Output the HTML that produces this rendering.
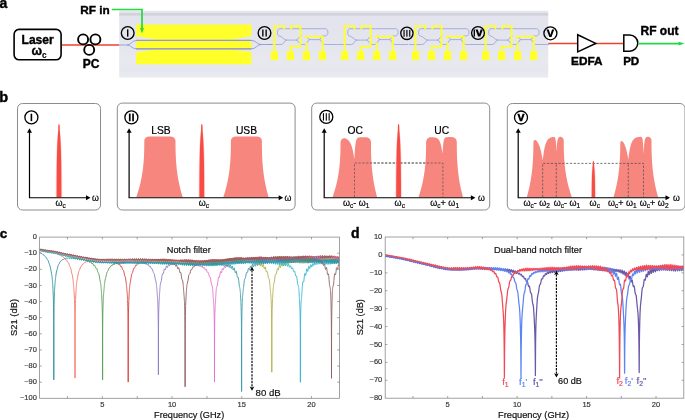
<!DOCTYPE html>
<html><head><meta charset="utf-8"><title>Figure</title><style>
html,body{margin:0;padding:0;background:#fff;overflow:hidden;}
svg{display:block;}
text{font-family:"Liberation Sans",sans-serif;}
.b{font-weight:bold;}
</style></head><body>
<svg width="685" height="420" viewBox="0 0 685 420" style="will-change:transform">
<defs>
<linearGradient id="chipg" x1="0" y1="0" x2="0" y2="1">
<stop offset="0" stop-color="#e8e8ef"/>
<stop offset="0.028" stop-color="#e4e4ec"/>
<stop offset="0.045" stop-color="#cfcfd8"/>
<stop offset="0.062" stop-color="#d2d2da"/>
<stop offset="0.085" stop-color="#e2e3ec"/>
<stop offset="0.45" stop-color="#e4e5ed"/>
<stop offset="0.75" stop-color="#e8e9ef"/>
<stop offset="0.9" stop-color="#e6e7ee"/>
<stop offset="1" stop-color="#ebecf1"/>
</linearGradient>
</defs>
<rect width="685" height="420" fill="#fff"/>

<text x="-0.6" y="7.9" class="b" font-size="14" stroke="#000" stroke-width="0.4">a</text>
<rect x="14.1" y="29.4" width="47" height="30.4" rx="5" fill="#fff" stroke="#000" stroke-width="1.6"/>
<text x="37.6" y="43.9" class="b" font-size="12" text-anchor="middle" stroke="#000" stroke-width="0.4">Laser</text>
<text x="31.5" y="54.8" class="b" font-size="12.5" stroke="#000" stroke-width="0.4">ω</text>
<text x="41.9" y="57.6" class="b" font-size="8.4" stroke="#000" stroke-width="0.12">c</text>
<line x1="62" y1="45" x2="120" y2="45" stroke="#f0402e" stroke-width="1.5"/>
<circle cx="83.1" cy="39.4" r="5.0" fill="none" stroke="#000" stroke-width="1.9"/>
<circle cx="95.4" cy="39.4" r="5.0" fill="none" stroke="#000" stroke-width="1.9"/>
<circle cx="89.2" cy="49.9" r="5.0" fill="none" stroke="#000" stroke-width="1.9"/>
<text x="91" y="68.3" class="b" font-size="12" text-anchor="middle" stroke="#000" stroke-width="0.4">PC</text>
<text x="80.3" y="13.5" class="b" font-size="11.8" stroke="#000" stroke-width="0.4">RF in</text>
<rect x="119.2" y="10.7" width="429" height="66.9" fill="url(#chipg)"/>
<path d="M119.2,45 H127 C131,45 132,40.5 136,40.5 H252 C256,40.5 257,44.5 261,44.5 H272" fill="none" stroke="#8592d8" stroke-width="0.8"/>
<path d="M127,45 C131,45 132,48.8 136,48.8 H252 C256,48.8 257,44.5 261,44.5" fill="none" stroke="#8592d8" stroke-width="0.8"/>
<path d="M136.2,24.4 H251.4 V36.1 L233,39.4 H155 L136.2,36.1 Z" fill="#ffff2a"/>
<rect x="136.2" y="41.3" width="115.2" height="6.7" fill="#ffff2a"/>
<path d="M136.2,52.1 L155,49.8 H233 L251.4,52.1 V64.3 H136.2 Z" fill="#ffff2a"/>
<path d="M136.2,40.4 H251.4 M136.2,48.9 H251.4" stroke="#9c9ca4" stroke-width="1.1" fill="none"/>
<path d="M111.8,9.5 H142 V29" fill="none" stroke="#22d944" stroke-width="1.7"/>
<path d="M140.1,28.0 L143.9,28.0 L142,33.5 Z" fill="#22d944"/>
<path d="M267.8,44.5 H281.3 C283.8,44.5 284.3,40.1 286.8,40.1 H296.1 C298.6,40.1 299.1,44.5 301.6,44.5 H304.8 C307.3,44.5 307.3,39.6 309.8,39.6 H319.3 C321.8,39.6 321.8,44.5 324.3,44.5 H337.8" fill="none" stroke="#8592d8" stroke-width="0.65"/><path d="M286.8,40.1 C283.8,40.1 281.8,36 279.3,36 C276.8,36 276.8,28.7 279.8,28.7 H325.3 C328.8,28.7 328.8,35.9 325.3,35.9 H322.8 C321.3,35.9 320.8,39.6 319.3,39.6" fill="none" stroke="#8592d8" stroke-width="0.65"/><path d="M296.1,40.1 C298.3,40.1 298.8,36 301.3,36" fill="none" stroke="#8592d8" stroke-width="0.65"/><path d="M309.8,39.6 C308.3,39.6 307.8,37 306.8,36.6" fill="none" stroke="#8592d8" stroke-width="0.65"/><path d="M274.40000000000003,52 V26.1 H284.2 V29.5 M290.6,52 V46.6 H300.40000000000003 V26.1 H291.2 V29.5 M306.40000000000003,52 V42.6 M306.1,38.6 V36.6 H322.6 V52" fill="none" stroke="#ffff2a" stroke-width="1.9"/><rect x="270.80" y="51.2" width="7.2" height="9" fill="#ffff2a"/><rect x="286.80" y="51.2" width="7.2" height="9" fill="#ffff2a"/><rect x="302.80" y="51.2" width="7.2" height="9" fill="#ffff2a"/><rect x="318.80" y="51.2" width="7.2" height="9" fill="#ffff2a"/>
<path d="M338.0,44.5 H351.5 C354.0,44.5 354.5,40.1 357.0,40.1 H366.3 C368.8,40.1 369.3,44.5 371.8,44.5 H375.0 C377.5,44.5 377.5,39.6 380.0,39.6 H389.5 C392.0,39.6 392.0,44.5 394.5,44.5 H408.0" fill="none" stroke="#8592d8" stroke-width="0.65"/><path d="M357.0,40.1 C354.0,40.1 352.0,36 349.5,36 C347.0,36 347.0,28.7 350.0,28.7 H395.5 C399.0,28.7 399.0,35.9 395.5,35.9 H393.0 C391.5,35.9 391.0,39.6 389.5,39.6" fill="none" stroke="#8592d8" stroke-width="0.65"/><path d="M366.3,40.1 C368.5,40.1 369.0,36 371.5,36" fill="none" stroke="#8592d8" stroke-width="0.65"/><path d="M380.0,39.6 C378.5,39.6 378.0,37 377.0,36.6" fill="none" stroke="#8592d8" stroke-width="0.65"/><path d="M344.6,52 V26.1 H354.4 V29.5 M360.8,52 V46.6 H370.6 V26.1 H361.4 V29.5 M376.6,52 V42.6 M376.3,38.6 V36.6 H392.8 V52" fill="none" stroke="#ffff2a" stroke-width="1.9"/><rect x="341.00" y="51.2" width="7.2" height="9" fill="#ffff2a"/><rect x="357.00" y="51.2" width="7.2" height="9" fill="#ffff2a"/><rect x="373.00" y="51.2" width="7.2" height="9" fill="#ffff2a"/><rect x="389.00" y="51.2" width="7.2" height="9" fill="#ffff2a"/>
<path d="M408.9,44.5 H422.4 C424.9,44.5 425.4,40.1 427.9,40.1 H437.2 C439.7,40.1 440.2,44.5 442.7,44.5 H445.9 C448.4,44.5 448.4,39.6 450.9,39.6 H460.4 C462.9,39.6 462.9,44.5 465.4,44.5 H478.9" fill="none" stroke="#8592d8" stroke-width="0.65"/><path d="M427.9,40.1 C424.9,40.1 422.9,36 420.4,36 C417.9,36 417.9,28.7 420.9,28.7 H466.4 C469.9,28.7 469.9,35.9 466.4,35.9 H463.9 C462.4,35.9 461.9,39.6 460.4,39.6" fill="none" stroke="#8592d8" stroke-width="0.65"/><path d="M437.2,40.1 C439.4,40.1 439.9,36 442.4,36" fill="none" stroke="#8592d8" stroke-width="0.65"/><path d="M450.9,39.6 C449.4,39.6 448.9,37 447.9,36.6" fill="none" stroke="#8592d8" stroke-width="0.65"/><path d="M415.5,52 V26.1 H425.29999999999995 V29.5 M431.7,52 V46.6 H441.5 V26.1 H432.29999999999995 V29.5 M447.5,52 V42.6 M447.2,38.6 V36.6 H463.7 V52" fill="none" stroke="#ffff2a" stroke-width="1.9"/><rect x="411.90" y="51.2" width="7.2" height="9" fill="#ffff2a"/><rect x="427.90" y="51.2" width="7.2" height="9" fill="#ffff2a"/><rect x="443.90" y="51.2" width="7.2" height="9" fill="#ffff2a"/><rect x="459.90" y="51.2" width="7.2" height="9" fill="#ffff2a"/>
<path d="M479.0,44.5 H492.5 C495.0,44.5 495.5,40.1 498.0,40.1 H507.3 C509.8,40.1 510.3,44.5 512.8,44.5 H516.0 C518.5,44.5 518.5,39.6 521.0,39.6 H530.5 C533.0,39.6 533.0,44.5 535.5,44.5 H549.0" fill="none" stroke="#8592d8" stroke-width="0.65"/><path d="M498.0,40.1 C495.0,40.1 493.0,36 490.5,36 C488.0,36 488.0,28.7 491.0,28.7 H536.5 C540.0,28.7 540.0,35.9 536.5,35.9 H534.0 C532.5,35.9 532.0,39.6 530.5,39.6" fill="none" stroke="#8592d8" stroke-width="0.65"/><path d="M507.3,40.1 C509.5,40.1 510.0,36 512.5,36" fill="none" stroke="#8592d8" stroke-width="0.65"/><path d="M521.0,39.6 C519.5,39.6 519.0,37 518.0,36.6" fill="none" stroke="#8592d8" stroke-width="0.65"/><path d="M485.6,52 V26.1 H495.4 V29.5 M501.8,52 V46.6 H511.6 V26.1 H502.4 V29.5 M517.6,52 V42.6 M517.3,38.6 V36.6 H533.8 V52" fill="none" stroke="#ffff2a" stroke-width="1.9"/><rect x="482.00" y="51.2" width="7.2" height="9" fill="#ffff2a"/><rect x="498.00" y="51.2" width="7.2" height="9" fill="#ffff2a"/><rect x="514.00" y="51.2" width="7.2" height="9" fill="#ffff2a"/><rect x="530.00" y="51.2" width="7.2" height="9" fill="#ffff2a"/>
<path d="M549,43.7 H548" stroke="#8592d8" stroke-width="0.65"/>
<circle cx="127.7" cy="33.0" r="6.35" fill="none" stroke="#000" stroke-width="1.35"/><rect x="127.00" y="29.35" width="1.4" height="7.3" fill="#000"/>
<circle cx="264.5" cy="33.0" r="6.35" fill="none" stroke="#000" stroke-width="1.35"/><rect x="262.18" y="29.50" width="1.35" height="7.0" fill="#000"/><rect x="265.47" y="29.50" width="1.35" height="7.0" fill="#000"/>
<circle cx="406.9" cy="33.3" r="6.15" fill="none" stroke="#000" stroke-width="1.35"/><rect x="403.48" y="29.90" width="1.15" height="6.8" fill="#000"/><rect x="406.33" y="29.90" width="1.15" height="6.8" fill="#000"/><rect x="409.18" y="29.90" width="1.15" height="6.8" fill="#000"/>
<circle cx="478.0" cy="33.0" r="6.4" fill="none" stroke="#000" stroke-width="1.35"/><rect x="473.62" y="29.50" width="1.35" height="7.0" fill="#000"/><path d="M475.50,29.50 L477.80,29.50 L479.20,33.90 L480.60,29.50 L482.90,29.50 L480.30,36.50 L478.10,36.50 Z" fill="#000"/>
<circle cx="550.4" cy="33.3" r="6.5" fill="none" stroke="#000" stroke-width="1.35"/><path d="M546.60,29.50 L548.80,29.50 L550.40,34.70 L552.00,29.50 L554.20,29.50 L551.50,37.10 L549.30,37.10 Z" fill="#000"/>
<line x1="548.5" y1="43.6" x2="624" y2="43.6" stroke="#f0402e" stroke-width="1.5"/>
<path d="M577.7,34.8 L595.7,43.4 L577.7,51.9 Z" fill="#fff" stroke="#000" stroke-width="1.5" stroke-linejoin="miter"/>
<path d="M623.8,35 H629.7 A8.1,8.1 0 0 1 629.7,51.2 H623.8 Z" fill="#fff" stroke="#000" stroke-width="1.5"/>
<line x1="637.9" y1="43.6" x2="680" y2="43.6" stroke="#22d944" stroke-width="1.6"/>
<path d="M678.5,41.8 L684.5,43.6 L678.5,45.4 Z" fill="#22d944"/>
<text x="586.8" y="65.1" class="b" font-size="11.8" text-anchor="middle" stroke="#000" stroke-width="0.4">EDFA</text>
<text x="631.2" y="65.1" class="b" font-size="11.6" text-anchor="middle" stroke="#000" stroke-width="0.4">PD</text>
<text x="659.5" y="35.1" class="b" font-size="12" text-anchor="middle" stroke="#000" stroke-width="0.4">RF out</text>
<text x="-0.8" y="101.8" class="b" font-size="14.5" stroke="#000" stroke-width="0.4">b</text>
<rect x="17.5" y="103.5" width="83" height="106.5" rx="5" fill="#fff" stroke="#8c8c8c" stroke-width="1"/>
<circle cx="31.4" cy="117.4" r="6.5" fill="#fff" stroke="#000" stroke-width="1.3"/><rect x="30.60" y="113.70" width="1.6" height="7.4" fill="#000"/>
<path d="M55.71,197.20 55.72,193.61 55.74,190.10 55.75,186.69 55.77,183.37 55.80,180.14 55.83,177.00 55.86,173.95 55.90,170.99 55.94,168.13 55.99,165.35 56.04,162.67 56.11,160.07 56.17,157.57 56.25,155.16 56.33,152.84 56.42,150.61 56.52,148.47 56.62,146.42 56.74,144.47 56.86,142.60 56.98,140.83 57.11,139.14 57.25,137.55 57.39,136.05 57.53,134.64 57.67,133.32 57.81,132.09 57.96,130.95 58.09,129.91 58.23,128.95 58.28,128.09 58.28,127.31 58.28,126.63 58.38,126.04 58.48,125.54 58.59,125.13 58.69,124.81 58.79,124.58 58.90,124.45 59.00,124.40 59.00,124.40 59.10,124.45 59.21,124.58 59.31,124.81 59.41,125.13 59.52,125.54 59.62,126.04 59.72,126.63 59.72,127.31 59.72,128.09 59.77,128.95 59.91,129.91 60.04,130.95 60.19,132.09 60.33,133.32 60.47,134.64 60.61,136.05 60.75,137.55 60.89,139.14 61.02,140.83 61.14,142.60 61.26,144.47 61.38,146.42 61.48,148.47 61.58,150.61 61.67,152.84 61.75,155.16 61.83,157.57 61.89,160.07 61.96,162.67 62.01,165.35 62.06,168.13 62.10,170.99 62.14,173.95 62.17,177.00 62.20,180.14 62.23,183.37 62.25,186.69 62.26,190.10 62.28,193.61 62.29,197.20Z" fill-opacity="0.22" fill="#f64c43"/><path d="M56.59,197.20 56.60,193.58 56.61,190.05 56.62,186.62 56.64,183.27 56.66,180.02 56.68,176.86 56.70,173.79 56.73,170.81 56.76,167.93 56.80,165.13 56.84,162.43 56.88,159.82 56.93,157.30 56.98,154.87 57.05,152.53 57.11,150.29 57.18,148.13 57.26,146.07 57.34,144.10 57.43,142.22 57.52,140.44 57.62,138.74 57.71,137.14 57.82,135.63 57.92,134.21 58.03,132.88 58.13,131.64 58.23,130.50 58.28,129.44 58.28,128.48 58.28,127.61 58.28,126.83 58.28,126.14 58.38,125.55 58.48,125.05 58.58,124.63 58.69,124.31 58.79,124.08 58.90,123.95 59.00,123.90 59.00,123.90 59.10,123.95 59.21,124.08 59.31,124.31 59.42,124.63 59.52,125.05 59.62,125.55 59.72,126.14 59.72,126.83 59.72,127.61 59.72,128.48 59.72,129.44 59.77,130.50 59.87,131.64 59.97,132.88 60.08,134.21 60.18,135.63 60.29,137.14 60.38,138.74 60.48,140.44 60.57,142.22 60.66,144.10 60.74,146.07 60.82,148.13 60.89,150.29 60.95,152.53 61.02,154.87 61.07,157.30 61.12,159.82 61.16,162.43 61.20,165.13 61.24,167.93 61.27,170.81 61.30,173.79 61.32,176.86 61.34,180.02 61.36,183.27 61.38,186.62 61.39,190.05 61.40,193.58 61.41,197.20Z" fill="#f64c43"/>
<path d="M29.5,131.2 V197.75 H87.5" fill="none" stroke="#000" stroke-width="1.2"/><path d="M27.0,132.7 L29.5,128.2 L32.0,132.7 Z" fill="#000"/><path d="M86.0,195.25 L90.5,197.75 L86.0,200.25 Z" fill="#000"/>
<text x="92.0" y="200.9" font-size="8.8" stroke="#000" stroke-width="0.2">ω</text>
<text x="55.4" y="206.0" font-size="9" stroke="#000" stroke-width="0.2">ω<tspan font-size="6.5" dy="2.4">c</tspan></text>
<rect x="117.3" y="103.1" width="177.8" height="106.9" rx="5" fill="#fff" stroke="#8c8c8c" stroke-width="1"/>
<circle cx="131.4" cy="117.4" r="6.5" fill="#fff" stroke="#000" stroke-width="1.3"/><rect x="128.90" y="113.55" width="1.7" height="7.7" fill="#000"/><rect x="132.20" y="113.55" width="1.7" height="7.7" fill="#000"/>
<path d="M136.25,197.20 137.06,194.86 137.82,192.52 138.53,190.19 139.20,187.85 139.81,185.51 140.38,183.17 140.90,180.84 141.38,178.50 141.81,176.16 142.21,173.82 142.56,171.49 142.88,169.15 143.16,166.81 143.40,164.47 143.61,162.14 143.78,159.80 143.93,157.46 144.05,155.12 144.14,152.79 144.21,150.45 144.26,148.11 144.28,145.78 144.30,143.44 144.30,141.10 144.30,141.10 144.55,139.62 144.80,139.04 145.05,138.61 145.30,138.27 145.55,137.99 145.80,137.75 146.05,137.54 146.30,137.36 146.55,137.20 146.80,137.07 147.05,136.95 147.30,136.86 147.55,136.78 147.80,136.71 148.05,136.66 148.30,136.63 148.55,136.61 148.80,136.60 149.05,136.60 149.30,136.60 149.55,136.60 149.80,136.60 150.05,136.60 150.30,136.60 150.55,136.60 150.80,136.60 151.05,136.60 151.30,136.60 151.55,136.60 151.80,136.60 152.05,136.60 152.30,136.60 152.55,136.60 152.80,136.60 153.05,136.60 153.30,136.60 153.55,136.60 153.80,136.60 154.05,136.60 154.30,136.60 154.55,136.60 154.80,136.60 155.05,136.60 155.30,136.60 155.55,136.60 155.80,136.60 156.05,136.60 156.30,136.60 156.55,136.60 156.80,136.60 157.05,136.60 157.30,136.60 157.55,136.60 157.80,136.60 158.05,136.60 158.30,136.60 158.55,136.60 158.80,136.60 159.05,136.60 159.30,136.60 159.55,136.60 159.80,136.60 160.05,136.60 160.30,136.60 160.55,136.60 160.80,136.60 161.05,136.60 161.30,136.60 161.55,136.60 161.80,136.60 162.05,136.60 162.30,136.60 162.55,136.60 162.80,136.60 163.05,136.60 163.30,136.60 163.55,136.60 163.80,136.60 164.05,136.60 164.30,136.60 164.55,136.60 164.80,136.60 165.05,136.60 165.30,136.60 165.55,136.60 165.80,136.60 166.05,136.60 166.30,136.60 166.55,136.60 166.80,136.60 167.05,136.60 167.30,136.60 167.55,136.60 167.80,136.60 168.05,136.60 168.30,136.60 168.55,136.60 168.80,136.60 169.05,136.60 169.30,136.60 169.55,136.60 169.80,136.60 170.05,136.60 170.30,136.60 170.55,136.60 170.80,136.60 171.05,136.60 171.30,136.61 171.55,136.63 171.80,136.67 172.05,136.72 172.30,136.79 172.55,136.88 172.80,136.98 173.05,137.09 173.30,137.23 173.55,137.39 173.80,137.58 174.05,137.79 174.30,138.04 174.55,138.33 174.80,138.69 175.05,139.14 175.30,139.77 175.50,141.10 175.50,143.44 175.51,145.78 175.54,148.11 175.58,150.45 175.64,152.79 175.72,155.12 175.83,157.46 175.96,159.80 176.12,162.14 176.31,164.47 176.52,166.81 176.77,169.15 177.05,171.49 177.37,173.82 177.72,176.16 178.11,178.50 178.54,180.84 179.01,183.17 179.52,185.51 180.06,187.85 180.66,190.19 181.29,192.52 181.97,194.86 182.70,197.20Z" fill="#f6867e"/>
<path d="M223.30,197.20 224.07,194.86 224.79,192.52 225.46,190.19 226.08,187.85 226.66,185.51 227.20,183.17 227.69,180.84 228.14,178.50 228.55,176.16 228.92,173.82 229.26,171.49 229.56,169.15 229.82,166.81 230.05,164.47 230.25,162.14 230.41,159.80 230.55,157.46 230.66,155.12 230.75,152.79 230.81,150.45 230.86,148.11 230.88,145.78 230.90,143.44 230.90,141.10 230.90,141.10 231.15,139.62 231.40,139.04 231.65,138.61 231.90,138.27 232.15,137.99 232.40,137.75 232.65,137.54 232.90,137.36 233.15,137.20 233.40,137.07 233.65,136.95 233.90,136.86 234.15,136.78 234.40,136.71 234.65,136.66 234.90,136.63 235.15,136.61 235.40,136.60 235.65,136.60 235.90,136.60 236.15,136.60 236.40,136.60 236.65,136.60 236.90,136.60 237.15,136.60 237.40,136.60 237.65,136.60 237.90,136.60 238.15,136.60 238.40,136.60 238.65,136.60 238.90,136.60 239.15,136.60 239.40,136.60 239.65,136.60 239.90,136.60 240.15,136.60 240.40,136.60 240.65,136.60 240.90,136.60 241.15,136.60 241.40,136.60 241.65,136.60 241.90,136.60 242.15,136.60 242.40,136.60 242.65,136.60 242.90,136.60 243.15,136.60 243.40,136.60 243.65,136.60 243.90,136.60 244.15,136.60 244.40,136.60 244.65,136.60 244.90,136.60 245.15,136.60 245.40,136.60 245.65,136.60 245.90,136.60 246.15,136.60 246.40,136.60 246.65,136.60 246.90,136.60 247.15,136.60 247.40,136.60 247.65,136.60 247.90,136.60 248.15,136.60 248.40,136.60 248.65,136.60 248.90,136.60 249.15,136.60 249.40,136.60 249.65,136.60 249.90,136.60 250.15,136.60 250.40,136.60 250.65,136.60 250.90,136.60 251.15,136.60 251.40,136.60 251.65,136.60 251.90,136.60 252.15,136.60 252.40,136.60 252.65,136.60 252.90,136.60 253.15,136.60 253.40,136.60 253.65,136.60 253.90,136.60 254.15,136.60 254.40,136.60 254.65,136.60 254.90,136.60 255.15,136.60 255.40,136.60 255.65,136.60 255.90,136.60 256.15,136.60 256.40,136.60 256.65,136.60 256.90,136.60 257.15,136.60 257.40,136.60 257.65,136.61 257.90,136.63 258.15,136.66 258.40,136.71 258.65,136.78 258.90,136.86 259.15,136.95 259.40,137.07 259.65,137.20 259.90,137.36 260.15,137.54 260.40,137.75 260.65,137.99 260.90,138.27 261.15,138.61 261.40,139.04 261.65,139.62 261.90,141.10 261.90,141.10 261.90,143.44 261.91,145.78 261.94,148.11 261.98,150.45 262.03,152.79 262.11,155.12 262.21,157.46 262.33,159.80 262.48,162.14 262.65,164.47 262.85,166.81 263.08,169.15 263.35,171.49 263.64,173.82 263.97,176.16 264.33,178.50 264.73,180.84 265.16,183.17 265.64,185.51 266.15,187.85 266.70,190.19 267.29,192.52 267.92,194.86 268.60,197.20Z" fill="#f6867e"/>
<path d="M198.51,197.20 198.52,193.61 198.54,190.10 198.55,186.69 198.57,183.37 198.60,180.14 198.63,177.00 198.66,173.95 198.70,170.99 198.74,168.13 198.79,165.35 198.84,162.67 198.91,160.07 198.97,157.57 199.05,155.16 199.13,152.84 199.22,150.61 199.32,148.47 199.42,146.42 199.54,144.47 199.66,142.60 199.78,140.83 199.91,139.14 200.05,137.55 200.19,136.05 200.33,134.64 200.47,133.32 200.61,132.09 200.76,130.95 200.89,129.91 201.03,128.95 201.08,128.09 201.08,127.31 201.08,126.63 201.18,126.04 201.28,125.54 201.39,125.13 201.49,124.81 201.59,124.58 201.70,124.45 201.80,124.40 201.80,124.40 201.90,124.45 202.01,124.58 202.11,124.81 202.21,125.13 202.32,125.54 202.42,126.04 202.52,126.63 202.52,127.31 202.52,128.09 202.57,128.95 202.71,129.91 202.84,130.95 202.99,132.09 203.13,133.32 203.27,134.64 203.41,136.05 203.55,137.55 203.69,139.14 203.82,140.83 203.94,142.60 204.06,144.47 204.18,146.42 204.28,148.47 204.38,150.61 204.47,152.84 204.55,155.16 204.63,157.57 204.69,160.07 204.76,162.67 204.81,165.35 204.86,168.13 204.90,170.99 204.94,173.95 204.97,177.00 205.00,180.14 205.03,183.37 205.05,186.69 205.06,190.10 205.08,193.61 205.09,197.20Z" fill-opacity="0.22" fill="#f64c43"/><path d="M199.39,197.20 199.40,193.58 199.41,190.05 199.42,186.62 199.44,183.27 199.46,180.02 199.48,176.86 199.50,173.79 199.53,170.81 199.56,167.93 199.60,165.13 199.64,162.43 199.68,159.82 199.73,157.30 199.78,154.87 199.85,152.53 199.91,150.29 199.98,148.13 200.06,146.07 200.14,144.10 200.23,142.22 200.32,140.44 200.42,138.74 200.51,137.14 200.62,135.63 200.72,134.21 200.83,132.88 200.93,131.64 201.03,130.50 201.08,129.44 201.08,128.48 201.08,127.61 201.08,126.83 201.08,126.14 201.18,125.55 201.28,125.05 201.38,124.63 201.49,124.31 201.59,124.08 201.70,123.95 201.80,123.90 201.80,123.90 201.90,123.95 202.01,124.08 202.11,124.31 202.22,124.63 202.32,125.05 202.42,125.55 202.52,126.14 202.52,126.83 202.52,127.61 202.52,128.48 202.52,129.44 202.57,130.50 202.67,131.64 202.77,132.88 202.88,134.21 202.98,135.63 203.09,137.14 203.18,138.74 203.28,140.44 203.37,142.22 203.46,144.10 203.54,146.07 203.62,148.13 203.69,150.29 203.75,152.53 203.82,154.87 203.87,157.30 203.92,159.82 203.96,162.43 204.00,165.13 204.04,167.93 204.07,170.81 204.10,173.79 204.12,176.86 204.14,180.02 204.16,183.27 204.18,186.62 204.19,190.05 204.20,193.58 204.21,197.20Z" fill="#f64c43"/>
<path d="M129.1,131.2 V197.75 H280.2" fill="none" stroke="#000" stroke-width="1.2"/><path d="M126.6,132.7 L129.1,128.2 L131.6,132.7 Z" fill="#000"/><path d="M278.7,195.25 L283.2,197.75 L278.7,200.25 Z" fill="#000"/>
<text x="284.6" y="200.9" font-size="8.8" stroke="#000" stroke-width="0.2">ω</text>
<text x="198.8" y="206.0" font-size="9" stroke="#000" stroke-width="0.2">ω<tspan font-size="6.5" dy="2.4">c</tspan></text>
<text x="160.9" y="133.9" font-size="10.3" text-anchor="middle" stroke="#000" stroke-width="0.2">LSB</text>
<text x="246.5" y="133.9" font-size="10.3" text-anchor="middle" stroke="#000" stroke-width="0.2">USB</text>
<rect x="311.7" y="103.1" width="178.0" height="106.9" rx="5" fill="#fff" stroke="#8c8c8c" stroke-width="1"/>
<circle cx="326.3" cy="116.9" r="6.5" fill="#fff" stroke="#000" stroke-width="1.3"/><rect x="322.90" y="113.20" width="1.10" height="7.4" fill="#000"/><rect x="325.75" y="113.20" width="1.10" height="7.4" fill="#000"/><rect x="328.60" y="113.20" width="1.10" height="7.4" fill="#000"/>
<path d="M354.5,197 V163 H442.9 V197" fill="none" stroke="#555" stroke-width="0.8" stroke-dasharray="2.2,1.6"/>
<path d="M332.50,197.20 333.31,194.91 334.06,192.62 334.77,190.34 335.43,188.05 336.04,185.76 336.60,183.47 337.12,181.19 337.60,178.90 338.03,176.61 338.42,174.32 338.77,172.04 339.09,169.75 339.36,167.46 339.60,165.18 339.81,162.89 339.99,160.60 340.13,158.31 340.25,156.03 340.34,153.74 340.41,151.45 340.46,149.16 340.48,146.88 340.50,144.59 340.50,142.30 340.50,142.52 340.75,140.98 341.00,140.38 341.25,139.95 341.50,139.61 341.75,139.32 342.00,139.09 342.25,138.89 342.50,138.73 342.75,138.59 343.00,138.47 343.25,138.38 343.50,138.31 343.75,138.26 344.00,138.23 344.25,138.22 344.50,138.23 344.75,138.26 345.00,138.31 345.25,138.37 345.50,138.46 345.75,138.56 346.00,138.67 346.25,138.79 346.50,138.92 346.75,139.06 347.00,139.21 347.25,139.38 347.50,139.56 347.75,139.75 348.00,139.96 348.25,140.20 348.50,140.45 348.75,140.72 349.00,141.02 349.25,141.34 349.50,141.69 349.75,142.08 350.00,142.49 350.25,142.94 350.50,143.43 350.75,143.96 351.00,144.54 351.25,145.17 351.50,145.86 351.75,146.60 352.00,147.41 352.25,148.29 352.50,149.24 352.75,150.28 353.00,151.41 353.25,152.64 353.50,153.97 353.75,155.42 354.00,156.99 354.25,158.70 354.50,157.43 354.75,152.55 355.00,148.85 355.25,146.05 355.50,143.93 355.75,142.32 356.00,141.10 356.25,140.18 356.50,139.48 356.75,138.95 357.00,138.55 357.25,138.25 357.50,138.02 357.75,137.84 358.00,137.71 358.25,137.61 358.50,137.54 358.75,137.48 359.00,137.44 359.25,137.40 359.50,137.38 359.75,137.36 360.00,137.34 360.25,137.33 360.50,137.33 360.75,137.32 361.00,137.31 361.25,137.31 361.50,137.31 361.75,137.31 362.00,137.30 362.25,137.30 362.50,137.30 362.75,137.30 363.00,137.30 363.25,137.30 363.50,137.30 363.75,137.30 364.00,137.30 364.25,137.30 364.50,137.30 364.75,137.30 365.00,137.30 365.25,137.30 365.50,137.30 365.75,137.30 366.00,137.30 366.25,137.31 366.50,137.33 366.75,137.36 367.00,137.40 367.25,137.46 367.50,137.53 367.75,137.62 368.00,137.72 368.25,137.83 368.50,137.97 368.75,138.12 369.00,138.30 369.25,138.50 369.50,138.73 369.75,138.99 370.00,139.30 370.25,139.67 370.50,140.12 370.75,140.74 371.00,142.30 371.00,142.30 371.00,144.59 371.01,146.88 371.03,149.16 371.07,151.45 371.12,153.74 371.19,156.03 371.28,158.31 371.39,160.60 371.53,162.89 371.68,165.18 371.87,167.46 372.08,169.75 372.32,172.04 372.59,174.32 372.88,176.61 373.21,178.90 373.58,181.19 373.97,183.47 374.40,185.76 374.87,188.05 375.37,190.34 375.91,192.62 376.48,194.91 377.10,197.20Z" fill="#f6867e"/>
<path d="M418.50,197.20 419.27,194.90 419.99,192.61 420.66,190.31 421.28,188.02 421.86,185.72 422.40,183.42 422.89,181.13 423.34,178.83 423.75,176.54 424.12,174.24 424.46,171.95 424.76,169.65 425.02,167.35 425.25,165.06 425.45,162.76 425.61,160.47 425.75,158.17 425.86,155.88 425.95,153.58 426.01,151.28 426.06,148.99 426.08,146.69 426.10,144.40 426.10,142.10 426.10,142.10 426.35,140.54 426.60,139.93 426.85,139.47 427.10,139.11 427.35,138.80 427.60,138.54 427.85,138.31 428.10,138.11 428.35,137.94 428.60,137.79 428.85,137.65 429.10,137.54 429.35,137.44 429.60,137.36 429.85,137.29 430.10,137.24 430.35,137.20 430.60,137.17 430.85,137.16 431.10,137.16 431.35,137.17 431.60,137.17 431.85,137.18 432.10,137.20 432.35,137.21 432.60,137.22 432.85,137.24 433.10,137.26 433.35,137.28 433.60,137.30 433.85,137.33 434.10,137.36 434.35,137.39 434.60,137.43 434.85,137.48 435.10,137.53 435.35,137.58 435.60,137.65 435.85,137.72 436.10,137.81 436.35,137.90 436.60,138.01 436.85,138.13 437.10,138.26 437.35,138.42 437.60,138.59 437.85,138.79 438.10,139.02 438.35,139.27 438.60,139.56 438.85,139.89 439.10,140.26 439.35,140.68 439.60,141.16 439.85,141.70 440.10,142.31 440.35,143.00 440.60,143.79 440.85,144.68 441.10,145.69 441.35,146.83 441.60,148.13 441.85,149.60 442.10,151.26 442.35,153.15 442.60,152.37 442.85,148.27 443.10,145.27 443.35,143.08 443.60,141.47 443.85,140.30 444.10,139.44 444.35,138.81 444.60,138.35 444.85,138.02 445.10,137.77 445.35,137.59 445.60,137.46 445.85,137.36 446.10,137.29 446.35,137.24 446.60,137.20 446.85,137.18 447.10,137.16 447.35,137.14 447.60,137.13 447.85,137.12 448.10,137.12 448.35,137.11 448.60,137.11 448.85,137.11 449.10,137.10 449.35,137.10 449.60,137.10 449.85,137.10 450.10,137.10 450.35,137.10 450.60,137.10 450.85,137.10 451.10,137.10 451.35,137.10 451.60,137.10 451.85,137.10 452.10,137.11 452.35,137.13 452.60,137.16 452.85,137.21 453.10,137.27 453.35,137.35 453.60,137.44 453.85,137.54 454.10,137.66 454.35,137.80 454.60,137.96 454.85,138.14 455.10,138.34 455.35,138.58 455.60,138.85 455.85,139.17 456.10,139.55 456.35,140.03 456.60,140.70 456.80,142.10 456.80,144.40 456.81,146.69 456.83,148.99 456.87,151.28 456.92,153.58 456.99,155.88 457.08,158.17 457.20,160.47 457.33,162.76 457.49,165.06 457.68,167.35 457.90,169.65 458.14,171.95 458.41,174.24 458.71,176.54 459.05,178.83 459.42,181.13 459.82,183.42 460.26,185.72 460.73,188.02 461.24,190.31 461.79,192.61 462.37,194.90 463.00,197.20Z" fill="#f6867e"/>
<path d="M354.5,197 V163 H442.9 V197" fill="none" stroke="#555" stroke-width="0.8" stroke-dasharray="2.2,1.6" opacity="0.9"/>
<path d="M395.31,197.20 395.32,193.61 395.34,190.10 395.35,186.69 395.37,183.37 395.40,180.14 395.43,177.00 395.46,173.95 395.50,170.99 395.54,168.13 395.59,165.35 395.64,162.67 395.71,160.07 395.77,157.57 395.85,155.16 395.93,152.84 396.02,150.61 396.12,148.47 396.22,146.42 396.34,144.47 396.46,142.60 396.58,140.83 396.71,139.14 396.85,137.55 396.99,136.05 397.13,134.64 397.27,133.32 397.41,132.09 397.56,130.95 397.69,129.91 397.83,128.95 397.88,128.09 397.88,127.31 397.88,126.63 397.98,126.04 398.08,125.54 398.19,125.13 398.29,124.81 398.39,124.58 398.50,124.45 398.60,124.40 398.60,124.40 398.70,124.45 398.81,124.58 398.91,124.81 399.01,125.13 399.12,125.54 399.22,126.04 399.32,126.63 399.32,127.31 399.32,128.09 399.37,128.95 399.51,129.91 399.64,130.95 399.79,132.09 399.93,133.32 400.07,134.64 400.21,136.05 400.35,137.55 400.49,139.14 400.62,140.83 400.74,142.60 400.86,144.47 400.98,146.42 401.08,148.47 401.18,150.61 401.27,152.84 401.35,155.16 401.43,157.57 401.49,160.07 401.56,162.67 401.61,165.35 401.66,168.13 401.70,170.99 401.74,173.95 401.77,177.00 401.80,180.14 401.83,183.37 401.85,186.69 401.86,190.10 401.88,193.61 401.89,197.20Z" fill-opacity="0.22" fill="#f64c43"/><path d="M396.19,197.20 396.20,193.58 396.21,190.05 396.22,186.62 396.24,183.27 396.26,180.02 396.28,176.86 396.30,173.79 396.33,170.81 396.36,167.93 396.40,165.13 396.44,162.43 396.48,159.82 396.53,157.30 396.58,154.87 396.65,152.53 396.71,150.29 396.78,148.13 396.86,146.07 396.94,144.10 397.03,142.22 397.12,140.44 397.22,138.74 397.31,137.14 397.42,135.63 397.52,134.21 397.63,132.88 397.73,131.64 397.83,130.50 397.88,129.44 397.88,128.48 397.88,127.61 397.88,126.83 397.88,126.14 397.98,125.55 398.08,125.05 398.18,124.63 398.29,124.31 398.39,124.08 398.50,123.95 398.60,123.90 398.60,123.90 398.70,123.95 398.81,124.08 398.91,124.31 399.02,124.63 399.12,125.05 399.22,125.55 399.32,126.14 399.32,126.83 399.32,127.61 399.32,128.48 399.32,129.44 399.37,130.50 399.47,131.64 399.57,132.88 399.68,134.21 399.78,135.63 399.89,137.14 399.98,138.74 400.08,140.44 400.17,142.22 400.26,144.10 400.34,146.07 400.42,148.13 400.49,150.29 400.55,152.53 400.62,154.87 400.67,157.30 400.72,159.82 400.76,162.43 400.80,165.13 400.84,167.93 400.87,170.81 400.90,173.79 400.92,176.86 400.94,180.02 400.96,183.27 400.98,186.62 400.99,190.05 401.00,193.58 401.01,197.20Z" fill="#f64c43"/>
<path d="M324.2,131.2 V197.75 H472.4" fill="none" stroke="#000" stroke-width="1.2"/><path d="M321.7,132.7 L324.2,128.2 L326.7,132.7 Z" fill="#000"/><path d="M470.9,195.25 L475.4,197.75 L470.9,200.25 Z" fill="#000"/>
<text x="478.0" y="200.9" font-size="8.8" stroke="#000" stroke-width="0.2">ω</text>
<text x="394.6" y="206.0" font-size="9" stroke="#000" stroke-width="0.2">ω<tspan font-size="6.5" dy="2.4">c</tspan></text>
<text x="355.3" y="133.6" font-size="10.3" text-anchor="middle" stroke="#000" stroke-width="0.2">OC</text>
<text x="441.8" y="133.6" font-size="10.3" text-anchor="middle" stroke="#000" stroke-width="0.2">UC</text>
<text x="342.9" y="206.0" font-size="9" stroke="#000" stroke-width="0.2">ω<tspan font-size="6.5" dy="2.4">c</tspan><tspan dy="-2.4">-</tspan> ω<tspan font-size="6.5" dy="2.4">1</tspan></text>
<text x="430.3" y="206.0" font-size="9" stroke="#000" stroke-width="0.2">ω<tspan font-size="6.5" dy="2.4">c</tspan><tspan dy="-2.4">+</tspan> ω<tspan font-size="6.5" dy="2.4">1</tspan></text>
<rect x="507.3" y="103.5" width="177.7" height="106.5" rx="5" fill="#fff" stroke="#8c8c8c" stroke-width="1"/>
<circle cx="521.0" cy="117.5" r="6.5" fill="#fff" stroke="#000" stroke-width="1.3"/><path d="M517.20,113.80 L519.40,113.80 L521.00,118.80 L522.60,113.80 L524.80,113.80 L522.10,121.20 L519.90,121.20 Z" fill="#000"/>
<path d="M526.80,197.20 527.47,194.84 528.09,192.48 528.67,190.12 529.22,187.77 529.72,185.41 530.18,183.05 530.61,180.69 531.00,178.33 531.36,175.97 531.68,173.62 531.97,171.26 532.23,168.90 532.46,166.54 532.66,164.18 532.83,161.82 532.98,159.47 533.10,157.11 533.19,154.75 533.27,152.39 533.33,150.03 533.36,147.67 533.39,145.32 533.40,142.96 533.40,140.60 533.40,142.28 533.65,141.02 533.90,140.61 534.15,140.35 534.40,140.19 534.65,140.10 534.90,140.06 535.15,140.07 535.40,140.12 535.65,140.21 535.90,140.33 536.15,140.49 536.40,140.69 536.65,140.93 536.90,141.21 537.15,141.52 537.40,141.88 537.65,142.27 537.90,142.69 538.15,143.14 538.40,143.63 538.65,144.15 538.90,144.70 539.15,145.30 539.40,145.95 539.65,146.64 539.90,147.38 540.15,148.18 540.40,149.04 540.65,149.96 540.90,150.95 541.15,152.01 541.40,153.15 541.65,154.38 541.90,155.70 542.15,157.11 542.40,158.63 542.65,160.26 542.90,158.75 543.15,156.65 543.40,154.74 543.65,153.01 543.90,151.45 544.15,150.04 544.40,148.76 544.65,147.60 544.90,146.55 545.15,145.61 545.40,144.75 545.65,143.97 545.90,143.27 546.15,142.64 546.40,142.06 546.65,141.54 546.90,141.07 547.15,140.65 547.40,140.26 547.65,139.91 547.90,139.60 548.15,139.31 548.40,139.05 548.65,138.82 548.90,138.61 549.15,138.42 549.40,138.25 549.65,138.09 549.90,137.95 550.15,137.82 550.40,137.70 550.65,137.60 550.90,137.50 551.15,137.42 551.40,137.34 551.65,137.27 551.90,137.21 552.15,137.15 552.40,137.10 552.65,137.06 552.90,137.02 553.15,136.99 553.40,136.97 553.65,136.96 553.90,136.98 554.15,137.02 554.40,137.10 554.65,137.27 554.90,137.55 555.15,138.03 555.40,138.83 555.65,140.17 555.90,142.39 556.15,146.05 556.40,152.10 556.65,147.96 556.90,144.92 557.15,142.70 557.40,141.08 557.65,139.89 557.90,139.02 558.15,138.38 558.40,137.91 558.65,137.57 558.90,137.31 559.15,137.13 559.40,136.99 559.65,136.89 559.90,136.82 560.15,136.78 560.40,136.78 560.65,136.80 560.90,136.84 561.15,136.91 561.40,137.00 561.65,137.11 561.90,137.25 562.15,137.42 562.40,137.62 562.65,137.86 562.90,138.15 563.15,138.50 563.40,138.97 563.65,139.72 563.75,140.60 563.75,142.96 563.77,145.32 563.79,147.67 563.84,150.03 563.91,152.39 564.00,154.75 564.12,157.11 564.27,159.47 564.44,161.82 564.65,164.18 564.89,166.54 565.17,168.90 565.49,171.26 565.84,173.62 566.24,175.97 566.67,178.33 567.15,180.69 567.67,183.05 568.24,185.41 568.85,187.77 569.52,190.12 570.23,192.48 570.99,194.84 571.80,197.20Z" fill="#f6867e"/>
<path d="M613.50,197.20 614.19,194.84 614.83,192.48 615.43,190.12 615.99,187.77 616.51,185.41 616.99,183.05 617.43,180.69 617.83,178.33 618.20,175.97 618.53,173.62 618.83,171.26 619.10,168.90 619.33,166.54 619.54,164.18 619.71,161.82 619.86,159.47 619.99,157.11 620.09,154.75 620.17,152.39 620.22,150.03 620.26,147.67 620.29,145.32 620.30,142.96 620.30,140.60 620.30,142.96 620.55,141.74 620.80,141.39 621.05,141.19 621.30,141.09 621.55,141.07 621.80,141.10 622.05,141.18 622.30,141.31 622.55,141.49 622.80,141.71 623.05,141.98 623.30,142.29 623.55,142.64 623.80,143.05 624.05,143.50 624.30,144.00 624.55,144.55 624.80,145.13 625.05,145.77 625.30,146.45 625.55,147.17 625.80,147.96 626.05,148.80 626.30,149.70 626.55,150.67 626.80,151.71 627.05,152.83 627.30,154.03 627.55,155.33 627.80,156.71 628.05,158.20 628.30,159.80 628.55,157.59 628.80,155.59 629.05,153.79 629.30,152.15 629.55,150.67 629.80,149.33 630.05,148.12 630.30,147.02 630.55,146.03 630.80,145.13 631.05,144.32 631.30,143.59 631.55,142.92 631.80,142.32 632.05,141.78 632.30,141.28 632.55,140.84 632.80,140.43 633.05,140.07 633.30,139.74 633.55,139.44 633.80,139.17 634.05,138.93 634.30,138.70 634.55,138.50 634.80,138.32 635.05,138.16 635.30,138.01 635.55,137.88 635.80,137.76 636.05,137.65 636.30,137.55 636.55,137.46 636.80,137.37 637.05,137.30 637.30,137.23 637.55,137.17 637.80,137.12 638.05,137.07 638.30,137.03 638.55,136.99 638.80,136.95 639.05,136.92 639.30,136.89 639.55,136.86 639.80,136.84 640.05,136.83 640.30,136.82 640.55,136.82 640.80,136.84 641.05,136.88 641.30,136.95 641.55,137.09 641.80,137.32 642.05,137.71 642.30,138.36 642.55,139.43 642.80,141.21 643.05,144.14 643.30,148.99 643.55,153.94 643.80,149.29 644.05,145.89 644.30,143.41 644.55,141.59 644.80,140.25 645.05,139.28 645.30,138.57 645.55,138.04 645.80,137.66 646.05,137.38 646.30,137.17 646.55,137.02 646.80,136.91 647.05,136.83 647.30,136.77 647.55,136.73 647.80,136.71 648.05,136.71 648.30,136.73 648.55,136.78 648.80,136.85 649.05,136.94 649.30,137.05 649.55,137.18 649.80,137.34 650.05,137.53 650.30,137.75 650.55,138.02 650.80,138.34 651.05,138.76 651.30,139.35 651.50,140.60 651.50,142.96 651.51,145.32 651.54,147.67 651.57,150.03 651.63,152.39 651.71,154.75 651.80,157.11 651.92,159.47 652.07,161.82 652.24,164.18 652.44,166.54 652.67,168.90 652.93,171.26 653.22,173.62 653.54,175.97 653.90,178.33 654.29,180.69 654.72,183.05 655.18,185.41 655.68,187.77 656.23,190.12 656.81,192.48 657.43,194.84 658.10,197.20Z" fill="#f6867e"/>
<path d="M542.7,197 V163.4 H643.5 V197 M556.3,197 V163.4 M628.3,197 V163.4" fill="none" stroke="#555" stroke-width="0.8" stroke-dasharray="2.2,1.6"/>
<path d="M590.84,197.20 590.85,195.43 590.87,193.70 590.88,192.02 590.90,190.38 590.91,188.79 590.94,187.24 590.96,185.73 590.99,184.28 591.02,182.86 591.06,181.49 591.10,180.17 591.15,178.89 591.20,177.66 591.26,176.47 591.32,175.32 591.39,174.22 591.47,173.17 591.55,172.16 591.64,171.19 591.73,170.28 591.82,169.40 591.92,168.57 592.03,167.78 592.14,167.04 592.25,166.35 592.36,165.70 592.47,165.09 592.57,164.53 592.68,164.01 592.68,163.54 592.75,163.12 592.82,162.74 592.89,162.40 592.96,162.11 593.04,161.86 593.11,161.66 593.18,161.50 593.25,161.39 593.33,161.32 593.40,161.30 593.40,161.30 593.47,161.32 593.55,161.39 593.62,161.50 593.69,161.66 593.76,161.86 593.84,162.11 593.91,162.40 593.98,162.74 594.05,163.12 594.12,163.54 594.12,164.01 594.23,164.53 594.33,165.09 594.44,165.70 594.55,166.35 594.66,167.04 594.77,167.78 594.88,168.57 594.98,169.40 595.07,170.28 595.16,171.19 595.25,172.16 595.33,173.17 595.41,174.22 595.48,175.32 595.54,176.47 595.60,177.66 595.65,178.89 595.70,180.17 595.74,181.49 595.78,182.86 595.81,184.28 595.84,185.73 595.86,187.24 595.89,188.79 595.90,190.38 595.92,192.02 595.93,193.70 595.95,195.43 595.96,197.20Z" fill-opacity="0.22" fill="#f64c43"/><path d="M591.73,197.20 591.74,195.40 591.74,193.65 591.75,191.94 591.76,190.28 591.77,188.67 591.79,187.10 591.81,185.57 591.82,184.10 591.85,182.66 591.87,181.28 591.90,179.93 591.93,178.64 591.96,177.38 592.00,176.18 592.04,175.02 592.09,173.90 592.14,172.83 592.19,171.81 592.25,170.83 592.31,169.90 592.37,169.01 592.44,168.17 592.50,167.37 592.57,166.62 592.65,165.92 592.68,165.26 592.68,164.64 592.68,164.08 592.68,163.55 592.68,163.08 592.74,162.64 592.81,162.26 592.89,161.91 592.96,161.62 593.03,161.37 593.11,161.16 593.18,161.00 593.25,160.89 593.33,160.82 593.40,160.80 593.40,160.80 593.47,160.82 593.55,160.89 593.62,161.00 593.69,161.16 593.77,161.37 593.84,161.62 593.91,161.91 593.99,162.26 594.06,162.64 594.12,163.08 594.12,163.55 594.12,164.08 594.12,164.64 594.12,165.26 594.15,165.92 594.23,166.62 594.30,167.37 594.36,168.17 594.43,169.01 594.49,169.90 594.55,170.83 594.61,171.81 594.66,172.83 594.71,173.90 594.76,175.02 594.80,176.18 594.84,177.38 594.87,178.64 594.90,179.93 594.93,181.28 594.95,182.66 594.98,184.10 594.99,185.57 595.01,187.10 595.03,188.67 595.04,190.28 595.05,191.94 595.06,193.65 595.06,195.40 595.07,197.20Z" fill="#f64c43"/>
<path d="M518.2,131.2 V197.75 H667" fill="none" stroke="#000" stroke-width="1.2"/><path d="M515.7,132.7 L518.2,128.2 L520.7,132.7 Z" fill="#000"/><path d="M665.5,195.25 L670,197.75 L665.5,200.25 Z" fill="#000"/>
<text x="673.1" y="200.9" font-size="8.8" stroke="#000" stroke-width="0.2">ω</text>
<text x="589.6" y="206.0" font-size="9" stroke="#000" stroke-width="0.2">ω<tspan font-size="6.5" dy="2.4">c</tspan></text>
<text x="523.5" y="206.0" font-size="9" stroke="#000" stroke-width="0.2">ω<tspan font-size="6.5" dy="2.4">c</tspan><tspan dy="-2.4">-</tspan> ω<tspan font-size="6.5" dy="2.4">2</tspan></text>
<text x="553.8" y="206.0" font-size="9" stroke="#000" stroke-width="0.2">ω<tspan font-size="6.5" dy="2.4">c</tspan><tspan dy="-2.4">-</tspan> ω<tspan font-size="6.5" dy="2.4">1</tspan></text>
<text x="608" y="206.0" font-size="9" stroke="#000" stroke-width="0.2">ω<tspan font-size="6.5" dy="2.4">c</tspan><tspan dy="-2.4">+</tspan> ω<tspan font-size="6.5" dy="2.4">1</tspan></text>
<text x="639.8" y="206.0" font-size="9" stroke="#000" stroke-width="0.2">ω<tspan font-size="6.5" dy="2.4">c</tspan><tspan dy="-2.4">+</tspan> ω<tspan font-size="6.5" dy="2.4">2</tspan></text>
<rect x="39.6" y="237.1" width="299.79999999999995" height="161.20000000000002" fill="#fff"/>
<clipPath id="cc"><rect x="39.6" y="235.1" width="299.79999999999995" height="163.20000000000002"/></clipPath>
<g clip-path="url(#cc)" fill="none" stroke-width="0.9" stroke-linejoin="round">
<path d="M39.60,249.84 39.95,249.77 40.30,249.75 40.65,249.92 41.00,250.21 41.35,250.37 41.70,250.32 42.05,250.18 42.40,250.22 42.75,250.44 43.10,250.77 43.45,250.87 43.80,250.75 44.15,250.60 44.50,250.60 44.85,250.92 45.20,251.27 45.55,251.34 45.90,251.15 46.25,250.95 46.60,251.04 46.95,251.46 47.30,251.77 47.65,251.74 48.00,251.46 48.35,251.27 48.70,251.48 49.05,251.89 49.40,252.18 49.75,252.05 50.10,251.74 50.45,251.64 50.80,251.95 51.15,252.41 51.50,252.55 51.85,252.37 52.20,252.10 52.55,252.12 52.90,252.51 53.25,252.92 53.60,253.03 53.95,252.84 54.30,252.60 54.65,252.75 55.00,253.11 55.35,253.50 55.70,253.51 56.05,253.36 56.40,253.33 56.75,253.53 57.10,253.89 57.45,254.22 57.80,254.22 58.15,254.16 58.50,254.21 58.85,254.45 59.20,254.85 59.55,255.16 59.90,255.20 60.25,255.14 60.60,255.21 60.95,255.58 61.30,256.06 61.65,256.31 62.00,256.35 62.35,256.36 62.70,256.51 63.05,257.03 63.40,257.49 63.75,257.76 64.10,257.80 64.45,257.82 64.80,258.22 65.15,258.80 65.50,259.44 65.85,259.69 66.20,259.75 66.55,259.92 66.90,260.46 67.25,261.35 67.60,262.13 67.95,262.42 68.30,262.63 68.65,263.06 69.00,264.00 69.35,265.25 69.70,266.29 70.05,266.77 70.40,267.33 70.75,268.32 71.10,269.90 71.45,271.79 71.80,273.35 72.15,274.62 72.50,276.11 72.85,278.38 73.00,279.70 73.05,280.14 73.10,280.64 73.15,281.12 73.20,281.58 73.25,282.14 73.30,282.66 73.35,283.17 73.40,283.77 73.45,284.32 73.50,284.81 73.55,285.37 73.60,285.99 73.65,286.57 73.70,287.10 73.75,287.67 73.80,288.34 73.85,288.90 73.90,289.54 73.95,290.22 74.00,290.93 74.05,291.67 74.10,292.44 74.15,293.16 74.20,294.07 74.25,294.95 74.30,295.98 74.35,297.00 74.40,298.19 74.45,299.51 74.50,300.94 74.55,302.49 74.60,304.34 74.65,306.38 74.70,308.73 74.75,311.53 74.80,315.02 74.85,319.53 74.90,325.77 74.95,336.56 75.00,378.06 75.05,336.72 75.10,326.13 75.15,320.01 75.20,315.67 75.25,312.30 75.30,309.57 75.35,307.32 75.40,305.32 75.45,303.53 75.50,301.96 75.55,300.57 75.60,299.27 75.65,298.08 75.70,296.99 75.75,295.94 75.80,294.94 75.85,293.91 75.90,293.02 75.95,292.12 76.00,291.37 76.05,290.51 76.10,289.74 76.15,288.98 76.20,288.29 76.25,287.54 76.30,286.96 76.35,286.28 76.40,285.66 76.45,285.06 76.50,284.52 76.55,284.00 76.60,283.49 76.65,283.01 76.70,282.62 76.75,282.17 76.80,281.75 76.85,281.38 76.90,281.08 76.95,280.71 77.00,280.40 77.05,280.13 77.40,278.37 77.75,276.67 78.10,274.70 78.45,272.80 78.80,271.47 79.15,270.62 79.50,270.00 79.85,269.19 80.20,268.09 80.55,267.05 80.90,266.36 81.25,266.12 81.60,265.92 81.95,265.37 82.30,264.69 82.65,263.97 83.00,263.75 83.35,263.69 83.70,263.64 84.05,263.30 84.40,262.69 84.75,262.28 85.10,262.20 85.45,262.31 85.80,262.39 86.15,262.09 86.50,261.57 86.85,261.25 87.20,261.41 87.55,261.69 87.90,261.65 88.25,261.32 88.60,260.86 88.95,260.66 89.30,261.01 89.65,261.37 90.00,261.42 90.35,260.93 90.70,260.40 91.05,260.38 91.40,260.87 91.75,261.37 92.10,261.23 92.45,260.66 92.80,260.22 93.15,260.35 93.50,260.96 93.85,261.38 94.20,261.11 94.55,260.38 94.90,260.08 95.25,260.46 95.60,261.15 95.95,261.47 96.30,261.02 96.65,260.26 97.00,260.01 97.35,260.55 97.70,261.28 98.05,261.33 98.40,260.72 98.75,260.11 99.10,260.11 99.45,260.72 99.80,261.19 100.15,261.22 100.50,260.50 100.85,259.98 101.20,260.14 101.55,260.68 101.90,261.19 102.25,260.96 102.60,260.33 102.95,260.03 103.30,260.17 103.65,260.77 104.00,261.03 104.35,260.75 104.70,260.18 105.05,260.01 105.40,260.28 105.75,260.71 106.10,260.81 106.45,260.46 106.80,260.08 107.15,260.07 107.50,260.36 107.85,260.77 108.20,260.81 108.55,260.38 108.90,259.98 109.25,260.07 109.60,260.45 109.95,260.78 110.30,260.65 110.65,260.23 111.00,259.87 111.35,259.98 111.70,260.53 112.05,260.80 112.40,260.56 112.75,260.10 113.10,259.67 113.45,260.00 113.80,260.70 114.15,260.93 114.50,260.49 114.85,259.76 115.20,259.61 115.55,260.09 115.90,260.77 116.25,260.92 116.60,260.27 116.95,259.59 117.30,259.50 117.65,260.30 118.00,260.97 118.35,260.89 118.70,260.09 119.05,259.37 119.40,259.61 119.75,260.39 120.10,261.03 120.45,260.73 120.80,259.87 121.15,259.27 121.50,259.73 121.85,260.57 122.20,261.02 122.55,260.60 122.90,259.74 123.25,259.35 123.60,259.89 123.95,260.68 124.30,260.94 124.65,260.40 125.00,259.52 125.35,259.52 125.70,260.02 126.05,260.77 126.40,260.75 126.75,260.06 127.10,259.59 127.45,259.65 127.80,260.19 128.15,260.62 128.50,260.46 128.85,259.91 129.20,259.47 129.55,259.73 129.90,260.19 130.25,260.63 130.60,260.37 130.95,259.80 131.30,259.58 131.65,259.78 132.00,260.29 132.35,260.51 132.70,260.13 133.05,259.65 133.40,259.53 133.75,259.90 134.10,260.35 134.45,260.44 134.80,260.08 135.15,259.43 135.50,259.36 135.85,259.98 136.20,260.54 136.55,260.56 136.90,259.85 137.25,259.26 137.60,259.38 137.95,260.23 138.30,260.65 138.65,260.47 139.00,259.63 139.35,259.01 139.70,259.43 140.05,260.39 140.40,260.85 140.75,260.43 141.10,259.34 141.45,258.95 141.80,259.52 142.15,260.57 142.50,260.99 142.85,260.16 143.20,259.18 143.55,258.96 143.90,259.79 144.25,260.78 144.60,260.89 144.95,259.95 145.30,259.04 145.65,259.08 146.00,260.04 146.35,261.01 146.70,260.66 147.05,259.78 147.40,259.06 147.75,259.41 148.10,260.32 148.45,260.95 148.80,260.51 149.15,259.54 149.50,259.22 149.85,259.61 150.20,260.57 150.55,260.80 150.90,260.32 151.25,259.58 151.60,259.35 151.95,259.92 152.30,260.60 152.65,260.69 153.00,260.12 153.35,259.61 153.70,259.61 154.05,260.09 154.40,260.61 154.75,260.57 155.10,259.96 155.45,259.55 155.80,259.64 156.15,260.35 156.50,260.68 156.85,260.48 157.20,259.85 157.55,259.58 157.90,259.86 158.25,260.43 158.60,260.92 158.95,260.41 159.30,259.70 159.65,259.54 160.00,260.02 160.35,260.74 160.70,261.08 161.05,260.50 161.40,259.50 161.75,259.43 162.10,260.14 162.45,261.19 162.80,261.19 163.15,260.23 163.50,259.45 163.85,259.51 164.20,260.48 164.55,261.36 164.90,261.11 165.25,260.13 165.60,259.21 165.95,259.58 166.30,260.90 166.65,261.63 167.00,261.18 167.35,259.92 167.70,259.30 168.05,260.04 168.40,261.24 168.75,261.74 169.10,260.91 169.45,259.76 169.80,259.46 170.15,260.40 170.50,261.44 170.85,261.57 171.20,260.62 171.55,259.77 171.90,259.79 172.25,260.62 172.60,261.63 172.95,261.45 173.30,260.58 173.65,259.82 174.00,260.07 174.35,261.02 174.70,261.61 175.05,261.42 175.40,260.43 175.75,259.94 176.10,260.48 176.45,261.23 176.80,261.54 177.15,261.20 177.50,260.52 177.85,260.29 178.20,260.70 178.55,261.50 178.90,261.50 179.25,261.02 179.60,260.40 179.95,260.28 180.30,260.91 180.65,261.61 181.00,261.60 181.35,260.99 181.70,260.26 182.05,260.38 182.40,261.25 182.75,261.76 183.10,261.64 183.45,260.80 183.80,260.17 184.15,260.58 184.50,261.45 184.85,262.08 185.20,261.68 185.55,260.60 185.90,260.06 186.25,260.77 186.60,261.90 186.95,262.54 187.30,261.69 187.65,260.41 188.00,260.18 188.35,261.10 188.70,262.35 189.05,262.57 189.40,261.52 189.75,260.09 190.10,260.14 190.45,261.52 190.80,262.68 191.15,262.55 191.50,261.19 191.85,260.12 192.20,260.34 192.55,261.86 192.90,262.84 193.25,262.32 193.60,260.85 193.95,260.28 194.30,260.81 194.65,262.17 195.00,262.91 195.35,262.12 195.70,260.92 196.05,260.47 196.40,261.26 196.75,262.50 197.10,262.73 197.45,261.71 197.80,260.78 198.15,260.69 198.50,261.45 198.85,262.42 199.20,262.30 199.55,261.54 199.90,260.76 200.25,261.06 200.60,261.75 200.95,262.34 201.30,262.30 201.65,261.28 202.00,260.94 202.35,261.14 202.70,262.00 203.05,262.36 203.40,261.97 203.75,261.30 204.10,260.70 204.45,261.27 204.80,262.06 205.15,262.35 205.50,261.84 205.85,260.98 206.20,260.64 206.55,261.34 206.90,262.32 207.25,262.35 207.60,261.60 207.95,260.69 208.30,260.59 208.65,261.64 209.00,262.60 209.35,262.32 209.70,261.22 210.05,260.07 210.40,260.39 210.75,261.89 211.10,262.61 211.45,262.11 211.80,260.84 212.15,259.73 212.50,260.54 212.85,262.09 213.20,262.70 213.55,261.96 213.90,260.25 214.25,259.53 214.60,260.67 214.95,262.34 215.30,262.59 215.65,261.36 216.00,259.85 216.35,259.77 216.70,260.98 217.05,262.44 217.40,262.47 217.75,261.07 218.10,259.66 218.45,259.97 218.80,261.29 219.15,262.30 219.50,261.96 219.85,260.61 220.20,259.63 220.55,260.16 220.90,261.34 221.25,262.07 221.60,261.32 221.95,260.12 222.30,259.65 222.65,260.42 223.00,261.50 223.35,261.60 223.70,260.90 224.05,259.96 224.40,259.80 224.75,260.52 225.10,261.23 225.45,261.32 225.80,260.54 226.15,259.71 226.50,259.66 226.85,260.56 227.20,261.23 227.55,260.89 227.90,260.04 228.25,259.33 228.60,259.74 228.95,260.62 229.30,261.18 229.65,260.76 230.00,259.65 230.35,259.15 230.70,259.48 231.05,260.72 231.40,261.24 231.75,260.37 232.10,259.12 232.45,258.59 232.80,259.50 233.15,260.80 233.50,261.20 233.85,260.04 234.20,258.47 234.55,258.22 234.90,259.71 235.25,261.13 235.60,260.91 235.95,259.43 236.30,257.94 236.65,258.29 237.00,259.87 237.35,261.25 237.70,260.62 238.05,258.94 238.40,257.63 238.75,258.20 239.10,260.21 239.45,261.16 239.80,260.20 240.15,258.31 240.50,257.63 240.85,258.70 241.20,260.53 241.55,260.87 241.90,259.91 242.25,258.27 242.60,257.77 242.95,259.05 243.30,260.45 243.65,260.68 244.00,259.26 244.35,258.18 244.70,258.19 245.05,259.31 245.40,260.55 245.75,260.26 246.10,258.93 246.45,258.05 246.80,258.50 247.15,259.67 247.50,260.30 247.85,259.76 248.20,258.81 248.55,258.32 248.90,258.64 249.25,259.68 249.60,260.00 249.95,259.41 250.30,258.45 250.65,258.26 251.00,258.80 251.35,259.90 251.70,260.12 252.05,259.33 252.40,258.20 252.75,258.09 253.10,259.17 253.45,260.11 253.80,260.11 254.15,259.06 254.50,258.04 254.85,258.18 255.20,259.46 255.55,260.36 255.90,259.95 256.25,258.62 256.60,257.53 256.95,258.15 257.30,259.85 257.65,260.59 258.00,259.76 258.35,258.22 258.70,257.48 259.05,258.36 259.40,260.18 259.75,260.81 260.10,259.40 260.45,257.61 260.80,257.11 261.15,258.85 261.50,260.56 261.85,260.68 262.20,259.19 262.55,257.41 262.90,257.25 263.25,259.02 263.60,260.90 263.95,260.41 264.30,258.68 264.65,257.05 265.00,257.62 265.35,259.62 265.70,260.81 266.05,259.90 266.40,258.16 266.75,257.14 267.10,258.13 267.45,259.83 267.80,260.31 268.15,259.43 268.50,257.95 268.85,257.47 269.20,258.43 269.55,259.79 269.90,259.97 270.25,259.08 270.60,257.76 270.95,257.72 271.30,258.69 271.65,259.72 272.00,259.65 272.35,258.60 272.70,257.69 273.05,257.96 273.40,259.02 273.75,259.73 274.10,259.40 274.45,258.48 274.80,257.79 275.15,258.28 275.50,259.16 275.85,259.69 276.20,259.34 276.55,258.25 276.90,257.69 277.25,258.31 277.60,259.60 277.95,259.83 278.30,259.23 278.65,257.79 279.00,257.51 279.35,258.45 279.70,259.84 280.05,260.21 280.40,258.88 280.75,257.25 281.10,257.22 281.45,258.71 281.80,260.51 282.15,260.22 282.50,258.36 282.85,256.87 283.20,257.39 283.55,259.24 283.90,260.63 284.25,259.94 284.60,257.80 284.95,256.58 285.30,257.69 285.65,259.69 286.00,260.80 286.35,259.38 286.70,257.09 287.05,256.50 287.40,258.10 287.75,259.98 288.10,260.38 288.45,258.90 288.80,256.89 289.15,256.60 289.50,258.50 289.85,260.31 290.20,260.25 290.55,258.18 290.90,256.75 291.25,257.22 291.60,258.87 291.95,260.08 292.30,259.66 292.65,257.80 293.00,256.94 293.35,257.72 293.70,259.28 294.05,259.84 294.40,259.15 294.75,257.64 295.10,257.13 295.45,257.96 295.80,259.34 296.15,259.70 296.50,258.79 296.85,257.68 297.20,257.23 297.55,258.26 297.90,259.27 298.25,259.23 298.60,258.51 298.95,257.39 299.30,257.56 299.65,258.42 300.00,259.69 300.35,259.21 300.70,257.97 301.05,256.99 301.40,257.61 301.75,258.93 302.10,259.72 302.45,259.38 302.80,257.66 303.15,256.76 303.50,257.39 303.85,259.27 304.20,259.97 304.55,259.08 304.90,257.00 305.25,256.48 305.60,257.67 305.95,259.97 306.30,260.15 306.65,258.70 307.00,256.54 307.35,256.34 307.70,258.40 308.05,260.16 308.40,260.25 308.75,258.11 309.10,256.29 309.45,256.60 309.80,258.82 310.15,260.45 310.50,259.88 310.85,257.41 311.20,256.14 311.55,256.99 311.90,259.30 312.25,260.30 312.60,259.17 312.95,256.99 313.30,256.34 313.65,257.54 314.00,259.49 314.35,260.26 314.70,258.69 315.05,256.86 315.40,256.72 315.75,257.82 316.10,259.52 316.45,259.82 316.80,258.20 317.15,256.93 317.50,257.02 317.85,258.38 318.20,259.63 318.55,259.33 318.90,257.95 319.25,256.89 319.60,257.46 319.95,258.78 320.30,259.36 320.65,258.99 321.00,257.50 321.35,257.00 321.70,257.58 322.05,258.98 322.40,259.33 322.75,258.84 323.10,257.55 323.45,257.16 323.80,257.87 324.15,259.19 324.50,259.69 324.85,258.49 325.20,256.94 325.55,256.90 325.90,258.45 326.25,259.86 326.60,259.84 326.95,258.27 327.30,256.69 327.65,257.12 328.00,258.65 328.35,260.32 328.70,259.73 329.05,257.60 329.40,256.17 329.75,257.04 330.10,259.52 330.45,260.80 330.80,259.58 331.15,257.32 331.50,256.14 331.85,257.56 332.20,259.95 332.55,260.82 332.90,259.08 333.25,256.65 333.60,256.43 333.95,258.36 334.30,260.72 334.65,260.76 335.00,258.80 335.35,256.55 335.70,256.69 336.05,258.87 336.40,260.77 336.75,260.40 337.10,258.34 337.45,256.51 337.80,257.19 338.15,259.53 338.50,260.92 338.85,259.97 339.20,258.10" stroke="#f3766a"/>
<path d="M39.60,250.01 39.95,249.90 40.30,249.89 40.65,250.08 41.00,250.40 41.35,250.53 41.70,250.43 42.05,250.26 42.40,250.28 42.75,250.56 43.10,250.93 43.45,251.01 43.80,250.83 44.15,250.58 44.50,250.71 44.85,251.03 45.20,251.41 45.55,251.38 45.90,251.12 46.25,250.92 46.60,251.06 46.95,251.51 47.30,251.79 47.65,251.64 48.00,251.35 48.35,251.24 48.70,251.43 49.05,251.84 49.40,252.08 49.75,251.89 50.10,251.61 50.45,251.55 50.80,251.83 51.15,252.22 51.50,252.30 51.85,252.13 52.20,251.89 52.55,251.89 52.90,252.23 53.25,252.53 53.60,252.56 53.95,252.36 54.30,252.22 54.65,252.36 55.00,252.63 55.35,252.86 55.70,252.85 56.05,252.70 56.40,252.66 56.75,252.83 57.10,253.12 57.45,253.32 57.80,253.32 58.15,253.18 58.50,253.16 58.85,253.38 59.20,253.67 59.55,253.85 59.90,253.81 60.25,253.62 60.60,253.69 60.95,253.97 61.30,254.32 61.65,254.42 62.00,254.28 62.35,254.09 62.70,254.24 63.05,254.57 63.40,254.95 63.75,254.94 64.10,254.74 64.45,254.54 64.80,254.72 65.15,255.17 65.50,255.55 65.85,255.43 66.20,255.09 66.55,254.93 66.90,255.22 67.25,255.73 67.60,256.05 67.95,255.78 68.30,255.43 68.65,255.29 69.00,255.78 69.35,256.37 69.70,256.50 70.05,256.13 70.40,255.79 70.75,255.82 71.10,256.32 71.45,256.90 71.80,256.95 72.15,256.54 72.50,256.20 72.85,256.34 73.20,256.90 73.55,257.34 73.90,257.29 74.25,256.92 74.60,256.68 74.95,256.93 75.30,257.50 75.65,257.83 76.00,257.70 76.35,257.32 76.70,257.25 77.05,257.60 77.40,258.13 77.75,258.27 78.10,258.08 78.45,257.89 78.80,257.92 79.15,258.25 79.50,258.72 79.85,258.77 80.20,258.61 80.55,258.42 80.90,258.55 81.25,258.99 81.60,259.34 81.95,259.38 82.30,259.14 82.65,259.02 83.00,259.28 83.35,259.63 83.70,259.99 84.05,259.98 84.40,259.72 84.75,259.59 85.10,259.94 85.45,260.43 85.80,260.68 86.15,260.55 86.50,260.27 86.85,260.30 87.20,260.74 87.55,261.30 87.90,261.55 88.25,261.33 88.60,261.03 88.95,261.15 89.30,261.76 89.65,262.46 90.00,262.67 90.35,262.23 90.70,261.92 91.05,262.26 91.40,263.11 91.75,263.81 92.10,263.90 92.45,263.45 92.80,263.35 93.15,263.98 93.50,264.99 93.85,265.70 94.20,265.61 94.55,265.30 94.90,265.46 95.25,266.37 95.60,267.63 95.95,268.31 96.30,268.35 96.65,268.34 97.00,268.95 97.35,270.25 97.70,271.71 98.05,272.61 98.40,273.12 98.75,273.74 99.10,275.07 99.45,277.05 99.80,279.16 100.15,280.97 100.50,282.65 100.60,283.29 100.65,283.64 100.70,283.92 100.75,284.28 100.80,284.69 100.85,285.03 100.90,285.50 100.95,285.96 101.00,286.43 101.05,286.86 101.10,287.51 101.15,288.03 101.20,288.63 101.25,289.26 101.30,289.87 101.35,290.57 101.40,291.18 101.45,291.96 101.50,292.69 101.55,293.54 101.60,294.32 101.65,295.14 101.70,296.00 101.75,296.99 101.80,297.92 101.85,298.89 101.90,299.96 101.95,301.17 102.00,302.35 102.05,303.64 102.10,305.12 102.15,306.66 102.20,308.42 102.25,310.38 102.30,312.74 102.35,315.47 102.40,318.87 102.45,323.19 102.50,329.41 102.55,339.98 102.60,379.88 102.65,339.88 102.70,329.20 102.75,322.90 102.80,318.40 102.85,314.98 102.90,312.19 102.95,309.72 103.00,307.74 103.05,305.87 103.10,304.32 103.15,302.93 103.20,301.58 103.25,300.40 103.30,299.39 103.35,298.42 103.40,297.44 103.45,296.55 103.50,295.77 103.55,294.99 103.60,294.31 103.65,293.60 103.70,292.98 103.75,292.33 103.80,291.72 103.85,291.13 103.90,290.54 103.95,289.93 104.00,289.45 104.05,288.90 104.10,288.36 104.15,287.75 104.20,287.28 104.25,286.83 104.30,286.24 104.35,285.74 104.40,285.27 104.45,284.85 104.50,284.35 104.55,283.95 104.60,283.54 104.70,282.63 105.05,280.28 105.40,278.75 105.75,277.41 106.10,276.14 106.45,274.51 106.80,273.05 107.15,272.01 107.50,271.49 107.85,270.99 108.20,270.29 108.55,269.23 108.90,268.27 109.25,267.80 109.60,267.73 109.95,267.69 110.30,267.19 110.65,266.19 111.00,265.51 111.35,265.46 111.70,265.79 112.05,265.85 112.40,265.23 112.75,264.36 113.10,263.85 113.45,264.14 113.80,264.69 114.15,264.78 114.50,264.05 114.85,263.12 115.20,262.83 115.55,263.45 115.90,264.02 116.25,264.01 116.60,263.09 116.95,262.26 117.30,262.22 117.65,263.02 118.00,263.68 118.35,263.41 118.70,262.43 119.05,261.73 119.40,261.96 119.75,262.89 120.10,263.37 120.45,262.91 120.80,261.99 121.15,261.54 121.50,261.98 121.85,262.73 122.20,263.00 122.55,262.35 122.90,261.57 123.25,261.30 123.60,261.82 123.95,262.48 124.30,262.50 124.65,262.05 125.00,261.41 125.35,261.28 125.70,261.87 126.05,262.38 126.40,262.20 126.75,261.69 127.10,261.24 127.45,261.37 127.80,261.88 128.15,262.23 128.50,261.95 128.85,261.37 129.20,261.05 129.55,261.29 129.90,261.75 130.25,262.07 130.60,261.78 130.95,261.15 131.30,260.98 131.65,261.29 132.00,261.92 132.35,262.03 132.70,261.56 133.05,260.93 133.40,260.80 133.75,261.31 134.10,261.97 134.45,261.98 134.80,261.27 135.15,260.61 135.50,260.74 135.85,261.50 136.20,262.06 136.55,261.90 136.90,261.08 137.25,260.47 137.60,260.73 137.95,261.62 138.30,262.27 138.65,261.76 139.00,260.67 139.35,260.20 139.70,260.84 140.05,261.86 140.40,262.32 140.75,261.50 141.10,260.46 141.45,260.25 141.80,260.99 142.15,262.01 142.50,262.16 142.85,261.30 143.20,260.34 143.55,260.33 143.90,261.16 144.25,262.14 144.60,261.99 144.95,261.04 145.30,260.34 145.65,260.54 146.00,261.51 146.35,262.11 146.70,261.77 147.05,260.89 147.40,260.30 147.75,260.82 148.10,261.64 148.45,261.94 148.80,261.54 149.15,260.78 149.50,260.51 149.85,261.10 150.20,261.66 150.55,261.92 150.90,261.40 151.25,260.71 151.60,260.61 151.95,261.18 152.30,261.82 152.65,261.77 153.00,261.28 153.35,260.69 153.70,260.87 154.05,261.44 154.40,261.83 154.75,261.70 155.10,261.11 155.45,260.70 155.80,260.83 156.15,261.60 156.50,261.93 156.85,261.73 157.20,260.98 157.55,260.62 157.90,260.99 158.25,261.81 158.60,262.25 158.95,261.64 159.30,260.71 159.65,260.50 160.00,261.19 160.35,262.16 160.70,262.30 161.05,261.52 161.40,260.56 161.75,260.59 162.10,261.44 162.45,262.44 162.80,262.40 163.15,261.18 163.50,260.27 163.85,260.71 164.20,261.80 164.55,262.75 164.90,262.33 165.25,261.09 165.60,260.34 165.95,261.02 166.30,262.31 166.65,262.90 167.00,262.15 167.35,260.95 167.70,260.54 168.05,261.23 168.40,262.50 168.75,262.76 169.10,261.87 169.45,260.76 169.80,260.82 170.15,261.73 170.50,262.54 170.85,262.52 171.20,261.63 171.55,260.94 171.90,261.12 172.25,262.04 172.60,262.56 172.95,262.37 173.30,261.61 173.65,261.05 174.00,261.48 174.35,262.20 174.70,262.55 175.05,262.38 175.40,261.57 175.75,261.35 176.10,261.63 176.45,262.33 176.80,262.63 177.15,262.23 177.50,261.66 177.85,261.41 178.20,261.97 178.55,262.64 178.90,262.82 179.25,262.05 179.60,261.47 179.95,261.45 180.30,262.11 180.65,262.81 181.00,262.81 181.35,262.00 181.70,261.24 182.05,261.57 182.40,262.42 182.75,263.32 183.10,262.81 183.45,261.80 183.80,261.14 184.15,261.59 184.50,262.97 184.85,263.53 185.20,262.76 185.55,261.50 185.90,261.09 186.25,261.93 186.60,263.30 186.95,263.61 187.30,262.62 187.65,261.36 188.00,261.22 188.35,262.48 188.70,263.78 189.05,263.80 189.40,262.30 189.75,261.31 190.10,261.41 190.45,262.90 190.80,263.78 191.15,263.53 191.50,262.25 191.85,261.21 192.20,261.73 192.55,263.06 192.90,263.96 193.25,263.30 193.60,261.99 193.95,261.55 194.30,262.21 194.65,263.34 195.00,263.70 195.35,262.93 195.70,261.93 196.05,261.84 196.40,262.51 196.75,263.49 197.10,263.64 197.45,262.90 197.80,261.99 198.15,262.09 198.50,262.92 198.85,263.49 199.20,263.39 199.55,262.66 199.90,262.02 200.25,262.23 200.60,262.99 200.95,263.39 201.30,263.12 201.65,262.48 202.00,261.89 202.35,262.39 202.70,263.07 203.05,263.67 203.40,263.11 203.75,262.07 204.10,261.79 204.45,262.40 204.80,263.47 205.15,263.74 205.50,262.74 205.85,261.93 206.20,261.74 206.55,262.62 206.90,263.59 207.25,263.63 207.60,262.40 207.95,261.35 208.30,261.58 208.65,262.76 209.00,263.97 209.35,263.67 209.70,261.97 210.05,260.97 210.40,261.57 210.75,263.17 211.10,264.12 211.45,263.33 211.80,261.73 212.15,260.97 212.50,261.81 212.85,263.33 213.20,263.85 213.55,262.82 213.90,261.18 214.25,260.87 214.60,262.02 214.95,263.50 215.30,263.55 215.65,262.26 216.00,260.95 216.35,261.02 216.70,262.44 217.05,263.50 217.40,263.26 217.75,262.01 218.10,261.03 218.45,261.32 218.80,262.61 219.15,263.24 219.50,262.83 219.85,261.49 220.20,260.96 220.55,261.54 220.90,262.59 221.25,263.01 221.60,262.43 221.95,261.25 222.30,260.95 222.65,261.63 223.00,262.48 223.35,262.76 223.70,261.95 224.05,261.21 224.40,261.06 224.75,261.69 225.10,262.54 225.45,262.48 225.80,261.51 226.15,260.80 226.50,260.78 226.85,261.84 227.20,262.55 227.55,262.04 227.90,261.09 228.25,260.32 228.60,260.72 228.95,261.93 229.30,262.35 229.65,261.87 230.00,260.45 230.35,260.02 230.70,260.73 231.05,262.01 231.40,262.56 231.75,261.37 232.10,260.02 232.45,259.68 232.80,260.84 233.15,262.30 233.50,262.26 233.85,260.83 234.20,259.34 234.55,259.41 234.90,261.09 235.25,262.29 235.60,262.20 235.95,260.43 236.30,259.00 236.65,259.35 237.00,261.32 237.35,262.49 237.70,261.52 238.05,259.96 238.40,258.78 238.75,259.82 239.10,261.51 239.45,262.25 239.80,261.14 240.15,259.35 240.50,258.87 240.85,260.07 241.20,261.67 241.55,261.91 241.90,260.72 242.25,259.26 242.60,259.13 242.95,260.53 243.30,261.55 243.65,261.29 244.00,260.39 244.35,259.47 244.70,259.62 245.05,260.50 245.40,261.45 245.75,261.00 246.10,260.15 246.45,259.35 246.80,259.89 247.15,260.74 247.50,261.20 247.85,260.67 248.20,259.84 248.55,259.25 248.90,259.99 249.25,260.80 249.60,261.13 249.95,260.41 250.30,259.67 250.65,259.38 251.00,260.08 251.35,261.06 251.70,261.37 252.05,260.22 252.40,259.21 252.75,259.37 253.10,260.52 253.45,261.65 253.80,261.39 254.15,259.80 254.50,258.76 254.85,259.09 255.20,260.63 255.55,261.86 255.90,261.13 256.25,259.41 256.60,258.42 256.95,259.48 257.30,261.08 257.65,262.13 258.00,260.90 258.35,258.90 258.70,258.24 259.05,259.58 259.40,261.66 259.75,262.06 260.10,260.36 260.45,258.71 260.80,258.29 261.15,260.17 261.50,261.86 261.85,261.78 262.20,259.86 262.55,258.49 262.90,258.84 263.25,260.65 263.60,261.93 263.95,261.23 264.30,259.36 264.65,258.60 265.00,259.15 265.35,260.83 265.70,261.66 266.05,260.82 266.40,259.38 266.75,258.68 267.10,259.62 267.45,261.03 267.80,261.39 268.15,260.20 268.50,259.06 268.85,258.77 269.20,259.76 269.55,260.83 269.90,261.05 270.25,260.13 270.60,258.91 270.95,259.06 271.30,260.01 271.65,261.03 272.00,260.64 272.35,259.71 272.70,259.08 273.05,259.33 273.40,260.15 273.75,260.97 274.10,260.70 274.45,259.54 274.80,258.65 275.15,259.38 275.50,260.61 275.85,261.30 276.20,260.48 276.55,258.98 276.90,258.51 277.25,259.61 277.60,261.12 277.95,261.37 278.30,260.20 278.65,258.62 279.00,258.31 279.35,259.98 279.70,261.37 280.05,261.29 280.40,259.54 280.75,257.85 281.10,258.43 281.45,260.30 281.80,261.81 282.15,261.32 282.50,258.94 282.85,257.85 283.20,258.40 283.55,260.69 283.90,261.73 284.25,260.91 284.60,258.42 284.95,257.49 285.30,258.89 285.65,261.08 286.00,261.67 286.35,260.22 286.70,258.11 287.05,257.85 287.40,259.45 287.75,261.28 288.10,261.28 288.45,259.66 288.80,257.98 289.15,258.18 289.50,259.92 289.85,261.08 290.20,260.92 290.55,259.30 290.90,258.22 291.25,258.62 291.60,260.27 291.95,261.07 292.30,260.47 292.65,258.99 293.00,258.51 293.35,259.03 293.70,260.13 294.05,260.76 294.40,260.09 294.75,258.81 295.10,258.53 295.45,259.33 295.80,260.52 296.15,260.55 296.50,259.75 296.85,258.44 297.20,258.52 297.55,259.48 297.90,260.47 298.25,260.40 298.60,259.55 298.95,258.13 299.30,258.64 299.65,259.70 300.00,260.84 300.35,260.61 300.70,258.87 301.05,257.87 301.40,258.57 301.75,260.26 302.10,261.30 302.45,260.28 302.80,258.33 303.15,257.73 303.50,258.73 303.85,260.76 304.20,261.36 304.55,259.95 304.90,257.82 305.25,257.54 305.60,259.31 305.95,261.17 306.30,261.61 306.65,259.28 307.00,257.54 307.35,257.59 307.70,259.68 308.05,261.76 308.40,261.15 308.75,258.75 309.10,257.26 309.45,258.06 309.80,260.37 310.15,261.41 310.50,260.76 310.85,258.34 311.20,257.28 311.55,258.55 311.90,260.50 312.25,261.23 312.60,260.14 312.95,258.25 313.30,257.50 313.65,259.09 314.00,260.64 314.35,260.89 314.70,259.44 315.05,257.97 315.40,257.97 315.75,259.33 316.10,260.58 316.45,260.62 316.80,259.16 317.15,258.18 317.50,258.33 317.85,259.71 318.20,260.68 318.55,260.19 318.90,258.79 319.25,258.16 319.60,258.62 319.95,260.10 320.30,260.68 320.65,260.01 321.00,258.63 321.35,258.22 321.70,258.73 322.05,260.34 322.40,260.92 322.75,259.80 323.10,258.24 323.45,257.90 323.80,259.09 324.15,260.93 324.50,260.72 324.85,259.24 325.20,257.78 325.55,257.83 325.90,259.77 326.25,261.46 326.60,261.16 326.95,258.74 327.30,257.20 327.65,258.06 328.00,260.28 328.35,261.80 328.70,260.73 329.05,258.54 329.40,257.03 329.75,258.58 330.10,260.95 330.45,261.97 330.80,260.29 331.15,257.87 331.50,257.34 331.85,258.95 332.20,261.57 332.55,261.91 332.90,259.80 333.25,257.49 333.60,257.78 333.95,259.78 334.30,261.87 334.65,261.45 335.00,259.50 335.35,257.58 335.70,258.13 336.05,260.39 336.40,261.69 336.75,261.05 337.10,259.32 337.45,258.15 337.80,259.08 338.15,260.63 338.50,261.66 338.85,260.77 339.20,258.98" stroke="#5a9e55"/>
<path d="M39.60,249.42 39.95,249.44 40.30,249.31 40.65,249.23 41.00,249.39 41.35,249.72 41.70,249.91 42.05,249.88 42.40,249.64 42.75,249.59 43.10,249.83 43.45,250.19 43.80,250.35 44.15,250.20 44.50,249.97 44.85,249.94 45.20,250.27 45.55,250.61 45.90,250.70 46.25,250.45 46.60,250.19 46.95,250.26 47.30,250.62 47.65,250.96 48.00,250.98 48.35,250.65 48.70,250.46 49.05,250.59 49.40,250.98 49.75,251.25 50.10,251.16 50.45,250.87 50.80,250.75 51.15,250.97 51.50,251.28 51.85,251.46 52.20,251.31 52.55,251.08 52.90,251.06 53.25,251.29 53.60,251.64 53.95,251.70 54.30,251.57 54.65,251.42 55.00,251.46 55.35,251.71 55.70,251.99 56.05,252.03 56.40,251.88 56.75,251.79 57.10,251.92 57.45,252.18 57.80,252.44 58.15,252.45 58.50,252.32 58.85,252.24 59.20,252.43 59.55,252.71 59.90,252.90 60.25,252.91 60.60,252.71 60.95,252.66 61.30,252.97 61.65,253.33 62.00,253.46 62.35,253.33 62.70,253.12 63.05,253.16 63.40,253.48 63.75,253.86 64.10,253.97 64.45,253.73 64.80,253.50 65.15,253.52 65.50,254.02 65.85,254.41 66.20,254.46 66.55,254.03 66.90,253.78 67.25,253.96 67.60,254.56 67.95,254.91 68.30,254.78 68.65,254.33 69.00,254.13 69.35,254.43 69.70,255.07 70.05,255.36 70.40,255.11 70.75,254.60 71.10,254.55 71.45,254.98 71.80,255.57 72.15,255.68 72.50,255.34 72.85,254.93 73.20,255.01 73.55,255.48 73.90,255.98 74.25,256.04 74.60,255.67 74.95,255.29 75.30,255.52 75.65,256.00 76.00,256.38 76.35,256.29 76.70,256.01 77.05,255.80 77.40,256.05 77.75,256.45 78.10,256.79 78.45,256.64 78.80,256.35 79.15,256.24 79.50,256.57 79.85,256.97 80.20,257.11 80.55,257.00 80.90,256.79 81.25,256.76 81.60,257.04 81.95,257.41 82.30,257.55 82.65,257.31 83.00,257.07 83.35,257.21 83.70,257.55 84.05,257.93 84.40,257.95 84.75,257.65 85.10,257.43 85.45,257.58 85.80,258.08 86.15,258.38 86.50,258.30 86.85,257.83 87.20,257.64 87.55,258.01 87.90,258.51 88.25,258.87 88.60,258.58 88.95,258.07 89.30,257.96 89.65,258.45 90.00,259.09 90.35,259.32 90.70,258.80 91.05,258.33 91.40,258.26 91.75,258.97 92.10,259.62 92.45,259.64 92.80,259.09 93.15,258.57 93.50,258.72 93.85,259.46 94.20,259.98 94.55,259.80 94.90,259.25 95.25,258.80 95.60,259.19 95.95,259.86 96.30,260.32 96.65,259.93 97.00,259.33 97.35,259.15 97.70,259.62 98.05,260.25 98.40,260.38 98.75,260.05 99.10,259.47 99.45,259.41 99.80,259.89 100.15,260.35 100.50,260.46 100.85,259.97 101.20,259.57 101.55,259.60 101.90,260.12 102.25,260.45 102.60,260.44 102.95,260.02 103.30,259.74 103.65,259.87 104.00,260.30 104.35,260.68 104.70,260.53 105.05,260.10 105.40,259.89 105.75,260.17 106.10,260.64 106.45,260.76 106.80,260.63 107.15,260.26 107.50,260.16 107.85,260.52 108.20,260.93 108.55,261.15 108.90,260.72 109.25,260.27 109.60,260.26 109.95,260.80 110.30,261.41 110.65,261.42 111.00,260.89 111.35,260.45 111.70,260.68 112.05,261.34 112.40,262.02 112.75,261.86 113.10,261.12 113.45,260.79 113.80,261.23 114.15,262.07 114.50,262.65 114.85,262.40 115.20,261.66 115.55,261.40 115.90,262.07 116.25,263.02 116.60,263.54 116.95,262.99 117.30,262.32 117.65,262.43 118.00,263.29 118.35,264.38 118.70,264.72 119.05,264.26 119.40,263.78 119.75,264.11 120.10,265.32 120.45,266.42 120.80,266.64 121.15,266.29 121.50,266.28 121.85,267.04 122.20,268.49 122.55,269.49 122.90,269.99 123.25,270.10 123.60,270.60 123.95,272.02 124.30,273.71 124.65,275.27 125.00,276.29 125.35,277.29 125.70,279.12 126.05,281.66 126.20,282.99 126.25,283.48 126.30,283.86 126.35,284.47 126.40,284.80 126.45,285.38 126.50,285.75 126.55,286.32 126.60,286.81 126.65,287.22 126.70,287.64 126.75,288.23 126.80,288.69 126.85,289.17 126.90,289.74 126.95,290.23 127.00,290.86 127.05,291.37 127.10,291.92 127.15,292.61 127.20,293.30 127.25,294.03 127.30,294.69 127.35,295.54 127.40,296.34 127.45,297.31 127.50,298.43 127.55,299.42 127.60,300.63 127.65,301.98 127.70,303.45 127.75,305.12 127.80,306.95 127.85,309.06 127.90,311.49 127.95,314.41 128.00,317.93 128.05,322.34 128.10,328.67 128.15,339.49 128.20,382.08 128.25,339.55 128.30,328.97 128.35,322.75 128.40,318.37 128.45,315.05 128.50,312.22 128.55,309.92 128.60,307.87 128.65,306.09 128.70,304.38 128.75,302.98 128.80,301.53 128.85,300.36 128.90,299.12 128.95,297.97 129.00,296.95 129.05,296.00 129.10,295.10 129.15,294.13 129.20,293.28 129.25,292.40 129.30,291.63 129.35,290.85 129.40,290.23 129.45,289.56 129.50,288.90 129.55,288.26 129.60,287.79 129.65,287.23 129.70,286.73 129.75,286.22 129.80,285.77 129.85,285.24 129.90,284.96 129.95,284.46 130.00,284.20 130.05,283.88 130.10,283.43 130.15,283.26 130.20,282.96 130.25,282.66 130.60,280.72 130.95,278.53 131.30,276.32 131.65,274.48 132.00,273.42 132.35,272.75 132.70,272.13 133.05,270.84 133.40,269.28 133.75,268.18 134.10,267.95 134.45,268.04 134.80,267.71 135.15,266.62 135.50,265.35 135.85,264.87 136.20,265.17 136.55,265.52 136.90,265.26 137.25,264.14 137.60,262.99 137.95,262.89 138.30,263.47 138.65,264.09 139.00,263.69 139.35,262.52 139.70,261.59 140.05,261.71 140.40,262.62 140.75,263.08 141.10,262.58 141.45,261.29 141.80,260.74 142.15,261.12 142.50,262.18 142.85,262.38 143.20,261.59 143.55,260.60 143.90,260.16 144.25,260.93 144.60,261.80 144.95,261.91 145.30,261.01 145.65,260.17 146.00,260.00 146.35,260.76 146.70,261.46 147.05,261.28 147.40,260.55 147.75,259.90 148.10,260.03 148.45,260.79 148.80,261.09 149.15,260.96 149.50,260.25 149.85,259.71 150.20,259.98 150.55,260.66 150.90,260.94 151.25,260.64 151.60,260.04 151.95,259.71 152.30,260.12 152.65,260.70 153.00,260.71 153.35,260.43 153.70,259.78 154.05,259.60 154.40,260.08 154.75,260.77 155.10,260.68 155.45,260.13 155.80,259.52 156.15,259.50 156.50,260.19 156.85,260.82 157.20,260.64 157.55,259.91 157.90,259.30 158.25,259.50 158.60,260.43 158.95,261.05 159.30,260.71 159.65,259.57 160.00,259.13 160.35,259.66 160.70,260.77 161.05,261.16 161.40,260.48 161.75,259.26 162.10,258.98 162.45,259.85 162.80,260.97 163.15,261.24 163.50,260.22 163.85,259.05 164.20,259.02 164.55,260.13 164.90,261.18 165.25,261.13 165.60,259.96 165.95,259.07 166.30,259.34 166.65,260.52 167.00,261.35 167.35,260.86 167.70,259.85 168.05,259.12 168.40,259.58 168.75,260.78 169.10,261.24 169.45,260.78 169.80,259.61 170.15,259.32 170.50,259.97 170.85,261.03 171.20,261.20 171.55,260.44 171.90,259.63 172.25,259.58 172.60,260.31 172.95,261.12 173.30,260.99 173.65,260.38 174.00,259.71 174.35,259.83 174.70,260.56 175.05,261.01 175.40,261.02 175.75,260.19 176.10,259.92 176.45,259.97 176.80,260.74 177.15,261.19 177.50,260.80 177.85,260.19 178.20,259.84 178.55,260.34 178.90,260.95 179.25,261.31 179.60,260.90 179.95,260.12 180.30,259.82 180.65,260.36 181.00,261.25 181.35,261.51 181.70,260.84 182.05,259.75 182.40,259.85 182.75,260.69 183.10,261.70 183.45,261.52 183.80,260.62 184.15,259.55 184.50,259.83 184.85,261.23 185.20,262.03 185.55,261.67 185.90,260.25 186.25,259.38 186.60,260.08 186.95,261.55 187.30,262.24 187.65,261.54 188.00,260.05 188.35,259.61 188.70,260.43 189.05,262.02 189.40,262.29 189.75,261.31 190.10,259.89 190.45,259.84 190.80,261.01 191.15,262.12 191.50,262.11 191.85,260.89 192.20,259.87 192.55,259.97 192.90,261.36 193.25,262.17 193.60,261.88 193.95,260.86 194.30,260.14 194.65,260.53 195.00,261.53 195.35,262.06 195.70,261.60 196.05,260.67 196.40,260.36 196.75,260.75 197.10,261.69 197.45,262.07 197.80,261.40 198.15,260.69 198.50,260.49 198.85,261.06 199.20,261.72 199.55,261.97 199.90,261.26 200.25,260.62 200.60,260.50 200.95,261.15 201.30,261.94 201.65,261.75 202.00,261.05 202.35,260.46 202.70,260.62 203.05,261.40 203.40,261.96 203.75,261.70 204.10,260.88 204.45,260.07 204.80,260.57 205.15,261.68 205.50,262.27 205.85,261.59 206.20,260.32 206.55,259.94 206.90,260.77 207.25,261.86 207.60,262.32 207.95,261.39 208.30,259.83 208.65,259.80 209.00,260.93 209.35,262.21 209.70,262.21 210.05,260.77 210.40,259.61 210.75,259.67 211.10,261.09 211.45,262.41 211.80,261.95 212.15,260.40 212.50,259.23 212.85,259.73 213.20,261.50 213.55,262.30 213.90,261.63 214.25,259.88 214.60,259.17 214.95,260.02 215.30,261.52 215.65,262.09 216.00,260.99 216.35,259.78 216.70,259.35 217.05,260.50 217.40,261.60 217.75,261.68 218.10,260.71 218.45,259.49 218.80,259.60 219.15,260.68 219.50,261.57 219.85,261.29 220.20,260.33 220.55,259.65 220.90,259.82 221.25,260.57 221.60,261.29 221.95,260.87 222.30,260.01 222.65,259.58 223.00,259.83 223.35,260.78 223.70,261.18 224.05,260.52 224.40,259.61 224.75,259.44 225.10,259.74 225.45,260.84 225.80,261.01 226.15,260.23 226.50,259.15 226.85,258.99 227.20,259.80 227.55,260.80 227.90,260.66 228.25,259.85 228.60,258.60 228.95,258.93 229.30,260.04 229.65,260.84 230.00,260.50 230.35,259.15 230.70,258.26 231.05,258.55 231.40,260.12 231.75,261.08 232.10,260.36 232.45,258.44 232.80,257.88 233.15,258.76 233.50,260.40 233.85,260.85 234.20,259.67 234.55,257.89 234.90,257.49 235.25,259.00 235.60,260.48 235.95,260.81 236.30,259.06 236.65,257.42 237.00,257.68 237.35,259.08 237.70,260.65 238.05,260.43 238.40,258.54 238.75,257.39 239.10,257.86 239.45,259.39 239.80,260.56 240.15,259.84 240.50,258.22 240.85,257.33 241.20,258.26 241.55,259.46 241.90,260.28 242.25,259.44 242.60,258.10 242.95,257.74 243.30,258.60 243.65,259.57 244.00,259.88 244.35,259.07 244.70,257.96 245.05,257.97 245.40,258.67 245.75,259.47 246.10,259.58 246.45,258.71 246.80,257.92 247.15,258.06 247.50,258.94 247.85,259.72 248.20,259.44 248.55,258.37 248.90,257.77 249.25,258.24 249.60,259.24 249.95,259.63 250.30,259.28 250.65,258.01 251.00,257.53 251.35,258.18 251.70,259.48 252.05,259.87 252.40,259.06 252.75,257.70 253.10,257.21 253.45,258.54 253.80,259.91 254.15,259.89 254.50,258.58 254.85,257.15 255.20,257.12 255.55,258.88 255.90,260.14 256.25,260.10 256.60,258.15 256.95,256.88 257.30,257.31 257.65,259.18 258.00,260.56 258.35,259.72 258.70,257.64 259.05,256.65 259.40,257.61 259.75,259.64 260.10,260.59 260.45,259.38 260.80,257.22 261.15,256.52 261.50,258.05 261.85,259.94 262.20,260.31 262.55,258.69 262.90,257.17 263.25,257.03 263.60,258.49 263.95,260.06 264.30,259.96 264.65,258.44 265.00,257.02 265.35,257.18 265.70,258.83 266.05,259.86 266.40,259.36 266.75,258.18 267.10,257.31 267.45,257.67 267.80,258.95 268.15,259.63 268.50,259.00 268.85,257.97 269.20,257.40 269.55,258.09 269.90,259.14 270.25,259.53 270.60,258.56 270.95,257.79 271.30,257.43 271.65,258.31 272.00,259.28 272.35,259.20 272.70,258.23 273.05,257.24 273.40,257.45 273.75,258.41 274.10,259.42 274.45,259.38 274.80,258.08 275.15,257.03 275.50,257.41 275.85,258.64 276.20,259.71 276.55,259.22 276.90,257.48 277.25,256.67 277.60,257.54 277.95,259.03 278.30,259.97 278.65,258.89 279.00,257.09 279.35,256.29 279.70,257.64 280.05,259.65 280.40,260.13 280.75,258.42 281.10,256.45 281.45,256.31 281.80,258.00 282.15,260.01 282.50,259.98 282.85,258.05 283.20,256.28 283.55,256.65 283.90,258.46 284.25,260.16 284.60,259.72 284.95,257.56 285.30,256.13 285.65,256.82 286.00,258.87 286.35,259.98 286.70,259.12 287.05,257.10 287.40,256.11 287.75,257.45 288.10,259.16 288.45,259.90 288.80,258.52 289.15,256.89 289.50,256.45 289.85,257.67 290.20,259.14 290.55,259.37 290.90,257.94 291.25,256.72 291.60,257.09 291.95,258.17 292.30,259.13 292.65,258.99 293.00,257.84 293.35,256.79 293.70,257.33 294.05,258.34 294.40,259.25 294.75,258.64 295.10,257.32 295.45,257.03 295.80,257.56 296.15,258.44 296.50,258.96 296.85,258.39 297.20,257.23 297.55,256.79 297.90,257.52 298.25,258.87 298.60,259.23 298.95,258.05 299.30,256.88 299.65,256.60 300.00,257.74 300.35,259.17 300.70,259.30 301.05,257.63 301.40,256.11 301.75,256.49 302.10,258.43 302.45,259.89 302.80,259.16 303.15,257.25 303.50,255.81 303.85,256.80 304.20,258.66 304.55,260.13 304.90,258.87 305.25,256.57 305.60,255.65 305.95,257.10 306.30,259.30 306.65,260.14 307.00,258.58 307.35,256.25 307.70,255.84 308.05,257.36 308.40,259.76 308.75,259.66 309.10,257.80 309.45,255.72 309.80,256.02 310.15,258.11 310.50,259.87 310.85,259.28 311.20,257.27 311.55,255.85 311.90,256.36 312.25,258.55 312.60,259.48 312.95,258.70 313.30,256.85 313.65,256.24 314.00,256.85 314.35,258.79 314.70,259.19 315.05,258.35 315.40,256.84 315.75,256.56 316.10,257.46 316.45,258.76 316.80,258.94 317.15,257.95 317.50,256.86 317.85,256.80 318.20,257.74 318.55,258.61 318.90,258.60 319.25,257.75 319.60,256.56 319.95,256.94 320.30,258.10 320.65,258.80 321.00,258.69 321.35,257.43 321.70,256.34 322.05,256.89 322.40,258.43 322.75,259.12 323.10,258.51 323.45,256.90 323.80,256.20 324.15,257.11 324.50,258.88 324.85,259.62 325.20,258.33 325.55,256.43 325.90,255.76 326.25,257.36 326.60,259.56 326.95,259.72 327.30,257.95 327.65,255.98 328.00,256.12 328.35,258.11 328.70,259.97 329.05,259.66 329.40,257.29 329.75,255.41 330.10,256.33 330.45,258.85 330.80,260.53 331.15,259.28 331.50,256.80 331.85,255.56 332.20,256.78 332.55,259.24 332.90,260.60 333.25,259.03 333.60,256.59 333.95,255.83 334.30,257.69 334.65,259.78 335.00,260.08 335.35,258.52 335.70,256.48 336.05,256.66 336.40,258.26 336.75,259.81 337.10,259.59 337.45,258.08 337.80,256.67 338.15,257.04 338.50,258.65 338.85,259.85 339.20,259.43" stroke="#d9403a"/>
<path d="M39.60,249.73 39.95,249.95 40.30,249.97 40.65,249.79 41.00,249.70 41.35,249.91 41.70,250.28 42.05,250.46 42.40,250.37 42.75,250.12 43.10,250.12 43.45,250.40 43.80,250.74 44.15,250.91 44.50,250.71 44.85,250.43 45.20,250.47 45.55,250.85 45.90,251.19 46.25,251.23 46.60,250.99 46.95,250.73 47.30,250.87 47.65,251.24 48.00,251.56 48.35,251.50 48.70,251.16 49.05,251.02 49.40,251.17 49.75,251.59 50.10,251.79 50.45,251.65 50.80,251.40 51.15,251.35 51.50,251.56 51.85,251.89 52.20,252.05 52.55,251.91 52.90,251.65 53.25,251.68 53.60,251.96 53.95,252.23 54.30,252.32 54.65,252.13 55.00,252.01 55.35,252.12 55.70,252.34 56.05,252.64 56.40,252.66 56.75,252.54 57.10,252.41 57.45,252.59 57.80,252.86 58.15,253.12 58.50,253.08 58.85,252.92 59.20,252.89 59.55,253.10 59.90,253.43 60.25,253.63 60.60,253.55 60.95,253.40 61.30,253.36 61.65,253.67 62.00,254.01 62.35,254.16 62.70,254.05 63.05,253.80 63.40,253.81 63.75,254.21 64.10,254.67 64.45,254.68 64.80,254.37 65.15,254.14 65.50,254.28 65.85,254.76 66.20,255.14 66.55,255.13 66.90,254.73 67.25,254.49 67.60,254.72 67.95,255.32 68.30,255.68 68.65,255.47 69.00,255.03 69.35,254.85 69.70,255.19 70.05,255.82 70.40,256.08 70.75,255.71 71.10,255.31 71.45,255.30 71.80,255.80 72.15,256.33 72.50,256.42 72.85,256.05 73.20,255.63 73.55,255.79 73.90,256.30 74.25,256.71 74.60,256.66 74.95,256.35 75.30,256.07 75.65,256.32 76.00,256.78 76.35,257.10 76.70,256.97 77.05,256.67 77.40,256.59 77.75,256.82 78.10,257.30 78.45,257.50 78.80,257.31 79.15,257.10 79.50,257.06 79.85,257.41 80.20,257.72 80.55,257.88 80.90,257.74 81.25,257.46 81.60,257.56 81.95,257.91 82.30,258.27 82.65,258.34 83.00,258.09 83.35,257.83 83.70,258.01 84.05,258.41 84.40,258.73 84.75,258.67 85.10,258.36 85.45,258.11 85.80,258.39 86.15,258.88 86.50,259.19 86.85,259.04 87.20,258.59 87.55,258.43 87.90,258.76 88.25,259.43 88.60,259.61 88.95,259.31 89.30,258.75 89.65,258.69 90.00,259.28 90.35,259.87 90.70,260.01 91.05,259.50 91.40,259.03 91.75,259.09 92.10,259.81 92.45,260.40 92.80,260.27 93.15,259.64 93.50,259.28 93.85,259.48 94.20,260.22 94.55,260.74 94.90,260.54 95.25,259.79 95.60,259.53 95.95,259.88 96.30,260.61 96.65,260.91 97.00,260.51 97.35,260.01 97.70,259.78 98.05,260.31 98.40,260.93 98.75,261.01 99.10,260.53 99.45,260.11 99.80,260.06 100.15,260.49 100.50,260.97 100.85,260.92 101.20,260.51 101.55,260.08 101.90,260.28 102.25,260.66 102.60,260.98 102.95,260.93 103.30,260.40 103.65,260.25 104.00,260.35 104.35,260.77 104.70,260.99 105.05,260.79 105.40,260.44 105.75,260.28 106.10,260.56 106.45,260.91 106.80,261.17 107.15,260.85 107.50,260.31 107.85,260.25 108.20,260.65 108.55,261.09 108.90,261.19 109.25,260.70 109.60,260.27 109.95,260.25 110.30,260.91 110.65,261.36 111.00,261.24 111.35,260.59 111.70,260.15 112.05,260.33 112.40,261.02 112.75,261.56 113.10,261.28 113.45,260.52 113.80,260.00 114.15,260.49 114.50,261.35 114.85,261.68 115.20,261.20 115.55,260.33 115.90,260.08 116.25,260.72 116.60,261.50 116.95,261.74 117.30,261.05 117.65,260.13 118.00,260.14 118.35,261.01 118.70,261.67 119.05,261.60 119.40,260.80 119.75,260.13 120.10,260.37 120.45,261.21 120.80,261.70 121.15,261.45 121.50,260.67 121.85,260.30 122.20,260.62 122.55,261.31 122.90,261.70 123.25,261.29 123.60,260.65 123.95,260.37 124.30,260.85 124.65,261.43 125.00,261.54 125.35,261.19 125.70,260.69 126.05,260.56 126.40,261.07 126.75,261.44 127.10,261.55 127.45,261.02 127.80,260.66 128.15,260.77 128.50,261.18 128.85,261.55 129.20,261.49 129.55,260.99 129.90,260.69 130.25,260.77 130.60,261.43 130.95,261.68 131.30,261.58 131.65,260.94 132.00,260.72 132.35,261.04 132.70,261.63 133.05,261.87 133.40,261.56 133.75,260.86 134.10,260.65 134.45,261.19 134.80,262.01 135.15,262.18 135.50,261.46 135.85,260.74 136.20,260.76 136.55,261.50 136.90,262.31 137.25,262.36 137.60,261.56 137.95,260.77 138.30,260.92 138.65,262.08 139.00,262.85 139.35,262.46 139.70,261.56 140.05,260.85 140.40,261.49 140.75,262.61 141.10,263.17 141.45,262.73 141.80,261.61 142.15,261.34 142.50,262.06 142.85,263.18 143.20,263.66 143.55,262.86 143.90,262.02 144.25,262.10 144.60,262.96 144.95,264.00 145.30,264.08 145.65,263.39 146.00,262.87 146.35,263.11 146.70,264.15 147.05,264.82 147.40,264.88 147.75,264.31 148.10,264.19 148.45,264.58 148.80,265.67 149.15,266.27 149.50,266.34 149.85,265.91 150.20,266.13 150.55,266.82 150.90,267.86 151.25,268.58 151.60,268.77 151.95,268.65 152.30,269.06 152.65,270.28 153.00,271.50 153.35,272.51 153.70,272.94 154.05,273.35 154.40,274.35 154.75,276.20 155.10,278.20 155.45,279.86 155.80,280.96 156.15,282.59 156.40,284.36 156.45,284.74 156.50,285.22 156.55,285.73 156.60,286.16 156.65,286.64 156.70,287.17 156.75,287.74 156.80,288.42 156.85,289.06 156.90,289.53 156.95,290.25 157.00,290.90 157.05,291.45 157.10,292.14 157.15,292.72 157.20,293.43 157.25,294.06 157.30,294.89 157.35,295.43 157.40,296.21 157.45,296.91 157.50,297.74 157.55,298.54 157.60,299.35 157.65,300.25 157.70,301.04 157.75,302.21 157.80,303.28 157.85,304.42 157.90,305.84 157.95,307.34 158.00,309.03 158.05,310.99 158.10,313.32 158.15,315.93 158.20,319.33 158.25,323.80 158.30,329.92 158.35,340.64 158.40,374.79 158.45,340.66 158.50,330.25 158.55,324.00 158.60,319.68 158.65,316.53 158.70,313.70 158.75,311.55 158.80,309.63 158.85,307.88 158.90,306.49 158.95,305.20 159.00,304.03 159.05,302.75 159.10,301.79 159.15,300.76 159.20,299.84 159.25,298.88 159.30,298.02 159.35,297.18 159.40,296.44 159.45,295.56 159.50,294.88 159.55,294.14 159.60,293.28 159.65,292.64 159.70,291.72 159.75,291.11 159.80,290.39 159.85,289.72 159.90,289.05 159.95,288.37 160.00,287.70 160.05,287.26 160.10,286.65 160.15,286.14 160.20,285.52 160.25,285.17 160.30,284.76 160.35,284.28 160.40,284.05 160.70,282.65 161.05,281.70 161.40,280.27 161.75,277.77 162.10,275.35 162.45,273.91 162.80,273.82 163.15,273.93 163.50,273.09 163.85,271.24 164.20,269.37 164.55,268.85 164.90,269.44 165.25,269.91 165.60,269.18 165.95,267.53 166.30,266.18 166.65,266.31 167.00,267.12 167.35,267.55 167.70,266.71 168.05,265.36 168.40,264.44 168.75,264.93 169.10,265.75 169.45,265.87 169.80,264.98 170.15,263.83 170.50,263.51 170.85,264.16 171.20,264.73 171.55,264.89 171.90,263.99 172.25,263.04 172.60,262.97 172.95,263.63 173.30,264.11 173.65,264.08 174.00,263.35 174.35,262.69 174.70,262.66 175.05,263.46 175.40,263.81 175.75,263.48 176.10,262.82 176.45,262.23 176.80,262.66 177.15,263.32 177.50,263.44 177.85,263.22 178.20,262.41 178.55,262.04 178.90,262.41 179.25,263.29 179.60,263.44 179.95,262.75 180.30,261.92 180.65,261.71 181.00,262.63 181.35,263.39 181.70,263.53 182.05,262.42 182.40,261.67 182.75,261.74 183.10,262.72 183.45,263.59 183.80,263.46 184.15,262.10 184.50,261.34 184.85,261.72 185.20,263.11 185.55,263.75 185.90,263.10 186.25,261.71 186.60,261.13 186.95,261.95 187.30,263.22 187.65,263.78 188.00,262.79 188.35,261.50 188.70,261.04 189.05,262.18 189.40,263.50 189.75,263.74 190.10,262.51 190.45,261.34 190.80,261.41 191.15,262.57 191.50,263.77 191.85,263.45 192.20,262.33 192.55,261.44 192.90,261.62 193.25,262.84 193.60,263.65 193.95,263.09 194.30,262.00 194.65,261.54 195.00,262.01 195.35,263.14 195.70,263.48 196.05,262.79 196.40,262.00 196.75,261.59 197.10,262.40 197.45,263.22 197.80,263.39 198.15,262.77 198.50,261.87 198.85,261.72 199.20,262.42 199.55,263.14 199.90,263.19 200.25,262.49 200.60,261.90 200.95,261.91 201.30,262.73 201.65,263.18 202.00,263.05 202.35,262.24 202.70,261.51 203.05,261.95 203.40,262.74 203.75,263.34 204.10,262.90 204.45,261.85 204.80,261.30 205.15,261.84 205.50,262.96 205.85,263.51 206.20,262.60 206.55,261.51 206.90,260.99 207.25,261.98 207.60,263.34 207.95,263.65 208.30,262.25 208.65,261.04 209.00,261.02 209.35,262.21 209.70,263.71 210.05,263.37 210.40,261.95 210.75,260.56 211.10,261.10 211.45,262.71 211.80,263.67 212.15,263.07 212.50,261.35 212.85,260.54 213.20,261.29 213.55,262.88 213.90,263.52 214.25,262.69 214.60,261.03 214.95,260.43 215.30,261.47 215.65,262.98 216.00,263.21 216.35,262.21 216.70,260.84 217.05,260.62 217.40,261.89 217.75,262.80 218.10,262.66 218.45,261.75 218.80,260.80 219.15,260.86 219.50,262.00 219.85,262.71 220.20,262.32 220.55,261.36 220.90,260.82 221.25,261.15 221.60,261.96 221.95,262.33 222.30,262.05 222.65,261.02 223.00,260.64 223.35,261.18 223.70,261.98 224.05,262.14 224.40,261.72 224.75,260.70 225.10,260.47 225.45,261.22 225.80,262.00 226.15,262.16 226.50,261.24 226.85,260.39 227.20,260.19 227.55,261.07 227.90,261.96 228.25,261.78 228.60,260.80 228.95,259.65 229.30,260.04 229.65,261.21 230.00,262.18 230.35,261.57 230.70,260.16 231.05,259.10 231.40,259.92 231.75,261.40 232.10,262.30 232.45,261.16 232.80,259.59 233.15,258.90 233.50,260.04 233.85,261.65 234.20,262.06 234.55,260.75 234.90,258.84 235.25,258.87 235.60,260.24 235.95,261.92 236.30,261.86 236.65,260.18 237.00,258.50 237.35,259.00 237.70,260.44 238.05,261.73 238.40,261.17 238.75,259.50 239.10,258.65 239.45,259.03 239.80,260.82 240.15,261.64 240.50,260.84 240.85,259.24 241.20,258.66 241.55,259.45 241.90,260.90 242.25,261.22 242.60,260.38 242.95,259.01 243.30,258.89 243.65,259.74 244.00,260.83 244.35,261.00 244.70,260.10 245.05,259.17 245.40,259.05 245.75,260.09 246.10,260.79 246.45,260.68 246.80,259.83 247.15,259.05 247.50,259.25 247.85,260.06 248.20,260.74 248.55,260.47 248.90,259.51 249.25,258.94 249.60,259.39 249.95,260.42 250.30,260.80 250.65,260.41 251.00,259.19 251.35,258.68 251.70,259.47 252.05,260.89 252.40,261.23 252.75,260.01 253.10,258.80 253.45,258.37 253.80,259.70 254.15,261.17 254.50,260.99 254.85,259.64 255.20,258.08 255.55,258.53 255.90,260.27 256.25,261.53 256.60,261.01 256.95,259.10 257.30,258.00 257.65,258.55 258.00,260.64 258.35,261.52 258.70,260.59 259.05,258.58 259.40,257.92 259.75,259.10 260.10,261.08 260.45,261.59 260.80,260.35 261.15,258.43 261.50,258.06 261.85,259.24 262.20,261.12 262.55,261.32 262.90,259.82 263.25,258.25 263.60,258.38 263.95,259.69 264.30,260.94 264.65,260.69 265.00,259.44 265.35,258.20 265.70,258.54 266.05,260.08 266.40,260.79 266.75,260.49 267.10,259.04 267.45,258.31 267.80,259.03 268.15,260.31 268.50,260.50 268.85,259.86 269.20,258.94 269.55,258.45 269.90,259.37 270.25,260.23 270.60,260.41 270.95,259.63 271.30,258.70 271.65,258.47 272.00,259.50 272.35,260.56 272.70,260.51 273.05,259.49 273.40,258.32 273.75,258.71 274.10,259.57 274.45,260.64 274.80,260.47 275.15,258.85 275.50,257.91 275.85,258.68 276.20,260.06 276.55,261.04 276.90,260.30 277.25,258.65 277.60,257.60 277.95,258.84 278.30,260.64 278.65,261.27 279.00,259.94 279.35,257.82 279.70,257.63 280.05,259.19 280.40,261.14 280.75,261.11 281.10,259.52 281.45,257.40 281.80,257.43 282.15,259.61 282.50,261.30 282.85,260.83 283.20,258.84 283.55,257.32 283.90,257.73 284.25,259.82 284.60,261.42 284.95,260.35 285.30,258.53 285.65,257.17 286.00,258.38 286.35,260.14 286.70,261.27 287.05,260.02 287.40,258.11 287.75,257.53 288.10,258.70 288.45,260.56 288.80,260.86 289.15,259.51 289.50,258.12 289.85,257.74 290.20,259.16 290.55,260.48 290.90,260.34 291.25,259.12 291.60,258.02 291.95,258.30 292.30,259.38 292.65,260.37 293.00,259.85 293.35,258.61 293.70,257.94 294.05,258.63 294.40,259.63 294.75,260.11 295.10,259.79 295.45,258.32 295.80,258.10 296.15,258.81 296.50,260.04 296.85,260.14 297.20,259.56 297.55,258.13 297.90,257.79 298.25,258.89 298.60,260.04 298.95,260.33 299.30,259.25 299.65,257.71 300.00,257.82 300.35,259.08 300.70,260.75 301.05,260.32 301.40,258.63 301.75,257.22 302.10,257.71 302.45,259.79 302.80,260.98 303.15,260.17 303.50,257.92 303.85,256.73 304.20,258.11 304.55,260.12 304.90,261.29 305.25,259.63 305.60,257.46 305.95,256.86 306.30,258.40 306.65,260.66 307.00,261.11 307.35,259.30 307.70,257.07 308.05,256.93 308.40,258.82 308.75,260.95 309.10,260.76 309.45,258.88 309.80,256.88 310.15,257.55 310.50,259.26 310.85,260.83 311.20,260.18 311.55,258.31 311.90,257.09 312.25,258.05 312.60,259.83 312.95,260.55 313.30,259.73 313.65,258.02 314.00,257.40 314.35,258.19 314.70,259.77 315.05,260.41 315.40,259.15 315.75,257.98 316.10,257.81 316.45,258.78 316.80,259.74 317.15,259.85 317.50,258.90 317.85,257.68 318.20,257.89 318.55,259.15 318.90,259.92 319.25,259.65 319.60,258.51 319.95,257.73 320.30,258.03 320.65,259.49 321.00,260.33 321.35,259.85 321.70,258.03 322.05,257.31 322.40,258.18 322.75,259.73 323.10,260.46 323.45,259.52 323.80,257.83 324.15,257.15 324.50,258.46 324.85,260.43 325.20,260.91 325.55,259.16 325.90,257.16 326.25,257.16 326.60,259.12 326.95,260.88 327.30,260.69 327.65,258.62 328.00,256.67 328.35,257.14 328.70,259.66 329.05,261.39 329.40,260.70 329.75,258.00 330.10,256.78 330.45,257.50 330.80,260.41 331.15,261.66 331.50,260.24 331.85,257.59 332.20,256.64 332.55,258.25 332.90,260.69 333.25,261.33 333.60,259.83 333.95,257.77 334.30,257.21 334.65,259.15 335.00,261.00 335.35,260.96 335.70,259.12 336.05,257.82 336.40,257.69 336.75,259.71 337.10,261.00 337.45,260.53 337.80,258.96 338.15,257.98 338.50,258.31 338.85,260.15 339.20,260.80" stroke="#8f7ac4"/>
<path d="M39.60,249.04 39.95,249.44 40.30,249.61 40.65,249.56 41.00,249.30 41.35,249.27 41.70,249.53 42.05,249.87 42.40,250.04 42.75,249.89 43.10,249.68 43.45,249.74 43.80,250.02 44.15,250.31 44.50,250.34 44.85,250.17 45.20,250.04 45.55,250.16 45.90,250.39 46.25,250.63 46.60,250.64 46.95,250.47 47.30,250.38 47.65,250.52 48.00,250.74 48.35,250.90 48.70,250.84 49.05,250.67 49.40,250.64 49.75,250.81 50.10,251.02 50.45,251.12 50.80,251.07 51.15,250.89 51.50,250.94 51.85,251.13 52.20,251.37 52.55,251.40 52.90,251.28 53.25,251.12 53.60,251.19 53.95,251.45 54.30,251.70 54.65,251.78 55.00,251.58 55.35,251.42 55.70,251.52 56.05,251.87 56.40,252.18 56.75,252.15 57.10,251.86 57.45,251.74 57.80,251.94 58.15,252.45 58.50,252.73 58.85,252.57 59.20,252.20 59.55,252.16 59.90,252.49 60.25,253.05 60.60,253.23 60.95,253.00 61.30,252.58 61.65,252.62 62.00,253.12 62.35,253.65 62.70,253.70 63.05,253.36 63.40,253.00 63.75,253.14 64.10,253.68 64.45,254.13 64.80,254.10 65.15,253.65 65.50,253.42 65.85,253.72 66.20,254.20 66.55,254.51 66.90,254.33 67.25,254.05 67.60,253.94 67.95,254.18 68.30,254.65 68.65,254.84 69.00,254.63 69.35,254.36 69.70,254.35 70.05,254.71 70.40,255.09 70.75,255.19 71.10,254.96 71.45,254.73 71.80,254.82 72.15,255.16 72.50,255.43 72.85,255.45 73.20,255.25 73.55,255.13 73.90,255.22 74.25,255.57 74.60,255.82 74.95,255.78 75.30,255.63 75.65,255.46 76.00,255.71 76.35,256.09 76.70,256.31 77.05,256.22 77.40,255.93 77.75,255.80 78.10,256.18 78.45,256.58 78.80,256.78 79.15,256.57 79.50,256.22 79.85,256.20 80.20,256.65 80.55,257.19 80.90,257.29 81.25,256.89 81.60,256.45 81.95,256.59 82.30,257.25 82.65,257.68 83.00,257.63 83.35,257.12 83.70,256.72 84.05,257.09 84.40,257.78 84.75,258.18 85.10,257.89 85.45,257.30 85.80,257.06 86.15,257.46 86.50,258.23 86.85,258.47 87.20,258.16 87.55,257.50 87.90,257.48 88.25,257.98 88.60,258.61 88.95,258.75 89.30,258.29 89.65,257.82 90.00,257.88 90.35,258.51 90.70,259.04 91.05,258.97 91.40,258.51 91.75,258.22 92.10,258.38 92.45,258.94 92.80,259.33 93.15,259.13 93.50,258.71 93.85,258.57 94.20,258.77 94.55,259.23 94.90,259.49 95.25,259.31 95.60,258.97 95.95,258.90 96.30,259.18 96.65,259.50 97.00,259.72 97.35,259.35 97.70,259.05 98.05,259.03 98.40,259.44 98.75,259.74 99.10,259.80 99.45,259.39 99.80,259.04 100.15,259.11 100.50,259.55 100.85,259.85 101.20,259.83 101.55,259.37 101.90,258.96 102.25,259.24 102.60,259.74 102.95,260.07 103.30,259.74 103.65,259.21 104.00,258.90 104.35,259.28 104.70,259.95 105.05,260.19 105.40,259.73 105.75,259.01 106.10,258.87 106.45,259.45 106.80,260.10 107.15,260.18 107.50,259.61 107.85,258.81 108.20,258.95 108.55,259.66 108.90,260.27 109.25,260.24 109.60,259.38 109.95,258.72 110.30,259.00 110.65,259.85 111.00,260.44 111.35,260.06 111.70,259.24 112.05,258.76 112.40,259.22 112.75,259.96 113.10,260.35 113.45,259.85 113.80,259.09 114.15,258.94 114.50,259.34 114.85,260.08 115.20,260.20 115.55,259.61 115.90,259.07 116.25,259.04 116.60,259.61 116.95,260.12 117.30,260.01 117.65,259.54 118.00,259.09 118.35,259.18 118.70,259.68 119.05,260.09 119.40,259.88 119.75,259.46 120.10,259.20 120.45,259.29 120.80,259.75 121.15,260.12 121.50,259.78 121.85,259.33 122.20,259.18 122.55,259.42 122.90,259.86 123.25,260.14 123.60,259.72 123.95,259.27 124.30,259.15 124.65,259.46 125.00,260.00 125.35,260.11 125.70,259.57 126.05,259.06 126.40,259.06 126.75,259.65 127.10,260.20 127.45,260.12 127.80,259.43 128.15,258.81 128.50,259.05 128.85,259.81 129.20,260.36 129.55,260.04 129.90,259.20 130.25,258.68 130.60,259.05 130.95,260.11 131.30,260.49 131.65,259.99 132.00,258.98 132.35,258.64 132.70,259.28 133.05,260.33 133.40,260.47 133.75,259.76 134.10,258.71 134.45,258.63 134.80,259.57 135.15,260.45 135.50,260.39 135.85,259.45 136.20,258.73 136.55,258.89 136.90,259.70 137.25,260.34 137.60,260.19 137.95,259.26 138.30,258.71 138.65,259.02 139.00,259.90 139.35,260.32 139.70,259.87 140.05,259.12 140.40,258.85 140.75,259.31 141.10,259.96 141.45,260.29 141.80,259.71 142.15,259.20 142.50,259.08 142.85,259.56 143.20,260.08 143.55,260.11 143.90,259.63 144.25,259.20 144.60,259.23 144.95,259.70 145.30,260.11 145.65,260.12 146.00,259.65 146.35,259.09 146.70,259.26 147.05,259.87 147.40,260.32 147.75,260.13 148.10,259.55 148.45,259.03 148.80,259.47 149.15,260.27 149.50,260.53 149.85,260.19 150.20,259.35 150.55,259.05 150.90,259.61 151.25,260.57 151.60,260.82 151.95,260.08 152.30,259.10 152.65,259.16 153.00,260.04 153.35,260.94 153.70,260.81 154.05,259.85 154.40,258.95 154.75,259.32 155.10,260.36 155.45,261.30 155.80,260.90 156.15,259.71 156.50,259.03 156.85,259.51 157.20,260.75 157.55,261.44 157.90,260.86 158.25,259.71 158.60,259.15 158.95,259.87 159.30,261.06 159.65,261.43 160.00,260.66 160.35,259.66 160.70,259.54 161.05,260.50 161.40,261.37 161.75,261.57 162.10,260.59 162.45,259.82 162.80,260.05 163.15,260.82 163.50,261.60 163.85,261.46 164.20,260.83 164.55,260.28 164.90,260.62 165.25,261.28 165.60,261.93 165.95,261.64 166.30,260.93 166.65,260.71 167.00,261.10 167.35,261.85 167.70,262.24 168.05,261.80 168.40,261.30 168.75,261.18 169.10,261.73 169.45,262.49 169.80,262.81 170.15,262.24 170.50,261.71 170.85,261.95 171.20,262.64 171.55,263.46 171.90,263.59 172.25,262.93 172.60,262.46 172.95,262.83 173.30,263.78 173.65,264.59 174.00,264.66 174.35,263.82 174.70,263.42 175.05,264.04 175.40,265.36 175.75,266.27 176.10,266.13 176.45,265.36 176.80,265.17 177.15,266.35 177.50,267.89 177.85,268.86 178.20,268.42 178.55,267.67 178.90,268.09 179.25,269.71 179.60,271.77 179.95,272.67 180.30,272.46 180.65,272.23 181.00,273.31 181.35,275.86 181.70,278.28 182.05,279.50 182.40,279.99 182.75,281.05 183.10,283.98 183.15,284.58 183.20,285.11 183.25,285.56 183.30,286.32 183.35,286.97 183.40,287.61 183.45,288.05 183.50,288.87 183.55,289.54 183.60,290.12 183.65,290.82 183.70,291.30 183.75,291.92 183.80,292.59 183.85,293.13 183.90,293.88 183.95,294.30 184.00,294.94 184.05,295.52 184.10,296.27 184.15,296.72 184.20,297.38 184.25,298.19 184.30,298.97 184.35,299.73 184.40,300.56 184.45,301.57 184.50,302.62 184.55,303.71 184.60,305.09 184.65,306.67 184.70,308.28 184.75,310.30 184.80,312.81 184.85,315.50 184.90,319.00 184.95,323.48 185.00,329.78 185.05,340.45 185.10,386.81 185.15,340.84 185.20,330.37 185.25,324.28 185.30,319.97 185.35,316.68 185.40,314.06 185.45,311.88 185.50,309.96 185.55,308.35 185.60,306.72 185.65,305.53 185.70,304.26 185.75,303.03 185.80,301.89 185.85,300.95 185.90,299.89 185.95,299.01 186.00,298.13 186.05,297.00 186.10,296.31 186.15,295.29 186.20,294.60 186.25,293.72 186.30,292.86 186.35,291.99 186.40,291.26 186.45,290.64 186.50,290.00 186.55,289.17 186.60,288.53 186.65,287.89 186.70,287.50 186.75,286.85 186.80,286.38 186.85,285.87 186.90,285.46 186.95,285.10 187.00,284.74 187.05,284.60 187.10,284.12 187.30,283.32 187.65,282.03 188.00,280.49 188.35,278.05 188.70,275.75 189.05,274.46 189.40,274.17 189.75,273.81 190.10,273.03 190.45,271.47 190.80,270.10 191.15,269.45 191.50,269.60 191.85,269.64 192.20,268.78 192.55,267.68 192.90,266.88 193.25,266.62 193.60,267.07 193.95,267.08 194.30,266.42 194.65,265.39 195.00,264.69 195.35,265.15 195.70,265.82 196.05,265.84 196.40,264.83 196.75,263.91 197.10,263.39 197.45,264.10 197.80,265.04 198.15,264.97 198.50,263.74 198.85,262.66 199.20,262.49 199.55,263.74 199.90,264.54 200.25,264.15 200.60,262.89 200.95,261.80 201.30,262.07 201.65,263.53 202.00,264.25 202.35,263.49 202.70,262.03 203.05,261.21 203.40,261.80 203.75,263.51 204.10,263.88 204.45,262.94 204.80,261.24 205.15,260.85 205.50,261.79 205.85,263.30 206.20,263.50 206.55,262.35 206.90,260.82 207.25,260.81 207.60,261.94 207.95,263.20 208.30,263.05 208.65,261.74 209.00,260.64 209.35,260.93 209.70,262.09 210.05,262.84 210.40,262.31 210.75,261.13 211.10,260.53 211.45,260.86 211.80,262.04 212.15,262.49 212.50,261.86 212.85,260.84 213.20,260.48 213.55,261.01 213.90,261.98 214.25,262.18 214.60,261.48 214.95,260.61 215.30,260.51 215.65,261.07 216.00,261.93 216.35,261.84 216.70,261.08 217.05,260.29 217.40,260.44 217.75,261.09 218.10,261.81 218.45,261.50 218.80,260.78 219.15,260.00 219.50,260.17 219.85,261.12 220.20,261.79 220.55,261.29 220.90,260.24 221.25,259.65 221.60,260.24 221.95,261.37 222.30,261.87 222.65,261.07 223.00,259.73 223.35,259.09 223.70,260.25 224.05,261.68 224.40,261.75 224.75,260.48 225.10,259.00 225.45,258.85 225.80,260.31 226.15,261.71 226.50,261.60 226.85,260.02 227.20,258.42 227.55,258.97 227.90,260.45 228.25,261.75 228.60,261.02 228.95,259.19 229.30,258.15 229.65,259.09 230.00,260.55 230.35,261.51 230.70,260.54 231.05,258.65 231.40,258.05 231.75,259.25 232.10,260.55 232.45,261.06 232.80,259.81 233.15,258.35 233.50,258.35 233.85,259.42 234.20,260.59 234.55,260.56 234.90,259.20 235.25,258.41 235.60,258.44 235.95,259.33 236.30,260.37 236.65,259.97 237.00,258.82 237.35,258.08 237.70,258.43 238.05,259.60 238.40,260.15 238.75,259.50 239.10,258.62 239.45,258.15 239.80,258.59 240.15,259.46 240.50,259.97 240.85,259.16 241.20,258.39 241.55,257.94 241.90,258.88 242.25,259.86 242.60,259.86 242.95,258.95 243.30,257.96 243.65,258.05 244.00,258.82 244.35,259.86 244.70,259.77 245.05,258.61 245.40,257.74 245.75,257.87 246.10,259.34 246.45,260.37 246.80,259.81 247.15,258.12 247.50,257.18 247.85,257.79 248.20,259.69 248.55,260.64 248.90,259.46 249.25,257.61 249.60,257.00 249.95,258.28 250.30,260.01 250.65,260.63 251.00,259.17 251.35,257.27 251.70,256.95 252.05,258.52 252.40,260.45 252.75,260.39 253.10,258.65 253.45,257.11 253.80,257.39 254.15,259.07 254.50,260.41 254.85,259.92 255.20,258.07 255.55,257.13 255.90,257.62 256.25,259.40 256.60,260.34 256.95,259.54 257.30,257.94 257.65,257.11 258.00,258.11 258.35,259.32 258.70,259.84 259.05,259.06 259.40,257.65 259.75,257.54 260.10,258.53 260.45,259.49 260.80,259.57 261.15,258.61 261.50,257.85 261.85,257.84 262.20,258.56 262.55,259.34 262.90,259.35 263.25,258.30 263.60,257.71 263.95,257.94 264.30,258.83 264.65,259.38 265.00,259.29 265.35,258.08 265.70,257.37 266.05,258.07 266.40,258.97 266.75,259.76 267.10,258.89 267.45,257.68 267.80,257.33 268.15,258.14 268.50,259.45 268.85,259.97 269.20,258.65 269.55,257.26 269.90,257.10 270.25,258.40 270.60,259.79 270.95,259.92 271.30,258.31 271.65,256.85 272.00,256.99 272.35,258.79 272.70,260.23 273.05,259.89 273.40,257.95 273.75,256.24 274.10,256.93 274.45,259.32 274.80,260.26 275.15,259.49 275.50,257.27 275.85,256.26 276.20,257.60 276.55,259.61 276.90,260.33 277.25,258.90 277.60,256.88 277.95,256.45 278.30,257.91 278.65,259.89 279.00,259.91 279.35,258.36 279.70,256.84 280.05,256.77 280.40,258.33 280.75,259.74 281.10,259.59 281.45,257.96 281.80,256.76 282.15,257.01 282.50,258.50 282.85,259.46 283.20,259.07 283.55,257.66 283.90,256.99 284.25,257.51 284.60,258.68 284.95,259.23 285.30,258.48 285.65,257.38 286.00,256.97 286.35,257.83 286.70,258.99 287.05,259.20 287.40,258.31 287.75,257.27 288.10,257.11 288.45,258.20 288.80,258.90 289.15,259.12 289.50,258.08 289.85,256.85 290.20,257.12 290.55,258.20 290.90,259.47 291.25,259.02 291.60,257.79 291.95,256.59 292.30,256.99 292.65,258.76 293.00,259.60 293.35,258.81 293.70,257.15 294.05,256.33 294.40,257.17 294.75,259.03 295.10,259.75 295.45,258.41 295.80,256.42 296.15,256.05 296.50,257.51 296.85,259.55 297.20,259.95 297.55,257.95 297.90,256.19 298.25,255.96 298.60,258.01 298.95,260.08 299.30,259.83 299.65,257.46 300.00,255.94 300.35,256.43 300.70,258.43 301.05,259.98 301.40,259.27 301.75,257.05 302.10,255.90 302.45,256.76 302.80,258.92 303.15,259.81 303.50,258.77 303.85,256.56 304.20,256.17 304.55,257.28 304.90,258.92 305.25,259.32 305.60,258.31 305.95,256.60 306.30,256.39 306.65,257.79 307.00,259.16 307.35,259.13 307.70,257.80 308.05,256.58 308.40,256.81 308.75,257.93 309.10,259.08 309.45,258.60 309.80,257.28 310.15,256.71 310.50,257.14 310.85,258.35 311.20,259.13 311.55,258.51 311.90,257.06 312.25,256.65 312.60,257.38 312.95,258.45 313.30,259.24 313.65,258.23 314.00,256.92 314.35,256.48 314.70,257.66 315.05,258.89 315.40,259.27 315.75,257.78 316.10,256.47 316.45,256.16 316.80,258.03 317.15,259.34 317.50,259.37 317.85,257.41 318.20,255.80 318.55,256.47 318.90,258.39 319.25,259.83 319.60,259.12 319.95,256.72 320.30,255.46 320.65,256.76 321.00,258.89 321.35,259.94 321.70,258.85 322.05,256.38 322.40,255.36 322.75,257.03 323.10,259.53 323.45,260.20 323.80,258.19 324.15,255.95 324.50,255.64 324.85,257.53 325.20,259.84 325.55,259.56 325.90,257.49 326.25,255.93 326.60,256.17 326.95,258.42 327.30,259.98 327.65,259.25 328.00,257.45 328.35,255.92 328.70,256.72 329.05,258.49 329.40,259.57 329.75,258.66 330.10,257.16 330.45,256.21 330.80,257.49 331.15,258.77 331.50,259.26 331.85,258.32 332.20,256.94 332.55,256.91 332.90,257.74 333.25,259.23 333.60,259.37 333.95,258.34 334.30,256.93 334.65,256.99 335.00,258.29 335.35,259.54 335.70,259.34 336.05,257.83 336.40,256.89 336.75,257.40 337.10,258.55 337.45,259.69 337.80,259.39 338.15,257.47 338.50,256.83 338.85,257.57 339.20,259.13" stroke="#8c5a5a"/>
<path d="M39.60,249.86 39.95,249.82 40.30,249.75 40.65,249.80 41.00,250.04 41.35,250.24 41.70,250.34 42.05,250.23 42.40,250.15 42.75,250.26 43.10,250.49 43.45,250.74 43.80,250.72 44.15,250.55 44.50,250.49 44.85,250.62 45.20,250.95 45.55,251.16 45.90,251.11 46.25,250.85 46.60,250.77 46.95,251.03 47.30,251.40 47.65,251.54 48.00,251.36 48.35,251.04 48.70,251.05 49.05,251.38 49.40,251.75 49.75,251.80 50.10,251.55 50.45,251.29 50.80,251.31 51.15,251.72 51.50,252.08 51.85,252.07 52.20,251.75 52.55,251.53 52.90,251.70 53.25,252.13 53.60,252.44 53.95,252.29 54.30,251.97 54.65,251.89 55.00,252.10 55.35,252.55 55.70,252.72 56.05,252.59 56.40,252.31 56.75,252.32 57.10,252.63 57.45,253.01 57.80,253.17 58.15,253.00 58.50,252.81 58.85,252.88 59.20,253.21 59.55,253.51 59.90,253.56 60.25,253.42 60.60,253.32 60.95,253.45 61.30,253.74 61.65,254.00 62.00,254.02 62.35,253.86 62.70,253.84 63.05,254.03 63.40,254.36 63.75,254.57 64.10,254.52 64.45,254.29 64.80,254.23 65.15,254.54 65.50,254.84 65.85,254.98 66.20,254.86 66.55,254.68 66.90,254.65 67.25,255.01 67.60,255.41 67.95,255.51 68.30,255.22 68.65,254.92 69.00,255.07 69.35,255.52 69.70,255.91 70.05,255.92 70.40,255.51 70.75,255.22 71.10,255.46 71.45,256.06 71.80,256.44 72.15,256.27 72.50,255.76 72.85,255.53 73.20,255.93 73.55,256.59 73.90,256.87 74.25,256.56 74.60,256.10 74.95,256.01 75.30,256.47 75.65,257.06 76.00,257.27 76.35,256.82 76.70,256.38 77.05,256.48 77.40,257.06 77.75,257.60 78.10,257.58 78.45,257.14 78.80,256.81 79.15,257.06 79.50,257.61 79.85,258.05 80.20,257.93 80.55,257.54 80.90,257.36 81.25,257.64 81.60,258.06 81.95,258.40 82.30,258.22 82.65,257.88 83.00,257.82 83.35,258.12 83.70,258.56 84.05,258.71 84.40,258.55 84.75,258.23 85.10,258.24 85.45,258.57 85.80,258.97 86.15,259.02 86.50,258.76 86.85,258.54 87.20,258.70 87.55,259.05 87.90,259.40 88.25,259.33 88.60,259.08 88.95,258.88 89.30,259.08 89.65,259.51 90.00,259.79 90.35,259.68 90.70,259.34 91.05,259.15 91.40,259.43 91.75,260.05 92.10,260.22 92.45,260.04 92.80,259.49 93.15,259.43 93.50,259.81 93.85,260.47 94.20,260.68 94.55,260.18 94.90,259.59 95.25,259.61 95.60,260.27 95.95,260.90 96.30,260.87 96.65,260.21 97.00,259.73 97.35,259.90 97.70,260.63 98.05,261.21 98.40,261.01 98.75,260.23 99.10,259.83 99.45,260.14 99.80,260.90 100.15,261.25 100.50,260.94 100.85,260.22 101.20,259.86 101.55,260.37 101.90,261.03 102.25,261.23 102.60,260.71 102.95,260.19 103.30,260.12 103.65,260.60 104.00,261.14 104.35,261.23 104.70,260.61 105.05,260.23 105.40,260.32 105.75,260.80 106.10,261.23 106.45,261.12 106.80,260.65 107.15,260.34 107.50,260.50 107.85,260.90 108.20,261.15 108.55,260.95 108.90,260.56 109.25,260.32 109.60,260.65 109.95,260.98 110.30,261.20 110.65,260.97 111.00,260.52 111.35,260.43 111.70,260.69 112.05,261.17 112.40,261.30 112.75,260.89 113.10,260.46 113.45,260.33 113.80,260.86 114.15,261.28 114.50,261.26 114.85,260.75 115.20,260.24 115.55,260.39 115.90,261.09 116.25,261.43 116.60,261.30 116.95,260.55 117.30,260.14 117.65,260.39 118.00,261.30 118.35,261.71 118.70,261.26 119.05,260.37 119.40,259.98 119.75,260.61 120.10,261.41 120.45,261.76 120.80,260.97 121.15,260.21 121.50,259.98 121.85,260.85 122.20,261.63 122.55,261.63 122.90,260.74 123.25,260.05 123.60,260.09 123.95,261.08 124.30,261.64 124.65,261.48 125.00,260.59 125.35,259.94 125.70,260.35 126.05,261.16 126.40,261.63 126.75,261.28 127.10,260.50 127.45,260.10 127.80,260.56 128.15,261.24 128.50,261.51 128.85,261.08 129.20,260.33 129.55,260.15 129.90,260.68 130.25,261.30 130.60,261.35 130.95,260.76 131.30,260.34 131.65,260.30 132.00,260.88 132.35,261.20 132.70,261.12 133.05,260.72 133.40,260.33 133.75,260.39 134.10,260.84 134.45,261.22 134.80,261.16 135.15,260.61 135.50,260.16 135.85,260.49 136.20,260.97 136.55,261.33 136.90,260.94 137.25,260.42 137.60,260.05 137.95,260.56 138.30,261.31 138.65,261.47 139.00,260.95 139.35,260.17 139.70,259.96 140.05,260.62 140.40,261.39 140.75,261.50 141.10,260.65 141.45,259.89 141.80,259.97 142.15,260.86 142.50,261.64 142.85,261.43 143.20,260.50 143.55,259.82 143.90,260.15 144.25,261.26 144.60,261.82 144.95,261.41 145.30,260.29 145.65,259.68 146.00,260.45 146.35,261.57 146.70,261.99 147.05,261.24 147.40,260.15 147.75,259.79 148.10,260.71 148.45,261.76 148.80,261.81 149.15,260.96 149.50,260.13 149.85,260.15 150.20,261.01 150.55,261.77 150.90,261.70 151.25,260.78 151.60,260.13 151.95,260.29 152.30,261.18 152.65,261.77 153.00,261.49 153.35,260.74 153.70,260.31 154.05,260.57 154.40,261.29 154.75,261.75 155.10,261.27 155.45,260.61 155.80,260.38 156.15,260.85 156.50,261.48 156.85,261.74 157.20,261.25 157.55,260.57 157.90,260.51 158.25,261.03 158.60,261.70 158.95,261.63 159.30,261.07 159.65,260.61 160.00,260.71 160.35,261.34 160.70,261.88 161.05,261.83 161.40,261.11 161.75,260.40 162.10,260.80 162.45,261.65 162.80,262.14 163.15,261.76 163.50,260.81 163.85,260.39 164.20,261.07 164.55,262.10 164.90,262.47 165.25,261.75 165.60,260.55 165.95,260.38 166.30,261.35 166.65,262.35 167.00,262.62 167.35,261.60 167.70,260.46 168.05,260.47 168.40,261.73 168.75,262.78 169.10,262.71 169.45,261.31 169.80,260.37 170.15,260.74 170.50,262.16 170.85,262.94 171.20,262.52 171.55,261.32 171.90,260.63 172.25,261.13 172.60,262.44 172.95,263.00 173.30,262.41 173.65,261.19 174.00,260.78 174.35,261.72 174.70,262.78 175.05,262.87 175.40,262.23 175.75,261.30 176.10,261.15 176.45,262.01 176.80,262.91 177.15,262.89 177.50,262.16 177.85,261.56 178.20,261.61 178.55,262.47 178.90,263.02 179.25,262.72 179.60,262.18 179.95,261.75 180.30,262.05 180.65,262.66 181.00,263.15 181.35,262.84 181.70,262.11 182.05,261.77 182.40,262.16 182.75,263.11 183.10,263.34 183.45,262.94 183.80,262.14 184.15,261.91 184.50,262.63 184.85,263.45 185.20,263.62 185.55,262.76 185.90,262.00 186.25,262.01 186.60,263.01 186.95,263.85 187.30,263.82 187.65,262.94 188.00,262.11 188.35,262.25 188.70,263.58 189.05,264.41 189.40,264.04 189.75,262.70 190.10,262.14 190.45,262.86 190.80,264.30 191.15,264.88 191.50,264.12 191.85,262.75 192.20,262.38 192.55,263.40 192.90,264.93 193.25,265.36 193.60,264.08 193.95,262.80 194.30,262.74 194.65,264.15 195.00,265.40 195.35,265.43 195.70,264.34 196.05,263.12 196.40,263.46 196.75,265.03 197.10,266.08 197.45,265.81 197.80,264.51 198.15,263.95 198.50,264.55 198.85,265.89 199.20,266.52 199.55,266.10 199.90,265.08 200.25,264.88 200.60,265.53 200.95,266.68 201.30,267.20 201.65,266.58 202.00,265.98 202.35,266.03 202.70,266.99 203.05,267.97 203.40,268.17 203.75,267.82 204.10,267.46 204.45,267.70 204.80,268.71 205.15,269.77 205.50,269.98 205.85,269.44 206.20,269.28 206.55,270.03 206.90,271.25 207.25,272.36 207.60,272.70 207.95,272.31 208.30,272.55 208.65,273.58 209.00,275.38 209.35,276.81 209.70,277.01 210.05,276.99 210.40,277.60 210.75,279.56 211.10,282.18 211.45,284.23 211.80,284.88 212.15,285.68 212.50,287.85 212.55,288.49 212.60,289.06 212.65,289.55 212.70,290.15 212.75,290.64 212.80,291.27 212.85,292.01 212.90,292.65 212.95,293.43 213.00,294.17 213.05,294.84 213.10,295.48 213.15,296.28 213.20,296.85 213.25,297.64 213.30,298.38 213.35,298.99 213.40,299.58 213.45,300.38 213.50,301.06 213.55,301.69 213.60,302.27 213.65,303.02 213.70,303.79 213.75,304.69 213.80,305.44 213.85,306.33 213.90,307.43 213.95,308.47 214.00,309.81 214.05,311.03 214.10,312.71 214.15,314.60 214.20,316.79 214.25,319.50 214.30,322.97 214.35,327.29 214.40,333.65 214.45,344.18 214.50,382.08 214.55,344.40 214.60,333.80 214.65,327.86 214.70,323.65 214.75,320.27 214.80,317.82 214.85,315.52 214.90,313.70 214.95,312.32 215.00,310.83 215.05,309.48 215.10,308.42 215.15,307.37 215.20,306.50 215.25,305.48 215.30,304.48 215.35,303.80 215.40,302.75 215.45,301.99 215.50,301.15 215.55,300.15 215.60,299.42 215.65,298.54 215.70,297.56 215.75,296.90 215.80,295.90 215.85,295.24 215.90,294.36 215.95,293.72 216.00,292.72 216.05,292.12 216.10,291.41 216.15,290.64 216.20,290.16 216.25,289.69 216.30,289.09 216.35,288.70 216.40,288.27 216.45,287.68 216.50,287.38 216.70,286.54 217.05,286.01 217.40,285.06 217.75,282.50 218.10,279.41 218.45,277.28 218.80,277.04 219.15,277.66 219.50,277.20 219.85,275.16 220.20,272.87 220.55,271.63 220.90,272.13 221.25,272.95 221.60,272.48 221.95,270.61 222.30,268.85 222.65,268.57 223.00,269.16 223.35,269.81 223.70,269.23 224.05,267.56 224.40,266.43 224.75,266.51 225.10,267.16 225.45,267.61 225.80,266.78 226.15,265.56 226.50,264.84 226.85,265.15 227.20,265.76 227.55,266.02 227.90,265.07 228.25,264.11 228.60,263.59 228.95,264.22 229.30,264.89 229.65,264.85 230.00,264.03 230.35,262.97 230.70,262.68 231.05,263.31 231.40,264.23 231.75,263.93 232.10,263.01 232.45,261.83 232.80,261.85 233.15,262.88 233.50,263.77 233.85,263.35 234.20,261.89 234.55,260.89 234.90,261.53 235.25,262.82 235.60,263.38 235.95,262.59 236.30,261.12 236.65,260.36 237.00,261.29 237.35,262.81 237.70,263.14 238.05,261.97 238.40,260.33 238.75,259.91 239.10,261.28 239.45,262.84 239.80,263.01 240.15,261.40 240.50,259.62 240.85,259.79 241.20,261.49 241.55,262.92 241.90,262.35 242.25,260.59 242.60,259.46 242.95,259.69 243.30,261.44 243.65,262.73 244.00,261.73 244.35,260.28 244.70,259.35 245.05,260.20 245.40,261.62 245.75,262.18 246.10,261.35 246.45,259.79 246.80,259.31 247.15,260.49 247.50,261.70 247.85,261.71 248.20,260.92 248.55,259.72 248.90,259.66 249.25,260.53 249.60,261.63 249.95,261.53 250.30,260.37 250.65,259.51 251.00,259.89 251.35,260.66 251.70,261.46 252.05,260.98 252.40,260.05 252.75,259.43 253.10,259.93 253.45,260.84 253.80,261.21 254.15,260.83 254.50,259.71 254.85,259.20 255.20,260.00 255.55,261.10 255.90,261.27 256.25,260.51 256.60,259.45 256.95,259.05 257.30,260.14 257.65,261.31 258.00,261.42 258.35,260.11 258.70,258.85 259.05,259.02 259.40,260.36 259.75,261.83 260.10,261.43 260.45,259.76 260.80,258.46 261.15,259.00 261.50,260.87 261.85,262.03 262.20,261.12 262.55,259.29 262.90,258.13 263.25,259.00 263.60,261.02 263.95,261.92 264.30,260.73 264.65,258.68 265.00,258.10 265.35,259.41 265.70,261.47 266.05,261.94 266.40,260.08 266.75,258.49 267.10,258.17 267.45,259.82 267.80,261.60 268.15,261.45 268.50,259.59 268.85,258.21 269.20,258.68 269.55,260.40 269.90,261.39 270.25,260.73 270.60,259.38 270.95,258.40 271.30,258.94 271.65,260.45 272.00,261.17 272.35,260.37 272.70,259.19 273.05,258.52 273.40,259.49 273.75,260.45 274.10,260.83 274.45,260.11 274.80,258.83 275.15,258.63 275.50,259.74 275.85,260.65 276.20,260.52 276.55,259.84 276.90,258.70 277.25,258.90 277.60,259.85 277.95,260.79 278.30,260.68 278.65,259.39 279.00,258.37 279.35,258.95 279.70,260.05 280.05,261.09 280.40,260.27 280.75,259.13 281.10,258.26 281.45,259.01 281.80,260.46 282.15,261.19 282.50,260.11 282.85,258.42 283.20,257.75 283.55,259.26 283.90,261.06 284.25,261.31 284.60,259.67 284.95,257.92 285.30,257.62 285.65,259.64 286.00,261.24 286.35,261.23 286.70,259.15 287.05,257.33 287.40,257.76 287.75,259.92 288.10,261.52 288.45,260.94 288.80,258.60 289.15,257.29 289.50,258.24 289.85,260.58 290.20,261.38 290.55,260.25 290.90,258.10 291.25,257.46 291.60,258.80 291.95,260.66 292.30,261.06 292.65,259.85 293.00,258.09 293.35,257.72 293.70,259.02 294.05,260.67 294.40,260.64 294.75,259.35 295.10,258.18 295.45,258.03 295.80,259.53 296.15,260.54 296.50,260.37 296.85,258.88 297.20,258.23 297.55,258.50 297.90,259.59 298.25,260.37 298.60,260.08 298.95,258.61 299.30,257.99 299.65,258.61 300.00,260.02 300.35,260.57 300.70,259.63 301.05,258.42 301.40,258.24 301.75,258.99 302.10,260.35 302.45,260.57 302.80,259.22 303.15,258.06 303.50,258.09 303.85,259.22 304.20,260.68 304.55,260.52 304.90,258.91 305.25,257.72 305.60,258.10 305.95,259.49 306.30,261.11 306.65,260.35 307.00,258.49 307.35,257.20 307.70,257.97 308.05,260.26 308.40,261.30 308.75,260.18 309.10,257.89 309.45,256.90 309.80,258.42 310.15,260.59 310.50,261.30 310.85,259.57 311.20,257.39 311.55,257.04 311.90,258.87 312.25,261.02 312.60,261.16 312.95,258.87 313.30,257.17 313.65,257.26 314.00,259.25 314.35,261.28 314.70,260.60 315.05,258.46 315.40,256.89 315.75,257.82 316.10,259.92 316.45,260.94 316.80,260.03 317.15,258.14 317.50,257.28 317.85,258.47 318.20,260.09 318.55,260.76 318.90,259.51 319.25,257.84 319.60,257.64 319.95,258.64 320.30,260.20 320.65,260.37 321.00,259.14 321.35,258.11 321.70,257.99 322.05,259.29 322.40,260.25 322.75,259.93 323.10,258.73 323.45,258.05 323.80,258.19 324.15,259.43 324.50,260.51 324.85,260.06 325.20,258.58 325.55,257.98 325.90,258.27 326.25,259.67 326.60,260.68 326.95,260.00 327.30,258.45 327.65,257.81 328.00,258.52 328.35,260.31 328.70,260.71 329.05,259.55 329.40,257.72 329.75,257.52 330.10,259.04 330.45,260.82 330.80,261.25 331.15,259.41 331.50,257.54 331.85,257.59 332.20,259.79 332.55,261.66 332.90,261.14 333.25,258.74 333.60,257.05 333.95,257.94 334.30,260.26 334.65,262.09 335.00,260.72 335.35,258.17 335.70,257.19 336.05,258.49 336.40,260.87 336.75,262.02 337.10,260.54 337.45,257.81 337.80,257.45 338.15,259.14 338.50,261.35 338.85,261.98 339.20,259.69" stroke="#e46fd0"/>
<path d="M39.60,250.52 39.95,250.37 40.30,250.39 40.65,250.71 41.00,251.06 41.35,251.17 41.70,250.98 42.05,250.78 42.40,250.87 42.75,251.27 43.10,251.59 43.45,251.59 43.80,251.31 44.15,251.15 44.50,251.37 44.85,251.74 45.20,252.04 45.55,251.91 45.90,251.64 46.25,251.59 46.60,251.80 46.95,252.19 47.30,252.33 47.65,252.22 48.00,251.96 48.35,251.92 48.70,252.21 49.05,252.55 49.40,252.64 49.75,252.42 50.10,252.26 50.45,252.29 50.80,252.62 51.15,252.83 51.50,252.85 51.85,252.67 52.20,252.61 52.55,252.70 52.90,253.00 53.25,253.15 53.60,253.16 53.95,252.97 54.30,252.95 54.65,253.09 55.00,253.36 55.35,253.57 55.70,253.50 56.05,253.33 56.40,253.36 56.75,253.60 57.10,253.91 57.45,254.02 57.80,253.97 58.15,253.78 58.50,253.84 58.85,254.15 59.20,254.53 59.55,254.59 59.90,254.39 60.25,254.25 60.60,254.38 60.95,254.75 61.30,255.14 61.65,255.17 62.00,254.91 62.35,254.67 62.70,254.93 63.05,255.43 63.40,255.78 63.75,255.64 64.10,255.26 64.45,255.15 64.80,255.51 65.15,256.01 65.50,256.27 65.85,256.08 66.20,255.63 66.55,255.57 66.90,256.05 67.25,256.58 67.60,256.70 67.95,256.37 68.30,256.01 68.65,256.10 69.00,256.63 69.35,257.12 69.70,257.13 70.05,256.72 70.40,256.38 70.75,256.61 71.10,257.12 71.45,257.48 71.80,257.39 72.15,257.08 72.50,256.84 72.85,257.20 73.20,257.62 73.55,257.87 73.90,257.72 74.25,257.44 74.60,257.43 74.95,257.75 75.30,258.11 75.65,258.30 76.00,258.09 76.35,257.89 76.70,257.95 77.05,258.28 77.40,258.59 77.75,258.69 78.10,258.50 78.45,258.33 78.80,258.44 79.15,258.81 79.50,259.12 79.85,259.08 80.20,258.87 80.55,258.78 80.90,258.96 81.25,259.40 81.60,259.66 81.95,259.60 82.30,259.23 82.65,259.13 83.00,259.45 83.35,259.89 83.70,260.18 84.05,259.93 84.40,259.50 84.75,259.48 85.10,259.92 85.45,260.50 85.80,260.57 86.15,260.20 86.50,259.80 86.85,259.86 87.20,260.43 87.55,261.02 87.90,261.01 88.25,260.50 88.60,260.04 88.95,260.25 89.30,260.97 89.65,261.52 90.00,261.34 90.35,260.71 90.70,260.38 91.05,260.79 91.40,261.60 91.75,261.95 92.10,261.53 92.45,260.92 92.80,260.79 93.15,261.28 93.50,262.05 93.85,262.24 94.20,261.76 94.55,261.20 94.90,261.27 95.25,261.79 95.60,262.31 95.95,262.37 96.30,261.85 96.65,261.54 97.00,261.58 97.35,262.12 97.70,262.62 98.05,262.45 98.40,261.97 98.75,261.76 99.10,261.91 99.45,262.35 99.80,262.61 100.15,262.45 100.50,262.10 100.85,261.87 101.20,262.17 101.55,262.54 101.90,262.72 102.25,262.45 102.60,262.06 102.95,261.95 103.30,262.25 103.65,262.71 104.00,262.82 104.35,262.39 104.70,262.07 105.05,262.03 105.40,262.44 105.75,262.95 106.10,262.81 106.45,262.40 106.80,262.01 107.15,262.15 107.50,262.69 107.85,263.13 108.20,262.89 108.55,262.30 108.90,261.96 109.25,262.27 109.60,262.92 109.95,263.31 110.30,262.92 110.65,262.15 111.00,261.91 111.35,262.35 111.70,263.17 112.05,263.45 112.40,262.81 112.75,262.01 113.10,261.91 113.45,262.67 113.80,263.42 114.15,263.38 114.50,262.67 114.85,261.91 115.20,262.11 115.55,262.90 115.90,263.57 116.25,263.27 116.60,262.42 116.95,261.87 117.30,262.28 117.65,263.08 118.00,263.58 118.35,263.10 118.70,262.31 119.05,262.03 119.40,262.51 119.75,263.17 120.10,263.38 120.45,262.89 120.80,262.32 121.15,262.21 121.50,262.70 121.85,263.27 122.20,263.34 122.55,262.82 122.90,262.28 123.25,262.32 123.60,262.74 123.95,263.23 124.30,263.17 124.65,262.57 125.00,262.34 125.35,262.43 125.70,262.85 126.05,263.22 126.40,262.93 126.75,262.47 127.10,262.26 127.45,262.42 127.80,262.92 128.15,263.21 128.50,262.96 128.85,262.41 129.20,262.10 129.55,262.48 129.90,263.10 130.25,263.22 130.60,262.72 130.95,262.18 131.30,262.10 131.65,262.59 132.00,263.25 132.35,263.31 132.70,262.61 133.05,261.96 133.40,262.02 133.75,262.76 134.10,263.54 134.45,263.28 134.80,262.40 135.15,261.68 135.50,262.13 135.85,263.03 136.20,263.61 136.55,263.12 136.90,262.10 137.25,261.63 137.60,262.16 137.95,263.21 138.30,263.58 138.65,262.92 139.00,261.90 139.35,261.66 139.70,262.40 140.05,263.35 140.40,263.55 140.75,262.60 141.10,261.78 141.45,261.82 141.80,262.76 142.15,263.43 142.50,263.25 142.85,262.35 143.20,261.80 143.55,262.08 143.90,262.88 144.25,263.48 144.60,263.02 144.95,262.26 145.30,261.98 145.65,262.34 146.00,263.03 146.35,263.25 146.70,262.87 147.05,262.31 147.40,262.01 147.75,262.46 148.10,263.06 148.45,263.24 148.80,262.78 149.15,262.27 149.50,262.13 149.85,262.72 150.20,263.14 150.55,263.27 150.90,262.77 151.25,262.21 151.60,262.36 151.95,262.95 152.30,263.47 152.65,263.29 153.00,262.57 153.35,262.19 153.70,262.43 154.05,263.13 154.40,263.64 154.75,263.25 155.10,262.41 155.45,262.05 155.80,262.53 156.15,263.41 156.50,263.88 156.85,263.12 157.20,262.15 157.55,261.87 157.90,262.74 158.25,263.84 158.60,263.88 158.95,262.87 159.30,261.86 159.65,261.95 160.00,263.17 160.35,264.10 160.70,263.89 161.05,262.75 161.40,261.78 161.75,262.21 162.10,263.35 162.45,264.33 162.80,263.68 163.15,262.59 163.50,261.88 163.85,262.60 164.20,263.78 164.55,264.23 164.90,263.44 165.25,262.50 165.60,262.12 165.95,262.98 166.30,263.91 166.65,264.22 167.00,263.40 167.35,262.38 167.70,262.50 168.05,263.17 168.40,264.10 168.75,263.89 169.10,263.29 169.45,262.65 169.80,262.76 170.15,263.57 170.50,264.05 170.85,263.90 171.20,263.19 171.55,262.84 171.90,263.13 172.25,263.86 172.60,264.13 172.95,263.71 173.30,263.12 173.65,262.90 174.00,263.31 174.35,263.93 174.70,264.14 175.05,263.83 175.40,263.04 175.75,262.99 176.10,263.45 176.45,264.22 176.80,264.33 177.15,263.64 177.50,262.90 177.85,263.09 178.20,263.87 178.55,264.70 178.90,264.54 179.25,263.44 179.60,262.77 179.95,263.16 180.30,264.24 180.65,264.95 181.00,264.58 181.35,263.23 181.70,262.68 182.05,263.40 182.40,264.61 182.75,265.21 183.10,264.33 183.45,263.11 183.80,262.71 184.15,263.65 184.50,265.05 184.85,265.39 185.20,264.14 185.55,262.82 185.90,262.76 186.25,264.05 186.60,265.33 186.95,265.18 187.30,264.03 187.65,262.98 188.00,263.24 188.35,264.50 188.70,265.52 189.05,265.07 189.40,263.72 189.75,263.03 190.10,263.67 190.45,264.91 190.80,265.54 191.15,264.92 191.50,263.79 191.85,263.29 192.20,263.94 192.55,265.05 192.90,265.41 193.25,264.61 193.60,263.66 193.95,263.76 194.30,264.33 194.65,265.02 195.00,265.22 195.35,264.47 195.70,263.75 196.05,263.86 196.40,264.70 196.75,265.17 197.10,265.08 197.45,264.34 197.80,263.82 198.15,264.00 198.50,264.84 198.85,265.26 199.20,265.14 199.55,264.33 199.90,263.86 200.25,264.22 200.60,265.08 200.95,265.43 201.30,265.07 201.65,264.08 202.00,263.67 202.35,264.35 202.70,265.48 203.05,265.74 203.40,264.83 203.75,263.58 204.10,263.51 204.45,264.54 204.80,265.85 205.15,265.74 205.50,264.33 205.85,263.25 206.20,263.62 206.55,264.94 206.90,266.09 207.25,265.71 207.60,264.16 207.95,263.08 208.30,263.80 208.65,265.42 209.00,266.12 209.35,265.38 209.70,263.71 210.05,263.05 210.40,264.20 210.75,265.56 211.10,266.13 211.45,265.02 211.80,263.46 212.15,263.30 212.50,264.56 212.85,265.87 213.20,265.92 213.55,264.61 213.90,263.46 214.25,263.62 214.60,264.85 214.95,265.65 215.30,265.45 215.65,264.28 216.00,263.65 216.35,263.81 216.70,265.13 217.05,265.57 217.40,265.14 217.75,264.21 218.10,263.77 218.45,264.25 218.80,265.18 219.15,265.46 219.50,265.12 219.85,264.27 220.20,263.91 220.55,264.64 220.90,265.39 221.25,265.60 221.60,265.03 221.95,264.05 222.30,264.20 222.65,264.95 223.00,265.65 223.35,265.58 223.70,264.74 224.05,263.97 224.40,264.35 224.75,265.42 225.10,266.18 225.45,265.80 225.80,264.74 226.15,264.05 226.50,264.60 226.85,266.09 227.20,266.76 227.55,266.17 227.90,264.70 228.25,264.35 228.60,265.32 228.95,266.92 229.30,267.48 229.65,266.44 230.00,265.02 230.35,265.06 230.70,266.35 231.05,268.37 231.40,268.45 231.75,267.26 232.10,266.04 232.45,266.38 232.80,268.40 233.15,270.08 233.50,269.84 233.85,268.53 234.20,267.84 234.55,268.84 234.90,271.05 235.25,272.70 235.60,272.59 235.95,271.48 236.30,271.30 236.65,272.98 237.00,275.58 237.35,277.10 237.70,277.34 238.05,277.05 238.40,278.12 238.75,280.77 239.10,284.14 239.45,286.42 239.60,287.27 239.65,287.34 239.70,287.59 239.75,287.77 239.80,288.01 239.85,288.29 239.90,288.60 239.95,288.82 240.00,288.98 240.05,289.46 240.10,289.62 240.15,290.06 240.20,290.68 240.25,291.12 240.30,291.56 240.35,292.39 240.40,292.81 240.45,293.62 240.50,294.30 240.55,295.30 240.60,295.99 240.65,297.08 240.70,298.00 240.75,298.94 240.80,300.04 240.85,301.28 240.90,302.54 240.95,303.81 241.00,305.21 241.05,306.71 241.10,308.29 241.15,309.94 241.20,311.76 241.25,313.85 241.30,316.37 241.35,319.03 241.40,322.61 241.45,326.86 241.50,333.04 241.55,343.63 241.60,391.50 241.65,343.44 241.70,332.55 241.75,326.33 241.80,321.68 241.85,318.06 241.90,315.11 241.95,312.72 242.00,310.46 242.05,308.40 242.10,306.74 242.15,305.07 242.20,303.65 242.25,302.41 242.30,301.36 242.35,300.19 242.40,299.08 242.45,298.36 242.50,297.60 242.55,296.66 242.60,296.08 242.65,295.50 242.70,294.82 242.75,294.17 242.80,293.76 242.85,293.39 242.90,293.00 242.95,292.45 243.00,292.08 243.05,291.47 243.10,291.10 243.15,290.67 243.20,290.29 243.25,290.07 243.30,289.56 243.35,289.16 243.40,288.74 243.45,288.29 243.50,287.94 243.55,287.50 243.60,287.06 243.65,286.40 244.00,283.27 244.35,280.51 244.70,279.27 245.05,278.81 245.40,277.78 245.75,276.30 246.10,274.23 246.45,272.70 246.80,272.60 247.15,272.68 247.50,272.40 247.85,271.10 248.20,269.14 248.55,268.37 248.90,269.00 249.25,269.61 249.60,269.27 249.95,267.89 250.30,266.14 250.65,265.99 251.00,266.99 251.35,268.12 251.70,267.43 252.05,265.69 252.40,264.07 252.75,264.67 253.10,266.21 253.45,267.01 253.80,265.90 254.15,264.07 254.50,262.83 254.85,263.69 255.20,265.55 255.55,266.24 255.90,264.75 256.25,262.89 256.60,262.22 256.95,263.40 257.30,265.38 257.65,265.55 258.00,263.90 258.35,261.96 258.70,261.74 259.05,263.59 259.40,264.97 259.75,264.58 260.10,263.07 260.45,261.54 260.80,261.96 261.15,263.48 261.50,264.41 261.85,263.79 262.20,262.36 262.55,261.49 262.90,262.05 263.25,263.31 263.60,264.14 263.95,263.31 264.30,261.94 264.65,261.28 265.00,262.28 265.35,263.44 265.70,263.62 266.05,262.69 266.40,261.72 266.75,261.38 267.10,262.42 267.45,263.22 267.80,263.26 268.15,262.15 268.50,261.23 268.85,261.48 269.20,262.45 269.55,263.24 269.90,262.92 270.25,261.99 270.60,261.23 270.95,261.51 271.30,262.56 271.65,263.35 272.00,262.85 272.35,261.40 272.70,260.57 273.05,261.30 273.40,262.96 273.75,263.55 274.10,262.39 274.45,260.75 274.80,260.52 275.15,261.60 275.50,263.32 275.85,263.37 276.20,261.87 276.55,260.39 276.90,260.08 277.25,262.06 277.60,263.70 277.95,263.26 278.30,261.52 278.65,259.70 279.00,260.28 279.35,262.32 279.70,263.67 280.05,262.98 280.40,260.95 280.75,259.66 281.10,260.66 281.45,262.85 281.80,263.81 282.15,262.47 282.50,260.46 282.85,259.84 283.20,260.94 283.55,262.93 283.90,263.30 284.25,261.94 284.60,260.24 284.95,259.87 285.30,261.40 285.65,262.97 286.00,262.93 286.35,261.52 286.70,260.23 287.05,260.52 287.40,261.79 287.75,262.84 288.10,262.58 288.45,260.97 288.80,260.09 289.15,260.77 289.50,262.08 289.85,262.78 290.20,262.01 290.55,260.77 290.90,260.34 291.25,260.87 291.60,262.18 291.95,262.55 292.30,261.83 292.65,260.78 293.00,260.49 293.35,261.03 293.70,262.40 294.05,262.58 294.40,261.38 294.75,260.35 295.10,260.23 295.45,261.57 295.80,262.72 296.15,262.44 296.50,260.89 296.85,259.98 297.20,260.32 297.55,261.67 297.90,262.83 298.25,262.34 298.60,260.47 298.95,259.50 299.30,260.38 299.65,262.31 300.00,263.30 300.35,262.05 300.70,259.88 301.05,259.05 301.40,260.53 301.75,262.87 302.10,263.25 302.45,261.71 302.80,259.57 303.15,259.16 303.50,260.88 303.85,263.18 304.20,263.07 304.55,260.94 304.90,259.06 305.25,259.52 305.60,261.51 305.95,263.21 306.30,262.78 306.65,260.65 307.00,259.22 307.35,259.79 307.70,261.82 308.05,263.30 308.40,262.16 308.75,260.02 309.10,259.14 309.45,260.28 309.80,262.31 310.15,262.82 310.50,261.75 310.85,260.00 311.20,259.53 311.55,260.91 311.90,262.05 312.25,262.45 312.60,261.15 312.95,259.91 313.30,259.95 313.65,261.06 314.00,262.19 314.35,261.90 314.70,260.80 315.05,259.74 315.40,260.08 315.75,261.26 316.10,262.04 316.45,261.71 316.80,260.56 317.15,259.93 317.50,260.49 317.85,261.70 318.20,262.24 318.55,261.58 318.90,260.33 319.25,259.70 319.60,260.58 319.95,262.24 320.30,262.39 320.65,261.38 321.00,259.83 321.35,259.27 321.70,260.95 322.05,262.75 322.40,262.83 322.75,260.89 323.10,259.00 323.45,259.48 323.80,261.51 324.15,263.02 324.50,262.57 324.85,260.26 325.20,258.98 325.55,259.51 325.90,261.90 326.25,263.55 326.60,262.22 326.95,259.98 327.30,258.78 327.65,259.99 328.00,262.80 328.35,263.61 328.70,261.94 329.05,259.59 329.40,258.75 329.75,260.97 330.10,262.90 330.45,263.39 330.80,261.29 331.15,259.40 331.50,259.50 331.85,261.40 332.20,263.04 332.55,262.84 332.90,261.06 333.25,259.45 333.60,259.99 333.95,261.74 334.30,263.16 334.65,262.27 335.00,260.74 335.35,259.65 335.70,260.65 336.05,262.36 336.40,262.86 336.75,261.90 337.10,260.80 337.45,260.26 337.80,261.20 338.15,262.35 338.50,262.65 338.85,261.93 339.20,260.56" stroke="#3c9aa8"/>
<path d="M39.60,250.25 39.95,250.39 40.30,250.29 40.65,250.16 41.00,250.20 41.35,250.49 41.70,250.80 42.05,250.87 42.40,250.68 42.75,250.54 43.10,250.63 43.45,250.98 43.80,251.27 44.15,251.26 44.50,251.04 44.85,250.89 45.20,251.05 45.55,251.47 45.90,251.74 46.25,251.60 46.60,251.29 46.95,251.19 47.30,251.49 47.65,251.89 48.00,252.08 48.35,251.83 48.70,251.57 49.05,251.52 49.40,251.85 49.75,252.22 50.10,252.30 50.45,252.04 50.80,251.81 51.15,251.90 51.50,252.26 51.85,252.54 52.20,252.51 52.55,252.32 52.90,252.12 53.25,252.27 53.60,252.64 53.95,252.86 54.30,252.78 54.65,252.60 55.00,252.53 55.35,252.72 55.70,253.06 56.05,253.19 56.40,253.13 56.75,252.99 57.10,253.01 57.45,253.21 57.80,253.51 58.15,253.66 58.50,253.60 58.85,253.47 59.20,253.54 59.55,253.83 59.90,254.08 60.25,254.18 60.60,254.07 60.95,253.90 61.30,254.04 61.65,254.37 62.00,254.67 62.35,254.69 62.70,254.50 63.05,254.34 63.40,254.60 63.75,254.99 64.10,255.25 64.45,255.19 64.80,254.85 65.15,254.80 65.50,255.09 65.85,255.60 66.20,255.81 66.55,255.56 66.90,255.23 67.25,255.18 67.60,255.58 67.95,256.15 68.30,256.29 68.65,255.86 69.00,255.51 69.35,255.64 69.70,256.14 70.05,256.68 70.40,256.66 70.75,256.17 71.10,255.85 71.45,256.09 71.80,256.69 72.15,257.10 72.50,256.96 72.85,256.53 73.20,256.26 73.55,256.60 73.90,257.21 74.25,257.50 74.60,257.24 74.95,256.85 75.30,256.79 75.65,257.15 76.00,257.66 76.35,257.88 76.70,257.61 77.05,257.25 77.40,257.29 77.75,257.73 78.10,258.17 78.45,258.24 78.80,257.91 79.15,257.70 79.50,257.86 79.85,258.26 80.20,258.55 80.55,258.57 80.90,258.29 81.25,258.23 81.60,258.45 81.95,258.77 82.30,259.02 82.65,258.92 83.00,258.74 83.35,258.65 83.70,258.88 84.05,259.34 84.40,259.50 84.75,259.29 85.10,258.96 85.45,258.96 85.80,259.35 86.15,259.79 86.50,259.89 86.85,259.56 87.20,259.19 87.55,259.37 87.90,259.78 88.25,260.27 88.60,260.34 88.95,259.86 89.30,259.51 89.65,259.74 90.00,260.39 90.35,260.85 90.70,260.61 91.05,260.06 91.40,259.80 91.75,260.12 92.10,260.86 92.45,261.28 92.80,260.85 93.15,260.21 93.50,260.07 93.85,260.68 94.20,261.35 94.55,261.52 94.90,261.00 95.25,260.37 95.60,260.46 95.95,261.03 96.30,261.78 96.65,261.74 97.00,261.11 97.35,260.60 97.70,260.77 98.05,261.39 98.40,261.88 98.75,261.70 99.10,261.12 99.45,260.79 99.80,261.11 100.15,261.63 100.50,261.88 100.85,261.69 101.20,261.08 101.55,261.01 101.90,261.29 102.25,261.73 102.60,261.88 102.95,261.57 103.30,261.20 103.65,261.14 104.00,261.50 104.35,261.83 104.70,261.94 105.05,261.59 105.40,261.17 105.75,261.24 106.10,261.68 106.45,261.96 106.80,261.83 107.15,261.49 107.50,261.22 107.85,261.37 108.20,261.78 108.55,262.11 108.90,261.93 109.25,261.47 109.60,261.13 109.95,261.38 110.30,261.97 110.65,262.21 111.00,261.91 111.35,261.22 111.70,261.12 112.05,261.49 112.40,262.27 112.75,262.33 113.10,261.75 113.45,261.11 113.80,261.11 114.15,261.78 114.50,262.37 114.85,262.33 115.20,261.68 115.55,260.99 115.90,261.08 116.25,261.92 116.60,262.67 116.95,262.34 117.30,261.49 117.65,260.95 118.00,261.25 118.35,262.19 118.70,262.70 119.05,262.14 119.40,261.30 119.75,260.95 120.10,261.51 120.45,262.39 120.80,262.54 121.15,261.99 121.50,261.11 121.85,261.01 122.20,261.68 122.55,262.34 122.90,262.44 123.25,261.83 123.60,261.13 123.95,261.28 124.30,261.78 124.65,262.29 125.00,262.23 125.35,261.67 125.70,261.11 126.05,261.41 126.40,261.87 126.75,262.28 127.10,261.97 127.45,261.43 127.80,261.28 128.15,261.52 128.50,262.01 128.85,262.25 129.20,261.81 129.55,261.43 129.90,261.27 130.25,261.64 130.60,262.13 130.95,262.11 131.30,261.79 131.65,261.23 132.00,261.26 132.35,261.63 132.70,262.14 133.05,262.08 133.40,261.65 133.75,261.03 134.10,261.13 134.45,261.85 134.80,262.31 135.15,262.16 135.50,261.35 135.85,260.80 136.20,261.13 136.55,262.06 136.90,262.53 137.25,261.96 137.60,261.14 137.95,260.71 138.30,261.31 138.65,262.30 139.00,262.57 139.35,261.91 139.70,260.85 140.05,260.63 140.40,261.45 140.75,262.50 141.10,262.60 141.45,261.64 141.80,260.73 142.15,260.83 142.50,261.81 142.85,262.64 143.20,262.33 143.55,261.33 143.90,260.57 144.25,260.99 144.60,262.07 144.95,262.61 145.30,262.15 145.65,261.13 146.00,260.80 146.35,261.23 146.70,262.10 147.05,262.54 147.40,261.96 147.75,261.22 148.10,260.92 148.45,261.62 148.80,262.22 149.15,262.33 149.50,261.73 149.85,261.11 150.20,261.25 150.55,261.69 150.90,262.27 151.25,262.17 151.60,261.61 151.95,261.23 152.30,261.29 152.65,262.00 153.00,262.27 153.35,262.15 153.70,261.54 154.05,261.23 154.40,261.49 154.75,262.18 155.10,262.41 155.45,262.13 155.80,261.54 156.15,261.16 156.50,261.64 156.85,262.39 157.20,262.55 157.55,262.08 157.90,261.28 158.25,261.16 158.60,261.88 158.95,262.70 159.30,262.72 159.65,261.99 160.00,261.16 160.35,261.21 160.70,262.09 161.05,263.04 161.40,262.74 161.75,261.75 162.10,260.84 162.45,261.38 162.80,262.42 163.15,263.17 163.50,262.66 163.85,261.46 164.20,260.91 164.55,261.48 164.90,262.91 165.25,263.32 165.60,262.57 165.95,261.40 166.30,261.01 166.65,261.97 167.00,263.08 167.35,263.39 167.70,262.27 168.05,261.36 168.40,261.34 168.75,262.29 169.10,263.20 169.45,263.15 169.80,262.23 170.15,261.28 170.50,261.59 170.85,262.73 171.20,263.39 171.55,263.01 171.90,262.07 172.25,261.55 172.60,261.92 172.95,262.84 173.30,263.17 173.65,262.85 174.00,262.10 174.35,261.77 174.70,262.22 175.05,263.05 175.40,263.32 175.75,262.75 176.10,262.15 176.45,261.92 176.80,262.61 177.15,263.21 177.50,263.22 177.85,262.74 178.20,262.16 178.55,262.14 178.90,262.88 179.25,263.52 179.60,263.24 179.95,262.49 180.30,261.96 180.65,262.34 181.00,263.06 181.35,263.58 181.70,263.40 182.05,262.33 182.40,261.97 182.75,262.51 183.10,263.54 183.45,263.86 183.80,263.28 184.15,262.12 184.50,261.72 184.85,262.74 185.20,263.98 185.55,264.25 185.90,263.17 186.25,261.88 186.60,261.79 186.95,263.00 187.30,264.36 187.65,264.16 188.00,262.92 188.35,261.77 188.70,262.22 189.05,263.44 189.40,264.48 189.75,264.01 190.10,262.61 190.45,261.84 190.80,262.40 191.15,263.92 191.50,264.56 191.85,263.88 192.20,262.56 192.55,261.97 192.90,262.95 193.25,264.27 193.60,264.52 193.95,263.59 194.30,262.54 194.65,262.43 195.00,263.24 195.35,264.27 195.70,264.26 196.05,263.30 196.40,262.65 196.75,262.67 197.10,263.45 197.45,264.30 197.80,263.99 198.15,263.28 198.50,262.68 198.85,262.96 199.20,263.82 199.55,264.27 199.90,263.89 200.25,263.08 200.60,262.72 200.95,263.13 201.30,263.97 201.65,264.19 202.00,263.62 202.35,262.89 202.70,262.69 203.05,263.19 203.40,264.07 203.75,264.23 204.10,263.53 204.45,262.50 204.80,262.66 205.15,263.34 205.50,264.38 205.85,264.14 206.20,263.30 206.55,262.22 206.90,262.51 207.25,263.67 207.60,264.68 207.95,264.17 208.30,262.81 208.65,261.92 209.00,262.50 209.35,263.90 209.70,264.79 210.05,264.00 210.40,262.40 210.75,261.61 211.10,262.73 211.45,264.26 211.80,264.58 212.15,263.40 212.50,261.90 212.85,261.62 213.20,263.11 213.55,264.39 213.90,264.55 214.25,262.91 214.60,261.58 214.95,261.83 215.30,263.37 215.65,264.55 216.00,264.06 216.35,262.67 216.70,261.65 217.05,262.22 217.40,263.61 217.75,264.17 218.10,263.52 218.45,262.27 218.80,261.68 219.15,262.33 219.50,263.54 219.85,263.90 220.20,263.28 220.55,262.22 220.90,261.81 221.25,262.60 221.60,263.57 221.95,263.51 222.30,262.80 222.65,261.94 223.00,261.82 223.35,262.72 223.70,263.30 224.05,263.27 224.40,262.39 224.75,261.68 225.10,261.92 225.45,262.74 225.80,263.23 226.15,262.92 226.50,262.01 226.85,261.39 227.20,261.91 227.55,262.82 227.90,263.22 228.25,262.64 228.60,261.44 228.95,261.20 229.30,261.91 229.65,263.08 230.00,263.19 230.35,262.20 230.70,261.06 231.05,260.88 231.40,261.95 231.75,263.13 232.10,263.13 232.45,261.78 232.80,260.32 233.15,260.52 233.50,262.27 233.85,263.49 234.20,262.89 234.55,261.17 234.90,259.93 235.25,260.62 235.60,262.31 235.95,263.59 236.30,262.61 236.65,260.86 237.00,259.73 237.35,260.80 237.70,262.65 238.05,263.29 238.40,262.08 238.75,260.35 239.10,260.04 239.45,261.39 239.80,262.74 240.15,262.91 240.50,261.72 240.85,260.29 241.20,260.34 241.55,261.59 241.90,262.89 242.25,262.59 242.60,261.45 242.95,260.25 243.30,260.68 243.65,262.00 244.00,262.75 244.35,262.25 244.70,261.16 245.05,260.69 245.40,261.22 245.75,262.30 246.10,262.62 246.45,261.93 246.80,261.22 247.15,260.69 247.50,261.38 247.85,262.49 248.20,262.67 248.55,262.08 248.90,260.97 249.25,260.98 249.60,261.71 249.95,262.76 250.30,262.80 250.65,261.86 251.00,260.90 251.35,261.12 251.70,262.21 252.05,263.24 252.40,263.06 252.75,261.84 253.10,260.81 253.45,261.57 253.80,262.79 254.15,263.78 254.50,263.20 254.85,261.66 255.20,260.97 255.55,261.87 255.90,263.63 256.25,264.28 256.60,263.31 256.95,261.57 257.30,261.35 257.65,262.71 258.00,264.82 258.35,264.90 258.70,263.37 259.05,261.89 259.40,262.14 259.75,264.06 260.10,265.73 260.45,265.81 260.80,264.01 261.15,262.82 261.50,263.53 261.85,265.68 262.20,266.93 262.55,266.52 262.90,265.01 263.25,264.23 263.60,265.67 263.95,267.66 264.30,268.99 264.65,268.26 265.00,267.19 265.35,267.06 265.70,269.00 266.05,271.14 266.40,271.89 266.75,271.57 267.10,271.30 267.45,272.24 267.80,274.32 268.15,276.67 268.50,278.02 268.85,278.36 269.20,279.47 269.55,281.66 269.80,284.05 269.85,284.64 269.90,285.21 269.95,285.71 270.00,286.41 270.05,286.86 270.10,287.56 270.15,288.04 270.20,288.66 270.25,289.11 270.30,289.71 270.35,289.92 270.40,290.45 270.45,291.25 270.50,291.73 270.55,291.97 270.60,292.48 270.65,293.01 270.70,293.52 270.75,294.23 270.80,294.67 270.85,295.30 270.90,296.19 270.95,296.84 271.00,297.62 271.05,298.32 271.10,299.37 271.15,300.50 271.20,301.50 271.25,302.92 271.30,304.26 271.35,305.97 271.40,307.75 271.45,309.81 271.50,312.39 271.55,315.07 271.60,318.55 271.65,323.36 271.70,329.67 271.75,340.30 271.80,372.21 271.85,340.80 271.90,330.26 271.95,324.21 272.00,319.68 272.05,316.44 272.10,313.98 272.15,311.60 272.20,309.50 272.25,307.91 272.30,306.37 272.35,304.94 272.40,303.54 272.45,302.14 272.50,300.90 272.55,299.76 272.60,298.71 272.65,297.94 272.70,296.73 272.75,295.76 272.80,294.99 272.85,294.11 272.90,293.09 272.95,292.31 273.00,291.32 273.05,290.62 273.10,289.99 273.15,289.16 273.20,288.77 273.25,287.99 273.30,287.51 273.35,286.98 273.40,286.41 273.45,285.93 273.50,285.44 273.55,285.22 273.60,284.99 273.65,284.46 273.70,284.22 273.75,283.98 273.80,283.87 274.10,282.95 274.45,281.05 274.80,278.69 275.15,275.80 275.50,274.20 275.85,273.81 276.20,274.11 276.55,273.16 276.90,271.08 277.25,269.14 277.60,268.42 277.95,269.06 278.30,269.79 278.65,269.03 279.00,267.01 279.35,265.26 279.70,265.32 280.05,266.62 280.40,267.72 280.75,266.49 281.10,264.11 281.45,262.77 281.80,263.57 282.15,265.32 282.50,266.15 282.85,264.71 283.20,262.35 283.55,261.47 283.90,262.88 284.25,264.93 284.60,265.05 284.95,263.43 285.30,261.18 285.65,260.89 286.00,262.43 286.35,264.18 286.70,263.93 287.05,262.09 287.40,260.44 287.75,260.77 288.10,262.49 288.45,263.71 288.80,263.08 289.15,261.29 289.50,260.25 289.85,260.84 290.20,262.19 290.55,263.04 290.90,262.35 291.25,260.79 291.60,260.14 291.95,261.03 292.30,262.10 292.65,262.52 293.00,261.61 293.35,260.26 293.70,260.03 294.05,260.92 294.40,261.90 294.75,262.02 295.10,261.23 295.45,259.93 295.80,259.89 296.15,260.95 296.50,262.13 296.85,261.66 297.20,260.57 297.55,259.73 297.90,259.93 298.25,261.22 298.60,261.95 298.95,261.50 299.30,260.05 299.65,259.21 300.00,260.01 300.35,261.71 300.70,262.23 301.05,261.29 301.40,259.51 301.75,258.82 302.10,260.07 302.45,262.07 302.80,262.46 303.15,260.99 303.50,258.79 303.85,258.83 304.20,260.61 304.55,262.20 304.90,262.26 305.25,260.19 305.60,258.22 305.95,258.91 306.30,260.92 306.65,262.70 307.00,261.87 307.35,259.80 307.70,258.25 308.05,258.97 308.40,261.24 308.75,262.55 309.10,261.53 309.45,259.15 309.80,258.21 310.15,259.52 310.50,261.74 310.85,262.28 311.20,260.72 311.55,258.86 311.90,258.41 312.25,259.87 312.60,261.86 312.95,261.74 313.30,260.43 313.65,258.83 314.00,258.76 314.35,260.42 314.70,261.70 315.05,261.36 315.40,260.03 315.75,258.86 316.10,259.35 316.45,260.83 316.80,261.46 317.15,260.87 317.50,259.78 317.85,259.12 318.20,259.73 318.55,260.98 318.90,261.47 319.25,260.58 319.60,259.43 319.95,259.09 320.30,259.83 320.65,260.98 321.00,261.27 321.35,260.21 321.70,259.03 322.05,258.96 322.40,260.09 322.75,261.54 323.10,261.29 323.45,260.19 323.80,258.57 324.15,259.02 324.50,260.45 324.85,261.79 325.20,261.25 325.55,259.48 325.90,258.29 326.25,259.09 326.60,261.24 326.95,262.19 327.30,261.33 327.65,259.01 328.00,258.02 328.35,259.51 328.70,261.75 329.05,262.44 329.40,260.86 329.75,258.52 330.10,258.19 330.45,259.90 330.80,262.35 331.15,262.61 331.50,260.51 331.85,258.14 332.20,258.15 332.55,260.84 332.90,262.52 333.25,262.35 333.60,260.05 333.95,258.20 334.30,259.12 334.65,261.44 335.00,262.56 335.35,261.62 335.70,259.69 336.05,258.54 336.40,259.63 336.75,261.75 337.10,262.62 337.45,261.44 337.80,259.38 338.15,259.13 338.50,260.45 338.85,261.91 339.20,262.09" stroke="#b3b04a"/>
<path d="M39.60,250.38 39.95,250.39 40.30,250.68 40.65,251.00 41.00,251.15 41.35,251.00 41.70,250.80 42.05,250.87 42.40,251.22 42.75,251.57 43.10,251.62 43.45,251.37 43.80,251.19 44.15,251.33 44.50,251.75 44.85,252.05 45.20,251.99 45.55,251.69 45.90,251.57 46.25,251.78 46.60,252.17 46.95,252.39 47.30,252.28 47.65,251.98 48.00,251.92 48.35,252.21 48.70,252.54 49.05,252.68 49.40,252.47 49.75,252.27 50.10,252.29 50.45,252.56 50.80,252.89 51.15,252.92 51.50,252.73 51.85,252.58 52.20,252.70 52.55,252.99 52.90,253.19 53.25,253.22 53.60,253.03 53.95,252.99 54.30,253.10 54.65,253.38 55.00,253.59 55.35,253.54 55.70,253.39 56.05,253.38 56.40,253.54 56.75,253.85 57.10,254.01 57.45,253.99 57.80,253.85 58.15,253.85 58.50,254.15 58.85,254.44 59.20,254.60 59.55,254.48 59.90,254.29 60.25,254.37 60.60,254.72 60.95,255.10 61.30,255.17 61.65,254.91 62.00,254.76 62.35,254.93 62.70,255.36 63.05,255.72 63.40,255.71 63.75,255.37 64.10,255.17 64.45,255.45 64.80,256.04 65.15,256.31 65.50,256.13 65.85,255.73 66.20,255.62 66.55,256.03 66.90,256.59 67.25,256.81 67.60,256.45 67.95,256.02 68.30,256.05 68.65,256.61 69.00,257.09 69.35,257.16 69.70,256.82 70.05,256.45 70.40,256.57 70.75,257.09 71.10,257.52 71.45,257.49 71.80,257.10 72.15,256.85 72.50,257.16 72.85,257.65 73.20,257.99 73.55,257.80 73.90,257.47 74.25,257.41 74.60,257.72 74.95,258.14 75.30,258.31 75.65,258.20 76.00,257.92 76.35,257.92 76.70,258.27 77.05,258.60 77.40,258.72 77.75,258.51 78.10,258.35 78.45,258.44 78.80,258.83 79.15,259.13 79.50,259.18 79.85,258.96 80.20,258.85 80.55,258.93 80.90,259.39 81.25,259.66 81.60,259.57 81.95,259.34 82.30,259.17 82.65,259.48 83.00,259.92 83.35,260.19 83.70,260.03 84.05,259.67 84.40,259.57 84.75,259.90 85.10,260.42 85.45,260.70 85.80,260.32 86.15,259.89 86.50,259.90 86.85,260.48 87.20,261.03 87.55,261.10 87.90,260.61 88.25,260.14 88.60,260.31 88.95,261.00 89.30,261.56 89.65,261.39 90.00,260.85 90.35,260.40 90.70,260.81 91.05,261.52 91.40,261.99 91.75,261.69 92.10,261.07 92.45,260.78 92.80,261.29 93.15,262.10 93.50,262.31 93.85,261.90 94.20,261.35 94.55,261.21 94.90,261.76 95.25,262.46 95.60,262.57 95.95,262.08 96.30,261.57 96.65,261.65 97.00,262.25 97.35,262.69 97.70,262.61 98.05,262.14 98.40,261.83 98.75,261.95 99.10,262.45 99.45,262.81 99.80,262.64 100.15,262.14 100.50,262.01 100.85,262.21 101.20,262.66 101.55,262.81 101.90,262.56 102.25,262.26 102.60,262.14 102.95,262.44 103.30,262.83 103.65,262.88 104.00,262.59 104.35,262.16 104.70,262.19 105.05,262.55 105.40,263.02 105.75,263.00 106.10,262.59 106.45,262.21 106.80,262.21 107.15,262.76 107.50,263.21 107.85,263.04 108.20,262.53 108.55,262.14 108.90,262.32 109.25,263.04 109.60,263.34 109.95,263.07 110.30,262.42 110.65,262.02 111.00,262.42 111.35,263.22 111.70,263.49 112.05,262.94 112.40,262.24 112.75,262.04 113.10,262.67 113.45,263.52 113.80,263.53 114.15,262.87 114.50,262.17 114.85,262.20 115.20,262.96 115.55,263.74 115.90,263.52 116.25,262.64 116.60,262.01 116.95,262.26 117.30,263.21 117.65,263.76 118.00,263.43 118.35,262.49 118.70,262.19 119.05,262.60 119.40,263.29 119.75,263.57 120.10,263.17 120.45,262.52 120.80,262.32 121.15,262.69 121.50,263.34 121.85,263.51 122.20,262.92 122.55,262.46 122.90,262.45 123.25,262.82 123.60,263.43 123.95,263.35 124.30,262.89 124.65,262.40 125.00,262.51 125.35,263.03 125.70,263.32 126.05,263.26 126.40,262.64 126.75,262.35 127.10,262.63 127.45,263.06 127.80,263.38 128.15,263.08 128.50,262.59 128.85,262.37 129.20,262.64 129.55,263.26 129.90,263.31 130.25,262.93 130.60,262.41 130.95,262.21 131.30,262.78 131.65,263.42 132.00,263.45 132.35,262.78 132.70,262.20 133.05,262.08 133.40,262.91 133.75,263.61 134.10,263.43 134.45,262.52 134.80,261.92 135.15,262.15 135.50,263.01 135.85,263.71 136.20,263.35 136.55,262.36 136.90,261.75 137.25,262.25 137.60,263.31 137.95,263.83 138.30,263.21 138.65,261.99 139.00,261.71 139.35,262.43 139.70,263.46 140.05,263.72 140.40,262.94 140.75,261.85 141.10,261.80 141.45,262.81 141.80,263.58 142.15,263.54 142.50,262.74 142.85,261.90 143.20,262.07 143.55,262.97 143.90,263.63 144.25,263.26 144.60,262.47 144.95,262.05 145.30,262.30 145.65,263.05 146.00,263.52 146.35,263.11 146.70,262.50 147.05,262.23 147.40,262.52 147.75,263.14 148.10,263.33 148.45,263.04 148.80,262.37 149.15,262.33 149.50,262.83 149.85,263.25 150.20,263.44 150.55,262.95 150.90,262.40 151.25,262.47 151.60,262.98 151.95,263.43 152.30,263.36 152.65,262.69 153.00,262.30 153.35,262.56 153.70,263.17 154.05,263.74 154.40,263.34 154.75,262.68 155.10,262.19 155.45,262.61 155.80,263.38 156.15,263.93 156.50,263.37 156.85,262.43 157.20,262.09 157.55,262.81 157.90,263.70 158.25,263.94 158.60,263.10 158.95,262.14 159.30,262.03 159.65,263.07 160.00,264.16 160.35,264.12 160.70,263.03 161.05,261.95 161.40,262.19 161.75,263.51 162.10,264.37 162.45,264.05 162.80,262.73 163.15,262.01 163.50,262.51 163.85,263.79 164.20,264.42 164.55,263.78 164.90,262.53 165.25,262.21 165.60,262.82 165.95,264.00 166.30,264.29 166.65,263.63 167.00,262.60 167.35,262.32 167.70,263.15 168.05,264.20 168.40,264.22 168.75,263.43 169.10,262.68 169.45,262.64 169.80,263.54 170.15,264.22 170.50,263.97 170.85,263.28 171.20,262.71 171.55,263.02 171.90,263.80 172.25,264.31 172.60,263.95 172.95,263.27 173.30,262.92 173.65,263.24 174.00,264.03 174.35,264.28 174.70,263.82 175.05,263.13 175.40,262.96 175.75,263.59 176.10,264.18 176.45,264.38 176.80,263.87 177.15,263.12 177.50,263.01 177.85,263.73 178.20,264.62 178.55,264.54 178.90,263.68 179.25,263.03 179.60,263.08 179.95,264.06 180.30,264.88 180.65,264.51 181.00,263.55 181.35,262.84 181.70,263.18 182.05,264.50 182.40,265.31 182.75,264.57 183.10,263.30 183.45,262.65 183.80,263.46 184.15,265.02 184.50,265.33 184.85,264.31 185.20,263.13 185.55,262.82 185.90,264.07 186.25,265.32 186.60,265.36 186.95,264.10 187.30,263.00 187.65,263.04 188.00,264.38 188.35,265.52 188.70,265.22 189.05,263.86 189.40,262.96 189.75,263.49 190.10,264.69 190.45,265.52 190.80,264.99 191.15,263.87 191.50,263.25 191.85,263.99 192.20,264.91 192.55,265.43 192.90,264.78 193.25,263.70 193.60,263.50 193.95,264.26 194.30,265.03 194.65,265.23 195.00,264.48 195.35,263.87 195.70,263.74 196.05,264.41 196.40,265.21 196.75,265.07 197.10,264.31 197.45,263.81 197.80,263.93 198.15,264.82 198.50,265.37 198.85,264.97 199.20,264.20 199.55,263.85 199.90,264.03 200.25,265.04 200.60,265.32 200.95,264.84 201.30,264.01 201.65,263.66 202.00,264.15 202.35,265.13 202.70,265.63 203.05,264.78 203.40,263.64 203.75,263.39 204.10,264.51 204.45,265.46 204.80,265.58 205.15,264.39 205.50,263.38 205.85,263.39 206.20,264.63 206.55,265.71 206.90,265.54 207.25,263.94 207.60,262.95 207.95,263.33 208.30,264.86 208.65,266.04 209.00,265.31 209.35,263.65 209.70,262.77 210.05,263.59 210.40,265.23 210.75,265.90 211.10,264.90 211.45,263.26 211.80,262.68 212.15,264.01 212.50,265.46 212.85,265.57 213.20,264.44 213.55,262.95 213.90,262.99 214.25,264.31 214.60,265.33 214.95,265.11 215.30,263.92 215.65,263.05 216.00,263.13 216.35,264.48 216.70,265.25 217.05,264.79 217.40,263.54 217.75,263.01 218.10,263.43 218.45,264.48 218.80,264.92 219.15,264.36 219.50,263.50 219.85,263.04 220.20,263.67 220.55,264.34 220.90,264.59 221.25,264.10 221.60,263.07 221.95,263.13 222.30,263.58 222.65,264.48 223.00,264.39 223.35,263.67 223.70,262.87 224.05,262.93 224.40,263.74 224.75,264.52 225.10,264.41 225.45,263.25 225.80,262.43 226.15,262.64 226.50,263.97 226.85,264.69 227.20,264.16 227.55,262.72 227.90,261.98 228.25,262.70 228.60,264.19 228.95,264.53 229.30,263.78 229.65,262.03 230.00,261.67 230.35,262.74 230.70,264.32 231.05,264.53 231.40,263.23 231.75,261.59 232.10,261.53 232.45,262.88 232.80,264.55 233.15,264.17 233.50,262.58 233.85,261.21 234.20,261.37 234.55,263.11 234.90,264.47 235.25,263.81 235.60,261.90 235.95,261.00 236.30,261.63 236.65,263.34 237.00,264.10 237.35,263.25 237.70,261.59 238.05,260.91 238.40,262.12 238.75,263.42 239.10,263.75 239.45,262.83 239.80,261.48 240.15,261.34 240.50,262.24 240.85,263.32 241.20,263.32 241.55,262.36 241.90,261.32 242.25,261.44 242.60,262.46 242.95,263.41 243.30,263.13 243.65,261.98 244.00,261.50 244.35,261.71 244.70,262.56 245.05,263.29 245.40,262.83 245.75,261.89 246.10,261.36 246.45,261.94 246.80,262.97 247.15,263.14 247.50,262.65 247.85,261.44 248.20,261.28 248.55,262.18 248.90,263.26 249.25,263.40 249.60,262.23 249.95,261.23 250.30,261.26 250.65,262.38 251.00,263.57 251.35,263.41 251.70,262.14 252.05,260.87 252.40,261.25 252.75,262.78 253.10,263.90 253.45,263.26 253.80,261.70 254.15,260.61 254.50,261.42 254.85,263.23 255.20,264.01 255.55,262.92 255.90,261.13 256.25,260.26 256.60,261.73 256.95,263.65 257.30,264.20 257.65,262.64 258.00,260.87 258.35,260.41 258.70,262.04 259.05,263.80 259.40,263.83 259.75,262.24 260.10,260.70 260.45,260.83 260.80,262.61 261.15,263.86 261.50,263.56 261.85,261.79 262.20,260.63 262.55,261.28 262.90,262.94 263.25,263.79 263.60,263.09 263.95,261.66 264.30,260.89 264.65,261.90 265.00,263.02 265.35,263.58 265.70,262.66 266.05,261.46 266.40,261.29 266.75,262.22 267.10,263.13 267.45,263.35 267.80,262.40 268.15,261.42 268.50,261.55 268.85,262.41 269.20,263.27 269.55,263.19 269.90,262.29 270.25,261.50 270.60,261.54 270.95,262.85 271.30,263.66 271.65,263.33 272.00,261.85 272.35,261.34 272.70,261.77 273.05,263.23 273.40,263.83 273.75,263.10 274.10,261.74 274.45,261.14 274.80,262.00 275.15,263.68 275.50,264.34 275.85,262.87 276.20,261.35 276.55,261.24 276.90,262.61 277.25,264.26 277.60,264.41 277.95,262.80 278.30,261.04 278.65,261.45 279.00,263.43 279.35,265.09 279.70,264.48 280.05,262.43 280.40,261.07 280.75,261.81 281.10,264.16 281.45,265.19 281.80,264.51 282.15,262.33 282.50,261.34 282.85,262.80 283.20,264.65 283.55,265.75 283.90,264.24 284.25,262.61 284.60,262.12 284.95,263.53 285.30,265.47 285.65,265.90 286.00,264.29 286.35,263.15 286.70,263.32 287.05,264.81 287.40,266.19 287.75,266.22 288.10,264.93 288.45,264.05 288.80,264.73 289.15,266.19 289.50,267.34 289.85,266.86 290.20,265.96 290.55,265.74 290.90,266.50 291.25,268.06 291.60,268.79 291.95,268.39 292.30,267.92 292.65,267.82 293.00,269.18 293.35,270.76 293.70,271.57 294.05,271.31 294.40,270.84 294.75,271.39 295.10,273.19 295.45,275.11 295.80,276.07 296.15,276.17 296.50,276.05 296.85,277.40 297.20,280.23 297.55,283.29 297.90,284.91 298.25,285.37 298.40,285.71 298.45,286.18 298.50,286.38 298.55,286.53 298.60,287.07 298.65,287.41 298.70,287.82 298.75,288.34 298.80,288.82 298.85,289.45 298.90,290.21 298.95,290.73 299.00,291.56 299.05,292.27 299.10,293.35 299.15,293.92 299.20,294.99 299.25,295.82 299.30,296.82 299.35,297.63 299.40,298.60 299.45,299.74 299.50,300.79 299.55,301.93 299.60,302.92 299.65,303.92 299.70,304.77 299.75,306.03 299.80,307.24 299.85,308.25 299.90,309.75 299.95,311.15 300.00,312.63 300.05,314.22 300.10,316.54 300.15,318.98 300.20,322.11 300.25,326.43 300.30,332.28 300.35,342.71 300.40,382.29 300.45,342.19 300.50,331.31 300.55,324.90 300.60,320.36 300.65,316.97 300.70,314.16 300.75,311.87 300.80,309.61 300.85,308.04 300.90,306.71 300.95,305.38 301.00,304.44 301.05,303.18 301.10,302.34 301.15,301.74 301.20,301.09 301.25,300.59 301.30,299.75 301.35,299.46 301.40,298.84 301.45,298.17 301.50,297.67 301.55,297.45 301.60,296.84 301.65,296.13 301.70,295.54 301.75,295.08 301.80,294.36 301.85,293.74 301.90,292.89 301.95,292.17 302.00,291.42 302.05,290.74 302.10,290.00 302.15,289.22 302.20,288.66 302.25,287.73 302.30,287.05 302.35,286.36 302.40,285.75 302.45,285.12 302.80,282.16 303.15,281.71 303.50,282.11 303.85,281.05 304.20,277.71 304.55,274.31 304.90,273.41 305.25,274.27 305.60,275.46 305.95,274.48 306.30,271.46 306.65,268.99 307.00,268.82 307.35,270.64 307.70,271.51 308.05,270.17 308.40,267.74 308.75,266.23 309.10,266.54 309.45,268.41 309.80,268.67 310.15,267.21 310.50,265.12 310.85,264.60 311.20,265.33 311.55,266.87 311.90,266.93 312.25,265.47 312.60,263.82 312.95,263.55 313.30,264.66 313.65,265.58 314.00,265.30 314.35,264.11 314.70,262.80 315.05,263.01 315.40,263.89 315.75,264.72 316.10,264.38 316.45,263.14 316.80,262.25 317.15,262.64 317.50,263.88 317.85,264.34 318.20,263.58 318.55,262.30 318.90,261.56 319.25,262.11 319.60,263.74 319.95,264.17 320.30,262.94 320.65,261.38 321.00,261.15 321.35,262.27 321.70,263.82 322.05,264.14 322.40,262.36 322.75,260.59 323.10,260.84 323.45,262.41 323.80,264.36 324.15,263.88 324.50,261.97 324.85,260.00 325.20,260.75 325.55,263.05 325.90,264.36 326.25,263.71 326.60,261.12 326.95,259.84 327.30,260.81 327.65,263.47 328.00,264.53 328.35,262.92 328.70,260.45 329.05,259.53 329.40,261.21 329.75,263.88 330.10,264.36 330.45,262.51 330.80,260.01 331.15,259.88 331.50,262.02 331.85,264.02 332.20,263.98 332.55,261.84 332.90,260.21 333.25,260.49 333.60,262.39 333.95,263.75 334.30,263.28 334.65,261.47 335.00,260.41 335.35,260.95 335.70,262.88 336.05,263.73 336.40,262.89 336.75,261.07 337.10,260.78 337.45,261.41 337.80,262.81 338.15,263.24 338.50,262.30 338.85,261.10 339.20,261.06" stroke="#33b6d0"/>
<path d="M39.60,249.07 39.95,249.34 40.30,249.63 40.65,249.63 41.00,249.45 41.35,249.34 41.70,249.51 42.05,249.88 42.40,250.11 42.75,250.02 43.10,249.82 43.45,249.72 43.80,249.93 44.15,250.34 44.50,250.54 44.85,250.38 45.20,250.07 45.55,250.06 45.90,250.37 46.25,250.74 46.60,250.83 46.95,250.61 47.30,250.36 47.65,250.37 48.00,250.77 48.35,251.10 48.70,251.10 49.05,250.79 49.40,250.59 49.75,250.70 50.10,251.10 50.45,251.36 50.80,251.29 51.15,250.98 51.50,250.84 51.85,251.07 52.20,251.41 52.55,251.61 52.90,251.45 53.25,251.25 53.60,251.22 53.95,251.41 54.30,251.72 54.65,251.84 55.00,251.74 55.35,251.54 55.70,251.59 56.05,251.85 56.40,252.14 56.75,252.16 57.10,252.04 57.45,251.94 57.80,252.02 58.15,252.34 58.50,252.61 58.85,252.65 59.20,252.47 59.55,252.40 59.90,252.57 60.25,252.86 60.60,253.11 60.95,253.13 61.30,252.88 61.65,252.88 62.00,253.08 62.35,253.49 62.70,253.67 63.05,253.52 63.40,253.29 63.75,253.25 64.10,253.65 64.45,254.04 64.80,254.22 65.15,253.93 65.50,253.62 65.85,253.70 66.20,254.11 66.55,254.62 66.90,254.62 67.25,254.25 67.60,253.89 67.95,254.10 68.30,254.69 68.65,255.10 69.00,254.97 69.35,254.48 69.70,254.28 70.05,254.59 70.40,255.14 70.75,255.47 71.10,255.26 71.45,254.77 71.80,254.66 72.15,255.07 72.50,255.63 72.85,255.83 73.20,255.51 73.55,255.10 73.90,255.11 74.25,255.56 74.60,256.01 74.95,256.09 75.30,255.77 75.65,255.52 76.00,255.63 76.35,256.06 76.70,256.45 77.05,256.37 77.40,256.06 77.75,255.95 78.10,256.15 78.45,256.58 78.80,256.81 79.15,256.77 79.50,256.49 79.85,256.36 80.20,256.66 80.55,256.99 80.90,257.23 81.25,257.04 81.60,256.84 81.95,256.87 82.30,257.13 82.65,257.53 83.00,257.57 83.35,257.38 83.70,257.15 84.05,257.17 84.40,257.58 84.75,257.92 85.10,257.96 85.45,257.69 85.80,257.42 86.15,257.51 86.50,258.08 86.85,258.36 87.20,258.35 87.55,257.84 87.90,257.61 88.25,257.93 88.60,258.52 88.95,258.86 89.30,258.61 89.65,258.08 90.00,257.93 90.35,258.34 90.70,259.01 91.05,259.28 91.40,258.78 91.75,258.24 92.10,258.23 92.45,258.80 92.80,259.47 93.15,259.61 93.50,258.93 93.85,258.45 94.20,258.54 94.55,259.32 94.90,259.81 95.25,259.74 95.60,259.10 95.95,258.70 96.30,258.99 96.65,259.71 97.00,260.02 97.35,259.82 97.70,259.18 98.05,258.90 98.40,259.31 98.75,259.85 99.10,260.14 99.45,259.67 99.80,259.18 100.15,259.10 100.50,259.51 100.85,259.95 101.20,260.03 101.55,259.61 101.90,259.20 102.25,259.21 102.60,259.60 102.95,260.01 103.30,259.91 103.65,259.50 104.00,259.25 104.35,259.30 104.70,259.79 105.05,260.01 105.40,259.88 105.75,259.51 106.10,259.21 106.45,259.39 106.80,259.86 107.15,260.09 107.50,259.76 107.85,259.30 108.20,259.18 108.55,259.51 108.90,259.99 109.25,260.12 109.60,259.72 109.95,259.22 110.30,259.11 110.65,259.61 111.00,260.18 111.35,260.20 111.70,259.63 112.05,259.08 112.40,259.13 112.75,259.84 113.10,260.38 113.45,260.24 113.80,259.37 114.15,258.94 114.50,259.13 114.85,260.01 115.20,260.44 115.55,260.03 115.90,259.25 116.25,258.83 116.60,259.25 116.95,260.20 117.30,260.59 117.65,259.94 118.00,259.09 118.35,258.87 118.70,259.60 119.05,260.43 119.40,260.51 119.75,259.71 120.10,258.92 120.45,258.98 120.80,259.72 121.15,260.38 121.50,260.32 121.85,259.49 122.20,258.96 122.55,259.19 122.90,259.83 123.25,260.34 123.60,260.03 123.95,259.34 124.30,259.04 124.65,259.41 125.00,260.02 125.35,260.25 125.70,259.91 126.05,259.32 126.40,259.19 126.75,259.46 127.10,259.96 127.45,260.08 127.80,259.76 128.15,259.27 128.50,259.12 128.85,259.54 129.20,259.99 129.55,259.96 129.90,259.60 130.25,259.17 130.60,259.21 130.95,259.70 131.30,260.12 131.65,260.00 132.00,259.34 132.35,259.04 132.70,259.19 133.05,259.79 133.40,260.27 133.75,259.91 134.10,259.19 134.45,258.86 134.80,259.19 135.15,259.98 135.50,260.38 135.85,259.83 136.20,258.90 136.55,258.70 136.90,259.47 137.25,260.21 137.60,260.31 137.95,259.54 138.30,258.73 138.65,258.73 139.00,259.56 139.35,260.43 139.70,260.32 140.05,259.22 140.40,258.58 140.75,258.77 141.10,259.81 141.45,260.51 141.80,260.21 142.15,259.02 142.50,258.47 142.85,259.00 143.20,260.15 143.55,260.46 143.90,259.83 144.25,258.98 144.60,258.60 144.95,259.29 145.30,260.23 145.65,260.43 146.00,259.73 146.35,258.84 146.70,258.83 147.05,259.57 147.40,260.26 147.75,260.26 148.10,259.45 148.45,258.89 148.80,259.12 149.15,259.79 149.50,260.24 149.85,260.03 150.20,259.35 150.55,258.96 150.90,259.38 151.25,259.85 151.60,260.33 151.95,259.93 152.30,259.31 152.65,259.17 153.00,259.53 153.35,260.15 153.70,260.29 154.05,259.81 154.40,259.37 154.75,259.10 155.10,259.67 155.45,260.20 155.80,260.35 156.15,259.78 156.50,259.17 156.85,259.09 157.20,259.87 157.55,260.50 157.90,260.41 158.25,259.56 158.60,259.00 158.95,259.28 159.30,260.22 159.65,260.79 160.00,260.51 160.35,259.48 160.70,258.84 161.05,259.33 161.40,260.57 161.75,261.07 162.10,260.41 162.45,259.06 162.80,258.69 163.15,259.54 163.50,260.83 163.85,261.14 164.20,260.19 164.55,259.02 164.90,258.85 165.25,259.99 165.60,261.19 165.95,260.98 166.30,259.86 166.65,259.05 167.00,259.27 167.35,260.37 167.70,261.24 168.05,260.83 168.40,259.82 168.75,258.99 169.10,259.59 169.45,260.73 169.80,261.12 170.15,260.63 170.50,259.64 170.85,259.40 171.20,259.84 171.55,260.89 171.90,261.13 172.25,260.44 172.60,259.82 172.95,259.72 173.30,260.24 173.65,260.97 174.00,260.93 174.35,260.31 174.70,259.84 175.05,259.82 175.40,260.63 175.75,261.04 176.10,260.99 176.45,260.38 176.80,259.91 177.15,260.08 177.50,260.78 177.85,261.28 178.20,261.07 178.55,260.35 178.90,259.95 179.25,260.17 179.60,261.08 179.95,261.45 180.30,260.86 180.65,260.17 181.00,259.73 181.35,260.37 181.70,261.43 182.05,261.60 182.40,260.96 182.75,259.89 183.10,259.88 183.45,260.71 183.80,261.71 184.15,261.69 184.50,260.67 184.85,259.59 185.20,259.84 185.55,261.28 185.90,262.21 186.25,261.88 186.60,260.44 186.95,259.59 187.30,260.25 187.65,261.71 188.00,262.46 188.35,261.63 188.70,260.12 189.05,259.58 189.40,260.44 189.75,262.03 190.10,262.46 190.45,261.43 190.80,260.18 191.15,259.85 191.50,261.04 191.85,262.28 192.20,262.18 192.55,261.21 192.90,260.11 193.25,260.22 193.60,261.43 193.95,262.34 194.30,261.93 194.65,260.87 195.00,260.18 195.35,260.60 195.70,261.66 196.05,262.25 196.40,261.77 196.75,260.93 197.10,260.40 197.45,260.78 197.80,261.64 198.15,262.14 198.50,261.63 198.85,260.90 199.20,260.46 199.55,261.01 199.90,261.78 200.25,261.95 200.60,261.37 200.95,260.57 201.30,260.66 201.65,261.30 202.00,261.90 202.35,261.94 202.70,261.21 203.05,260.53 203.40,260.65 203.75,261.41 204.10,262.17 204.45,261.86 204.80,260.79 205.15,260.12 205.50,260.60 205.85,261.87 206.20,262.32 206.55,261.83 206.90,260.55 207.25,260.02 207.60,260.71 207.95,262.03 208.30,262.60 208.65,261.56 209.00,260.04 209.35,259.72 209.70,260.99 210.05,262.24 210.40,262.45 210.75,261.11 211.10,259.57 211.45,259.66 211.80,261.27 212.15,262.53 212.50,262.18 212.85,260.69 213.20,259.32 213.55,259.99 213.90,261.56 214.25,262.37 214.60,261.75 214.95,260.13 215.30,259.48 215.65,260.15 216.00,261.52 216.35,262.05 216.70,261.38 217.05,259.99 217.40,259.60 217.75,260.44 218.10,261.63 218.45,261.80 218.80,260.88 219.15,259.88 219.50,259.74 219.85,260.73 220.20,261.48 220.55,261.28 220.90,260.56 221.25,259.60 221.60,259.77 221.95,260.78 222.30,261.47 222.65,261.07 223.00,260.20 223.35,259.53 223.70,259.80 224.05,260.64 224.40,261.26 224.75,260.77 225.10,259.79 225.45,259.43 225.80,259.86 226.15,260.77 226.50,261.20 226.85,260.41 227.20,259.33 227.55,259.10 227.90,259.84 228.25,261.03 228.60,261.08 228.95,259.92 229.30,258.86 229.65,258.90 230.00,259.86 230.35,261.01 230.70,260.91 231.05,259.27 231.40,258.33 231.75,258.53 232.10,260.27 232.45,261.22 232.80,260.58 233.15,258.80 233.50,257.91 233.85,258.63 234.20,260.31 234.55,261.23 234.90,260.03 235.25,258.06 235.60,257.60 235.95,258.81 236.30,260.67 236.65,261.00 237.00,259.42 237.35,257.78 237.70,257.79 238.05,259.16 238.40,260.58 238.75,260.45 239.10,258.83 239.45,257.54 239.80,257.84 240.15,259.41 240.50,260.57 240.85,259.88 241.20,258.41 241.55,257.59 241.90,258.19 242.25,259.79 242.60,260.15 242.95,259.45 243.30,258.37 243.65,257.98 244.00,258.54 244.35,259.60 244.70,260.00 245.05,259.32 245.40,258.31 245.75,258.12 246.10,258.82 246.45,259.65 246.80,259.88 247.15,259.04 247.50,258.06 247.85,258.19 248.20,259.06 248.55,259.69 248.90,259.76 249.25,258.60 249.60,257.96 249.95,258.22 250.30,259.39 250.65,259.89 251.00,259.53 251.35,258.32 251.70,257.64 252.05,258.35 252.40,259.75 252.75,260.19 253.10,259.43 253.45,257.89 253.80,257.38 254.15,258.41 254.50,260.05 254.85,260.32 255.20,258.98 255.55,257.40 255.90,257.40 256.25,258.92 256.60,260.58 256.95,260.43 257.30,258.45 257.65,257.15 258.00,257.56 258.35,259.17 258.70,260.80 259.05,260.16 259.40,258.16 259.75,256.85 260.10,257.71 260.45,259.80 260.80,260.60 261.15,259.51 261.50,257.65 261.85,257.02 262.20,258.27 262.55,259.87 262.90,260.54 263.25,258.96 263.60,257.47 263.95,257.05 264.30,258.64 264.65,259.97 265.00,260.18 265.35,258.71 265.70,257.33 266.05,257.45 266.40,258.78 266.75,259.79 267.10,259.46 267.45,258.28 267.80,257.52 268.15,258.04 268.50,259.06 268.85,259.67 269.20,259.22 269.55,258.22 269.90,257.57 270.25,258.16 270.60,259.27 270.95,259.74 271.30,258.88 271.65,258.03 272.00,257.78 272.35,258.35 272.70,259.41 273.05,259.45 273.40,258.76 273.75,257.69 274.10,257.47 274.45,258.61 274.80,259.59 275.15,259.51 275.50,258.32 275.85,257.35 276.20,257.54 276.55,258.82 276.90,260.23 277.25,259.51 277.60,257.79 277.95,256.81 278.30,257.64 278.65,259.39 279.00,260.36 279.35,259.39 279.70,257.24 280.05,256.48 280.40,258.00 280.75,260.07 281.10,260.39 281.45,258.94 281.80,256.88 282.15,256.69 282.50,258.19 282.85,260.17 283.20,260.29 283.55,258.26 283.90,256.73 284.25,256.79 284.60,258.98 284.95,260.34 285.30,259.95 285.65,257.83 286.00,256.56 286.35,257.38 286.70,259.31 287.05,260.33 287.40,259.39 287.75,257.42 288.10,256.63 288.45,257.66 288.80,259.35 289.15,260.10 289.50,258.93 289.85,257.53 290.20,257.12 290.55,258.08 290.90,259.61 291.25,259.79 291.60,258.62 291.95,257.58 292.30,257.49 292.65,258.65 293.00,259.54 293.35,259.48 293.70,258.16 294.05,257.39 294.40,257.59 294.75,258.86 295.10,259.54 295.45,259.00 295.80,257.89 296.15,257.37 296.50,257.83 296.85,259.05 297.20,259.83 297.55,258.89 297.90,257.80 298.25,257.21 298.60,258.25 298.95,259.43 299.30,259.87 299.65,258.66 300.00,257.40 300.35,257.20 300.70,258.59 301.05,260.20 301.40,260.00 301.75,258.56 302.10,257.01 302.45,257.07 302.80,259.02 303.15,260.42 303.50,260.29 303.85,257.92 304.20,256.48 304.55,257.16 304.90,259.68 305.25,260.89 305.60,260.08 305.95,257.49 306.30,256.61 306.65,258.00 307.00,260.19 307.35,260.94 307.70,259.46 308.05,257.16 308.40,256.66 308.75,258.44 309.10,260.56 309.45,261.15 309.80,259.23 310.15,257.38 310.50,257.47 310.85,259.07 311.20,261.11 311.55,260.54 311.90,258.98 312.25,257.53 312.60,258.13 312.95,259.84 313.30,261.10 313.65,260.58 314.00,259.06 314.35,257.95 314.70,259.08 315.05,260.40 315.40,261.07 315.75,260.63 316.10,259.34 316.45,258.87 316.80,259.70 317.15,261.27 317.50,261.69 317.85,260.65 318.20,259.55 318.55,259.77 318.90,260.66 319.25,262.28 319.60,262.27 319.95,261.35 320.30,260.31 320.65,260.60 321.00,262.24 321.35,263.46 321.70,263.46 322.05,262.52 322.40,261.50 322.75,262.63 323.10,264.53 323.45,265.65 323.80,265.30 324.15,264.04 324.50,263.73 324.85,265.39 325.20,267.94 325.55,269.43 325.90,268.80 326.25,267.47 326.60,267.57 326.95,270.18 327.30,273.26 327.65,274.78 328.00,274.31 328.35,273.77 328.70,275.22 329.05,279.33 329.40,283.92 329.50,284.89 329.55,284.94 329.60,285.41 329.65,285.83 329.70,285.93 329.75,286.41 329.80,286.52 329.85,286.41 329.90,286.73 329.95,286.75 330.00,286.85 330.05,287.02 330.10,287.29 330.15,287.48 330.20,287.66 330.25,287.83 330.30,288.26 330.35,288.85 330.40,289.17 330.45,289.73 330.50,290.35 330.55,291.17 330.60,292.01 330.65,292.86 330.70,293.97 330.75,295.34 330.80,296.75 330.85,297.89 330.90,299.54 330.95,301.46 331.00,303.12 331.05,305.06 331.10,307.12 331.15,309.80 331.20,312.62 331.25,315.63 331.30,319.48 331.35,323.89 331.40,330.61 331.45,341.07 331.50,378.35 331.55,341.35 331.60,330.53 331.65,324.51 331.70,319.93 331.75,316.36 331.80,313.13 331.85,310.47 331.90,308.22 331.95,305.92 332.00,303.98 332.05,302.12 332.10,300.32 332.15,298.89 332.20,297.30 332.25,295.86 332.30,294.73 332.35,293.50 332.40,292.25 332.45,291.54 332.50,290.62 332.55,289.69 332.60,288.89 332.65,288.54 332.70,287.84 332.75,287.69 332.80,287.28 332.85,286.87 332.90,286.68 332.95,286.47 333.00,286.18 333.05,286.00 333.10,285.96 333.15,285.86 333.20,285.99 333.25,285.54 333.30,285.46 333.35,285.55 333.40,285.21 333.45,285.12 333.50,284.90 333.60,284.01 333.95,280.34 334.30,276.04 334.65,273.80 335.00,273.99 335.35,274.69 335.70,273.95 336.05,271.47 336.40,268.37 336.75,267.63 337.10,268.23 337.45,269.33 337.80,268.47 338.15,266.50 338.50,264.73 338.85,264.35 339.20,265.53" stroke="#8e6262"/>
<path d="M39.60,252.41 39.95,252.48 40.30,252.66 40.65,253.00 41.00,253.32 41.35,253.51 41.70,253.55 42.05,253.68 42.40,253.98 42.75,254.37 43.10,254.73 43.45,254.96 43.80,255.00 44.15,255.23 44.50,255.69 44.85,256.26 45.20,256.68 45.55,256.92 45.90,257.08 46.25,257.48 46.60,258.20 46.95,258.95 47.30,259.54 47.65,259.90 48.00,260.32 48.35,261.11 48.70,262.23 49.05,263.40 49.40,264.28 49.75,265.09 50.10,266.06 50.45,267.53 50.80,269.52 51.15,271.55 51.50,273.50 51.80,275.28 51.85,275.58 51.90,275.91 51.95,276.31 52.00,276.68 52.05,277.07 52.10,277.51 52.15,277.92 52.20,278.37 52.25,278.87 52.30,279.39 52.35,279.91 52.40,280.53 52.45,281.10 52.50,281.74 52.55,282.38 52.60,283.09 52.65,283.76 52.70,284.55 52.75,285.33 52.80,286.10 52.85,286.94 52.90,287.86 52.95,288.79 53.00,289.77 53.05,290.80 53.10,291.87 53.15,293.06 53.20,294.31 53.25,295.63 53.30,297.11 53.35,298.68 53.40,300.46 53.45,302.49 53.50,304.85 53.55,307.62 53.60,311.00 53.65,315.41 53.70,321.56 53.75,332.20 53.80,379.83 53.85,332.11 53.90,321.38 53.95,315.09 54.00,310.64 54.05,307.14 54.10,304.33 54.15,301.98 54.20,299.91 54.25,298.08 54.30,296.51 54.35,295.07 54.40,293.80 54.45,292.59 54.50,291.51 54.55,290.51 54.60,289.58 54.65,288.71 54.70,287.91 54.75,287.15 54.80,286.46 54.85,285.76 54.90,285.08 54.95,284.50 55.00,283.93 55.05,283.35 55.10,282.76 55.15,282.25 55.20,281.71 55.25,281.19 55.30,280.66 55.35,280.12 55.40,279.66 55.45,279.18 55.50,278.70 55.55,278.23 55.60,277.77 55.65,277.30 55.70,276.84 55.75,276.43 55.80,276.02 56.05,274.10 56.40,272.04 56.75,270.70 57.10,269.52 57.45,268.18 57.80,266.73 58.15,265.49 58.50,264.69 58.85,264.21 59.20,263.76 59.55,263.03 59.90,262.19 60.25,261.57 60.60,261.24 60.95,261.14 61.30,260.92 61.65,260.53 62.00,259.94 62.35,259.61 62.70,259.54 63.05,259.59 63.40,259.54 63.75,259.18 64.10,258.85 64.45,258.65 64.80,258.71 65.15,258.91 65.50,258.83 65.85,258.55 66.20,258.24 66.55,258.20 66.90,258.43 67.25,258.56 67.60,258.48 67.95,258.18 68.30,257.90 68.65,257.99 69.00,258.35 69.35,258.59 69.70,258.41 70.05,258.02 70.40,257.83 70.75,258.06 71.10,258.50 71.45,258.71 71.80,258.47 72.15,257.98 72.50,257.83 72.85,258.23 73.20,258.78 73.55,258.96 73.90,258.53 74.25,258.09 74.60,258.11 74.95,258.63 75.30,259.15 75.65,259.12 76.00,258.65 76.35,258.27 76.70,258.40 77.05,259.04 77.40,259.50 77.75,259.39 78.10,258.86 78.45,258.59 78.80,258.86 79.15,259.51 79.50,259.84 79.85,259.60 80.20,259.13 80.55,258.98 80.90,259.37 81.25,259.91 81.60,260.13 81.95,259.81 82.30,259.42 82.65,259.42 83.00,259.86 83.35,260.36 83.70,260.35 84.05,260.06 84.40,259.88 84.75,259.94 85.10,260.34 85.45,260.63 85.80,260.62 86.15,260.37 86.50,260.20 86.85,260.37 87.20,260.77 87.55,260.95 87.90,260.85 88.25,260.64 88.60,260.47 88.95,260.70 89.30,261.19 89.65,261.36 90.00,261.20 90.35,260.82 90.70,260.77 91.05,261.22 91.40,261.66 91.75,261.73 92.10,261.46 92.45,261.08 92.80,261.08 93.15,261.57 93.50,262.06 93.85,262.15 94.20,261.71 94.55,261.22 94.90,261.45 95.25,262.03 95.60,262.49 95.95,262.39 96.30,261.74 96.65,261.40 97.00,261.74 97.35,262.43 97.70,262.80 98.05,262.41 98.40,261.80 98.75,261.42 99.10,261.97 99.45,262.76 99.80,262.97 100.15,262.40 100.50,261.71 100.85,261.63 101.20,262.17 101.55,262.89 101.90,262.93 102.25,262.27 102.60,261.63 102.95,261.82 103.30,262.41 103.65,262.95 104.00,262.87 104.35,262.20 104.70,261.78 105.05,262.05 105.40,262.65 105.75,263.04 106.10,262.68 106.45,262.21 106.80,261.90 107.15,262.22 107.50,262.70 107.85,262.92 108.20,262.65 108.55,262.19 108.90,262.13 109.25,262.48 109.60,262.87 109.95,262.86 110.30,262.63 110.65,262.23 111.00,262.17 111.35,262.59 111.70,262.98 112.05,262.85 112.40,262.57 112.75,262.16 113.10,262.28 113.45,262.74 113.80,263.10 114.15,262.96 114.50,262.43 114.85,262.07 115.20,262.35 115.55,262.87 115.90,263.16 116.25,262.94 116.60,262.22 116.95,262.01 117.30,262.45 117.65,263.12 118.00,263.27 118.35,262.81 118.70,262.13 119.05,261.88 119.40,262.64 119.75,263.39 120.10,263.33 120.45,262.64 120.80,261.90 121.15,261.92 121.50,262.73 121.85,263.51 122.20,263.23 122.55,262.36 122.90,261.72 123.25,262.04 123.60,263.06 123.95,263.60 124.30,263.09 124.65,262.13 125.00,261.77 125.35,262.21 125.70,263.15 126.05,263.46 126.40,262.89 126.75,262.04 127.10,261.81 127.45,262.35 127.80,263.25 128.15,263.24 128.50,262.62 128.85,262.00 129.20,261.89 129.55,262.66 129.90,263.11 130.25,263.10 130.60,262.37 130.95,261.91 131.30,262.12 131.65,262.67 132.00,263.01 132.35,262.92 132.70,262.34 133.05,262.01 133.40,262.18 133.75,262.80 134.10,263.05 134.45,262.69 134.80,262.17 135.15,262.00 135.50,262.31 135.85,262.91 136.20,263.05 136.55,262.65 136.90,262.12 137.25,261.91 137.60,262.34 137.95,263.02 138.30,263.00 138.65,262.51 139.00,261.88 139.35,261.89 139.70,262.55 140.05,263.07 140.40,262.98 140.75,262.31 141.10,261.69 141.45,261.94 141.80,262.82 142.15,263.41 142.50,262.91 142.85,261.99 143.20,261.47 143.55,262.08 143.90,263.15 144.25,263.51 144.60,262.85 144.95,261.75 145.30,261.52 145.65,262.36 146.00,263.33 146.35,263.56 146.70,262.64 147.05,261.63 147.40,261.53 147.75,262.52 148.10,263.46 148.45,263.37 148.80,262.32 149.15,261.47 149.50,261.80 149.85,262.85 150.20,263.53 150.55,263.16 150.90,262.15 151.25,261.59 151.60,262.08 151.95,263.12 152.30,263.53 152.65,262.93 153.00,262.11 153.35,261.74 153.70,262.41 154.05,263.15 154.40,263.43 154.75,262.82 155.10,262.04 155.45,262.10 155.80,262.61 156.15,263.33 156.50,263.22 156.85,262.67 157.20,262.07 157.55,262.18 157.90,262.78 158.25,263.33 158.60,263.13 158.95,262.64 159.30,262.17 159.65,262.41 160.00,263.03 160.35,263.45 160.70,263.17 161.05,262.45 161.40,262.10 161.75,262.52 162.10,263.18 162.45,263.56 162.80,263.15 163.15,262.27 163.50,262.12 163.85,262.64 164.20,263.66 164.55,263.75 164.90,262.94 165.25,262.01 165.60,262.08 165.95,263.05 166.30,263.89 166.65,263.79 167.00,262.71 167.35,261.88 167.70,262.28 168.05,263.30 168.40,264.16 168.75,263.84 169.10,262.54 169.45,261.78 169.80,262.38 170.15,263.75 170.50,264.50 170.85,263.77 171.20,262.41 171.55,261.95 171.90,262.87 172.25,264.07 172.60,264.37 172.95,263.49 173.30,262.26 173.65,262.25 174.00,263.14 174.35,264.36 174.70,264.37 175.05,263.29 175.40,262.29 175.75,262.52 176.10,263.54 176.45,264.29 176.80,264.12 177.15,263.05 177.50,262.44 177.85,262.91 178.20,263.78 178.55,264.24 178.90,263.89 179.25,263.18 179.60,262.73 179.95,263.25 180.30,263.93 180.65,264.33 181.00,263.89 181.35,263.16 181.70,263.02 182.05,263.52 182.40,264.24 182.75,264.30 183.10,263.67 183.45,263.15 183.80,263.09 184.15,263.79 184.50,264.50 184.85,264.29 185.20,263.60 185.55,262.93 185.90,263.11 186.25,264.16 186.60,264.64 186.95,264.39 187.30,263.35 187.65,262.96 188.00,263.28 188.35,264.46 188.70,265.08 189.05,264.37 189.40,263.12 189.75,262.87 190.10,263.64 190.45,264.97 190.80,265.32 191.15,264.14 191.50,262.94 191.85,262.77 192.20,263.88 192.55,265.36 192.90,265.16 193.25,263.91 193.60,262.68 193.95,262.89 194.30,264.42 194.65,265.63 195.00,265.02 195.35,263.65 195.70,262.67 196.05,263.24 196.40,264.81 196.75,265.53 197.10,264.88 197.45,263.52 197.80,262.85 198.15,263.68 198.50,265.04 198.85,265.36 199.20,264.44 199.55,263.31 199.90,263.21 200.25,264.00 200.60,265.04 200.95,265.08 201.30,264.28 201.65,263.39 202.00,263.40 202.35,264.34 202.70,264.94 203.05,264.97 203.40,263.98 203.75,263.27 204.10,263.70 204.45,264.48 204.80,264.80 205.15,264.65 205.50,263.72 205.85,263.45 206.20,263.72 206.55,264.62 206.90,264.92 207.25,264.50 207.60,263.50 207.95,263.25 208.30,263.84 208.65,264.67 209.00,264.81 209.35,264.20 209.70,263.31 210.05,263.20 210.40,263.88 210.75,264.81 211.10,264.91 211.45,263.82 211.80,262.71 212.15,262.97 212.50,264.05 212.85,265.12 213.20,264.73 213.55,263.32 213.90,262.39 214.25,262.92 214.60,264.46 214.95,265.36 215.30,264.50 215.65,262.84 216.00,262.19 216.35,263.02 216.70,264.70 217.05,265.35 217.40,264.06 217.75,262.43 218.10,262.11 218.45,263.42 218.80,264.76 219.15,265.00 219.50,263.54 219.85,262.26 220.20,262.12 220.55,263.72 220.90,264.90 221.25,264.65 221.60,263.15 221.95,261.92 222.30,262.48 222.65,263.69 223.00,264.58 223.35,264.09 223.70,262.61 224.05,261.98 224.40,262.50 224.75,263.82 225.10,264.16 225.45,263.48 225.80,262.36 226.15,261.91 226.50,262.70 226.85,263.77 227.20,263.82 227.55,263.15 227.90,262.18 228.25,261.99 228.60,262.88 228.95,263.57 229.30,263.55 229.65,262.66 230.00,261.96 230.35,261.93 230.70,262.71 231.05,263.44 231.40,263.11 231.75,262.14 232.10,261.46 232.45,261.80 232.80,262.82 233.15,263.35 233.50,262.81 233.85,261.72 234.20,261.08 234.55,261.91 234.90,262.96 235.25,263.40 235.60,262.52 235.95,261.15 236.30,260.71 236.65,261.82 237.00,263.23 237.35,263.31 237.70,261.98 238.05,260.69 238.40,260.55 238.75,262.04 239.10,263.52 239.45,263.15 239.80,261.67 240.15,260.15 240.50,260.79 240.85,262.55 241.20,263.70 241.55,262.99 241.90,261.08 242.25,260.19 242.60,261.13 242.95,262.79 243.30,263.71 243.65,262.58 244.00,260.66 244.35,260.08 244.70,261.38 245.05,262.96 245.40,263.41 245.75,261.92 246.10,260.49 246.45,260.33 246.80,261.67 247.15,263.00 247.50,262.84 247.85,261.56 248.20,260.55 248.55,260.90 248.90,262.07 249.25,262.89 249.60,262.69 249.95,261.33 250.30,260.68 250.65,261.12 251.00,262.34 251.35,262.88 251.70,262.16 252.05,261.24 252.40,260.85 252.75,261.24 253.10,262.46 253.45,262.57 253.80,261.84 254.15,260.86 254.50,260.73 254.85,261.69 255.20,262.51 255.55,262.47 255.90,261.71 256.25,260.71 256.60,260.66 256.95,261.75 257.30,262.79 257.65,262.54 258.00,261.37 258.35,260.42 258.70,260.85 259.05,262.18 259.40,262.89 259.75,262.54 260.10,260.96 260.45,259.86 260.80,260.94 261.15,262.60 261.50,263.33 261.85,262.23 262.20,260.43 262.55,259.85 262.90,261.20 263.25,262.94 263.60,263.45 263.95,261.95 264.30,259.85 264.65,259.69 265.00,261.55 265.35,263.15 265.70,263.27 266.05,261.16 266.40,259.60 266.75,259.95 267.10,262.08 267.45,263.28 267.80,262.87 268.15,260.81 268.50,259.61 268.85,260.55 269.20,262.34 269.55,263.06 269.90,262.17 270.25,260.56 270.60,259.66 270.95,260.99 271.30,262.38 271.65,262.76 272.00,261.65 272.35,260.31 272.70,260.04 273.05,261.31 273.40,262.34 273.75,262.42 274.10,261.36 274.45,260.41 274.80,260.36 275.15,261.63 275.50,262.37 275.85,262.10 276.20,261.14 276.55,260.28 276.90,260.78 277.25,261.74 277.60,262.35 277.95,261.80 278.30,260.80 278.65,260.08 279.00,260.82 279.35,261.79 279.70,262.40 280.05,261.71 280.40,260.57 280.75,259.93 281.10,260.84 281.45,262.29 281.80,262.61 282.15,261.49 282.50,260.07 282.85,260.00 283.20,261.10 283.55,262.69 283.90,262.72 284.25,260.94 284.60,259.64 284.95,259.69 285.30,261.81 285.65,263.04 286.00,262.43 286.35,260.51 286.70,259.24 287.05,259.84 287.40,262.10 287.75,263.20 288.10,262.25 288.45,260.08 288.80,258.84 289.15,260.46 289.50,262.71 289.85,263.12 290.20,261.59 290.55,259.66 290.90,259.09 291.25,260.84 291.60,262.65 291.95,262.85 292.30,261.19 292.65,259.27 293.00,259.36 293.35,261.12 293.70,262.85 294.05,262.36 294.40,260.77 294.75,259.21 295.10,260.06 295.45,261.55 295.80,262.44 296.15,261.87 296.50,260.15 296.85,259.62 297.20,260.34 297.55,261.63 297.90,262.45 298.25,261.30 298.60,260.04 298.95,259.93 299.30,260.63 299.65,261.92 300.00,262.14 300.35,261.09 300.70,259.95 301.05,260.00 301.40,261.02 301.75,262.06 302.10,261.86 302.45,260.76 302.80,259.68 303.15,259.90 303.50,261.42 303.85,262.31 304.20,261.93 304.55,260.50 304.90,259.41 305.25,260.09 305.60,261.54 305.95,262.35 306.30,261.69 306.65,260.10 307.00,259.27 307.35,260.22 307.70,262.09 308.05,262.83 308.40,261.23 308.75,259.53 309.10,259.08 309.45,260.62 309.80,262.60 310.15,262.62 310.50,260.87 310.85,258.73 311.20,258.99 311.55,261.22 311.90,262.85 312.25,262.57 312.60,260.17 312.95,258.62 313.30,259.15 313.65,261.69 314.00,263.31 314.35,262.27 314.70,259.78 315.05,258.58 315.40,259.95 315.75,261.96 316.10,262.93 316.45,261.36 316.80,259.35 317.15,258.72 317.50,260.48 317.85,262.44 318.20,262.66 318.55,261.02 318.90,259.50 319.25,259.12 319.60,260.90 319.95,262.13 320.30,262.25 320.65,260.46 321.00,259.48 321.35,259.75 321.70,261.12 322.05,262.09 322.40,261.75 322.75,260.44 323.10,259.61 323.45,260.12 323.80,261.62 324.15,262.17 324.50,261.56 324.85,260.01 325.20,259.57 325.55,260.32 325.90,261.66 326.25,262.30 326.60,261.25 326.95,259.74 327.30,259.66 327.65,260.85 328.00,262.28 328.35,262.10 328.70,261.09 329.05,259.59 329.40,259.71 329.75,261.18 330.10,262.51 330.45,262.27 330.80,260.36 331.15,259.23 331.50,259.67 331.85,261.77 332.20,263.38 332.55,262.27 332.90,259.89 333.25,259.05 333.60,260.23 333.95,262.54 334.30,263.52 334.65,261.99 335.00,259.39 335.35,258.89 335.70,260.65 336.05,263.17 336.40,263.50 336.75,261.59 337.10,259.04 337.45,259.00 337.80,261.33 338.15,263.43 338.50,263.32 338.85,261.15 339.20,258.99" stroke="#2e8fa3"/>
</g>
<rect x="39.6" y="237.1" width="299.80" height="161.20" fill="none" stroke="#8a8a8a" stroke-width="0.8"/><path d="M67.49,398.3 v-2.2 M67.49,237.1 v2.2 M102.35,398.3 v-2.2 M102.35,237.1 v2.2 M137.21,398.3 v-2.2 M137.21,237.1 v2.2 M172.07,398.3 v-2.2 M172.07,237.1 v2.2 M206.93,398.3 v-2.2 M206.93,237.1 v2.2 M241.79,398.3 v-2.2 M241.79,237.1 v2.2 M276.65,398.3 v-2.2 M276.65,237.1 v2.2 M311.51,398.3 v-2.2 M311.51,237.1 v2.2 M39.6,253.22 h2.2 M339.4,253.22 h-2.2 M39.6,269.34 h2.2 M339.4,269.34 h-2.2 M39.6,285.46 h2.2 M339.4,285.46 h-2.2 M39.6,301.58 h2.2 M339.4,301.58 h-2.2 M39.6,317.70 h2.2 M339.4,317.70 h-2.2 M39.6,333.82 h2.2 M339.4,333.82 h-2.2 M39.6,349.94 h2.2 M339.4,349.94 h-2.2 M39.6,366.06 h2.2 M339.4,366.06 h-2.2 M39.6,382.18 h2.2 M339.4,382.18 h-2.2 " stroke="#8a8a8a" stroke-width="0.8" fill="none"/>
<text x="36.9" y="239.20" font-size="7.5" fill="#3a3a3a" text-anchor="end" stroke="#3a3a3a" stroke-width="0.2">0</text>
<text x="36.9" y="255.32" font-size="7.5" fill="#3a3a3a" text-anchor="end" stroke="#3a3a3a" stroke-width="0.2">−10</text>
<text x="36.9" y="271.44" font-size="7.5" fill="#3a3a3a" text-anchor="end" stroke="#3a3a3a" stroke-width="0.2">−20</text>
<text x="36.9" y="287.56" font-size="7.5" fill="#3a3a3a" text-anchor="end" stroke="#3a3a3a" stroke-width="0.2">−30</text>
<text x="36.9" y="303.68" font-size="7.5" fill="#3a3a3a" text-anchor="end" stroke="#3a3a3a" stroke-width="0.2">−40</text>
<text x="36.9" y="319.80" font-size="7.5" fill="#3a3a3a" text-anchor="end" stroke="#3a3a3a" stroke-width="0.2">−50</text>
<text x="36.9" y="335.92" font-size="7.5" fill="#3a3a3a" text-anchor="end" stroke="#3a3a3a" stroke-width="0.2">−60</text>
<text x="36.9" y="352.04" font-size="7.5" fill="#3a3a3a" text-anchor="end" stroke="#3a3a3a" stroke-width="0.2">−70</text>
<text x="36.9" y="368.16" font-size="7.5" fill="#3a3a3a" text-anchor="end" stroke="#3a3a3a" stroke-width="0.2">−80</text>
<text x="36.9" y="384.28" font-size="7.5" fill="#3a3a3a" text-anchor="end" stroke="#3a3a3a" stroke-width="0.2">−90</text>
<text x="36.9" y="400.40" font-size="7.5" fill="#3a3a3a" text-anchor="end" stroke="#3a3a3a" stroke-width="0.2">−100</text>
<text x="102.35" y="407.1" font-size="7.5" fill="#3a3a3a" text-anchor="middle" stroke="#3a3a3a" stroke-width="0.2">5</text>
<text x="172.07" y="407.1" font-size="7.5" fill="#3a3a3a" text-anchor="middle" stroke="#3a3a3a" stroke-width="0.2">10</text>
<text x="241.79" y="407.1" font-size="7.5" fill="#3a3a3a" text-anchor="middle" stroke="#3a3a3a" stroke-width="0.2">15</text>
<text x="311.51" y="407.1" font-size="7.5" fill="#3a3a3a" text-anchor="middle" stroke="#3a3a3a" stroke-width="0.2">20</text>
<text x="154.1" y="418" font-size="9.6" textLength="70.1" lengthAdjust="spacingAndGlyphs" fill="#111" stroke="#111" stroke-width="0.2">Frequency (GHz)</text>
<text transform="translate(17.2,317.45) rotate(-90)" font-size="9.4" text-anchor="middle" fill="#111" stroke="#111" stroke-width="0.2">S21 (dB)</text>
<text x="188.8" y="252.7" font-size="9.2" text-anchor="middle" fill="#111" stroke="#111" stroke-width="0.2">Notch filter</text>
<text x="-0.3" y="237.6" class="b" font-size="13.5" stroke="#000" stroke-width="0.4">c</text>
<line x1="252.0" y1="270.3" x2="252.0" y2="387.3" stroke="#000" stroke-width="1.15" stroke-dasharray="2.3,1.05"/><path d="M252.0,266.8 L254.3,271.1 L252.0,270.1 L249.7,271.1 Z M252.0,390.8 L254.3,386.5 L252.0,387.5 L249.7,386.5 Z" fill="#000"/>
<text x="255.6" y="396.2" font-size="9.6" fill="#111" stroke="#111" stroke-width="0.2">80 dB</text>
<clipPath id="dc"><rect x="385.2" y="235.0" width="298.59999999999997" height="163.2"/></clipPath>
<g clip-path="url(#dc)" fill="none" stroke-width="1.25" stroke-linejoin="round">
<path d="M385.20,256.31 385.55,256.44 385.90,256.36 386.25,256.17 386.60,256.17 386.95,256.42 387.30,256.71 387.65,256.79 388.00,256.63 388.35,256.43 388.70,256.49 389.05,256.84 389.40,257.09 389.75,257.11 390.10,256.87 390.45,256.72 390.80,256.84 391.15,257.23 391.50,257.47 391.85,257.39 392.20,257.14 392.55,257.03 392.90,257.28 393.25,257.70 393.60,257.82 393.95,257.68 394.30,257.43 394.65,257.40 395.00,257.75 395.35,258.07 395.70,258.17 396.05,257.96 396.40,257.77 396.75,257.86 397.10,258.21 397.45,258.50 397.80,258.46 398.15,258.29 398.50,258.15 398.85,258.34 399.20,258.61 399.55,258.83 399.90,258.79 400.25,258.62 400.60,258.59 400.95,258.79 401.30,259.12 401.65,259.24 402.00,259.14 402.35,259.04 402.70,259.02 403.05,259.27 403.40,259.57 403.75,259.67 404.10,259.55 404.45,259.44 404.80,259.48 405.15,259.81 405.50,260.10 405.85,260.13 406.20,259.92 406.55,259.79 406.90,259.99 407.25,260.35 407.60,260.60 407.95,260.54 408.30,260.34 408.65,260.22 409.00,260.49 409.35,260.92 409.70,261.18 410.05,261.01 410.40,260.69 410.75,260.63 411.10,261.07 411.45,261.54 411.80,261.70 412.15,261.41 412.50,261.08 412.85,261.12 413.20,261.65 413.55,262.16 413.90,262.14 414.25,261.73 414.60,261.42 414.95,261.66 415.30,262.31 415.65,262.66 416.00,262.52 416.35,262.10 416.70,261.90 417.05,262.31 417.40,262.92 417.75,263.20 418.10,262.89 418.45,262.54 418.80,262.52 419.15,262.91 419.50,263.44 419.85,263.59 420.20,263.25 420.55,263.01 420.90,263.09 421.25,263.57 421.60,263.97 421.95,264.01 422.30,263.72 422.65,263.51 423.00,263.66 423.35,264.11 423.70,264.43 424.05,264.39 424.40,264.16 424.75,264.02 425.10,264.33 425.45,264.72 425.80,265.00 426.15,264.86 426.50,264.59 426.85,264.60 427.20,264.91 427.55,265.33 427.90,265.48 428.25,265.29 428.60,265.06 428.95,265.19 429.30,265.57 429.65,265.98 430.00,265.98 430.35,265.78 430.70,265.50 431.05,265.66 431.40,266.26 431.75,266.58 432.10,266.49 432.45,266.07 432.80,265.91 433.15,266.28 433.50,266.88 433.85,267.14 434.20,266.88 434.55,266.46 434.90,266.36 435.25,266.88 435.60,267.57 435.95,267.70 436.30,267.28 436.65,266.66 437.00,266.74 437.35,267.48 437.70,268.09 438.05,268.09 438.40,267.47 438.75,267.03 439.10,267.29 439.45,268.07 439.80,268.58 440.15,268.34 440.50,267.71 440.85,267.46 441.20,267.82 441.55,268.58 441.90,268.94 442.25,268.59 442.60,268.09 442.95,267.93 443.30,268.52 443.65,269.11 444.00,269.33 444.35,268.85 444.70,268.45 445.05,268.46 445.40,269.06 445.75,269.60 446.10,269.55 446.45,269.14 446.80,268.76 447.15,269.01 447.50,269.49 447.85,269.83 448.20,269.65 448.55,269.36 448.90,269.11 449.25,269.37 449.60,269.78 449.95,269.96 450.30,269.82 450.65,269.38 451.00,269.29 451.35,269.59 451.70,270.06 452.05,270.05 452.40,269.68 452.75,269.35 453.10,269.32 453.45,269.64 453.80,270.18 454.15,270.15 454.50,269.66 454.85,269.13 455.20,269.25 455.55,269.85 455.90,270.24 456.25,270.11 456.60,269.37 456.95,268.99 457.30,269.29 457.65,270.03 458.00,270.36 458.35,269.94 458.70,269.18 459.05,268.84 459.40,269.42 459.75,270.16 460.10,270.31 460.45,269.64 460.80,268.85 461.15,268.81 461.50,269.55 461.85,270.31 462.20,270.21 462.55,269.30 462.90,268.71 463.25,268.83 463.60,269.71 463.95,270.28 464.30,269.93 464.65,269.04 465.00,268.55 465.35,268.93 465.70,269.80 466.05,270.14 466.40,269.66 466.75,268.83 467.10,268.62 467.45,269.05 467.80,269.83 468.15,269.91 468.50,269.29 468.85,268.60 469.20,268.53 469.55,269.22 469.90,269.69 470.25,269.61 470.60,269.00 470.95,268.56 471.30,268.59 471.65,269.16 472.00,269.47 472.35,269.15 472.70,268.63 473.05,268.34 473.40,268.60 473.75,268.94 474.10,269.19 474.45,268.95 474.80,268.39 475.15,268.13 475.50,268.44 475.85,269.00 476.20,269.00 476.55,268.66 476.90,268.11 477.25,267.92 477.60,268.53 477.95,268.99 478.30,269.04 478.65,268.35 479.00,267.82 479.35,267.91 479.70,268.54 480.05,269.18 480.40,268.96 480.75,268.11 481.10,267.63 481.45,268.02 481.80,268.91 482.15,269.42 482.50,268.93 482.85,267.81 483.20,267.59 483.55,268.13 483.90,269.15 484.25,269.47 484.60,268.79 484.95,267.69 485.30,267.66 485.65,268.50 486.00,269.47 486.35,269.54 486.70,268.58 487.05,267.61 487.40,267.89 487.75,268.92 488.10,269.68 488.45,269.30 488.80,268.35 489.15,267.77 489.50,268.12 489.85,269.15 490.20,269.70 490.55,269.27 490.90,268.32 491.25,267.96 491.60,268.55 491.95,269.48 492.30,269.60 492.65,268.98 493.00,268.24 493.35,268.19 493.70,269.00 494.05,269.56 494.40,269.65 494.75,268.89 495.10,268.40 495.45,268.53 495.80,269.27 496.15,269.77 496.50,269.48 496.85,268.93 497.20,268.57 497.55,268.87 497.90,269.44 498.25,269.87 498.60,269.60 498.95,268.99 499.30,268.76 499.65,269.13 500.00,269.76 500.35,270.15 500.70,269.68 501.05,268.94 501.40,268.82 501.75,269.56 502.10,270.30 502.45,270.41 502.80,269.70 503.15,268.91 503.50,269.00 503.85,269.93 504.20,270.81 504.55,270.62 504.90,269.49 505.25,268.90 505.60,269.38 505.95,270.50 506.30,271.17 506.65,270.68 507.00,269.61 507.35,268.99 507.70,269.92 508.05,271.26 508.40,271.63 508.75,270.73 509.10,269.53 509.45,269.48 509.80,270.49 510.15,271.78 510.50,271.94 510.85,270.72 511.20,269.73 511.55,269.94 511.90,271.26 512.25,272.37 512.60,272.02 512.95,270.88 513.30,270.28 513.65,270.75 514.00,271.99 514.35,272.80 514.70,272.23 515.05,271.27 515.40,270.99 515.75,271.91 516.10,272.92 516.45,273.26 516.80,272.73 517.15,271.99 517.50,272.03 517.85,272.97 518.20,273.70 518.55,273.97 518.90,273.40 519.25,273.10 519.60,273.22 519.95,274.20 520.30,274.92 520.65,274.99 521.00,274.52 521.35,274.42 521.70,275.01 522.05,275.93 522.40,276.69 522.75,276.59 523.10,276.12 523.45,276.23 523.80,277.10 524.15,278.31 524.50,278.92 524.85,278.76 525.20,278.49 525.55,278.65 525.90,280.00 526.25,281.48 526.60,281.97 526.95,281.80 527.30,281.45 527.65,282.30 528.00,284.20 528.35,285.91 528.70,286.49 529.05,286.16 529.40,286.22 529.75,287.71 530.10,290.21 530.45,292.34 530.80,293.01 531.15,293.05 531.50,293.94 531.85,296.60 532.20,299.97 532.55,302.69 532.90,304.28 533.25,305.54 533.40,306.65 533.45,307.05 533.50,307.55 533.55,308.09 533.60,308.62 533.65,309.40 533.70,310.08 533.75,310.90 533.80,311.52 533.85,312.35 533.90,313.19 533.95,313.97 534.00,315.06 534.05,315.99 534.10,316.82 534.15,317.77 534.20,318.83 534.25,319.92 534.30,320.85 534.35,321.76 534.40,322.87 534.45,323.92 534.50,325.00 534.55,326.04 534.60,327.16 534.65,328.31 534.70,329.48 534.75,330.80 534.80,332.27 534.85,333.79 534.90,335.31 534.95,337.13 535.00,339.15 535.05,341.67 535.10,344.26 535.15,347.52 535.20,351.72 535.25,356.74 535.30,363.34 535.35,371.65 535.40,375.52 535.45,366.79 535.50,355.59 535.55,348.21 535.60,342.80 535.65,338.60 535.70,335.12 535.75,332.22 535.80,329.91 535.85,327.70 535.90,325.94 535.95,324.22 536.00,322.82 536.05,321.52 536.10,320.30 536.15,319.18 536.20,317.96 536.25,317.01 536.30,316.11 536.35,315.00 536.40,314.14 536.45,313.40 536.50,312.35 536.55,311.51 536.60,310.68 536.65,309.80 536.70,308.83 536.75,308.11 536.80,307.20 536.85,306.35 536.90,305.57 536.95,304.75 537.00,303.84 537.05,303.07 537.10,302.34 537.15,301.59 537.20,300.94 537.25,300.13 537.30,299.67 537.35,298.91 537.40,298.39 537.45,297.93 537.80,295.31 538.15,294.03 538.50,292.65 538.85,290.06 539.20,287.25 539.55,285.07 539.90,284.47 540.25,284.30 540.60,283.56 540.95,281.91 541.30,280.03 541.65,279.03 542.00,278.89 542.35,278.98 542.70,278.57 543.05,277.30 543.40,275.96 543.75,275.64 544.10,275.88 544.45,276.03 544.80,275.66 545.15,274.43 545.50,273.59 545.85,273.67 546.20,274.18 546.55,274.36 546.90,273.90 547.25,272.79 547.60,272.05 547.95,272.30 548.30,273.16 548.65,273.36 549.00,272.73 549.35,271.49 549.70,271.07 550.05,271.63 550.40,272.76 550.75,272.70 551.10,271.77 551.45,270.42 551.80,270.24 552.15,271.41 552.50,272.53 552.85,272.35 553.20,270.68 553.55,269.74 553.90,269.88 554.25,271.42 554.60,272.37 554.95,271.70 555.30,270.09 555.65,269.15 556.00,269.92 556.35,271.56 556.70,272.24 557.05,270.99 557.40,269.48 557.75,268.96 558.10,270.24 558.45,271.71 558.80,271.74 559.15,270.35 559.50,269.05 559.85,269.01 560.20,270.45 560.55,271.51 560.90,271.29 561.25,269.90 561.60,268.80 561.95,269.06 562.30,270.50 562.65,271.20 563.00,270.63 563.35,269.38 563.70,268.72 564.05,269.39 564.40,270.54 564.75,270.84 565.10,270.15 565.45,269.09 565.80,268.85 566.15,269.35 566.50,270.36 566.85,270.51 567.20,269.75 567.55,268.85 567.90,268.64 568.25,269.56 568.60,270.17 568.95,270.14 569.30,269.14 569.65,268.48 570.00,268.60 570.35,269.55 570.70,270.19 571.05,269.82 571.40,268.68 571.75,268.00 572.10,268.54 572.45,269.69 572.80,270.21 573.15,269.30 573.50,268.05 573.85,267.82 574.20,268.57 574.55,269.83 574.90,270.09 575.25,268.81 575.60,267.44 575.95,267.53 576.30,268.67 576.65,270.22 577.00,270.01 577.35,268.22 577.70,267.11 578.05,267.44 578.40,269.10 578.75,270.39 579.10,269.69 579.45,267.65 579.80,266.65 580.15,267.53 580.50,269.40 580.85,270.16 581.20,268.98 581.55,267.12 581.90,266.51 582.25,267.97 582.60,269.65 582.95,269.99 583.30,268.39 583.65,266.89 584.00,266.91 584.35,268.34 584.70,269.82 585.05,269.67 585.40,268.10 585.75,267.03 586.10,267.45 586.45,268.85 586.80,269.66 587.15,269.04 587.50,267.93 587.85,267.07 588.20,267.86 588.55,268.96 588.90,269.53 589.25,268.79 589.60,267.62 589.95,267.40 590.30,268.17 590.65,269.08 591.00,269.45 591.35,268.59 591.70,267.58 592.05,267.51 592.40,268.34 592.75,269.43 593.10,269.26 593.45,268.43 593.80,267.51 594.15,267.70 594.50,268.98 594.85,269.71 595.20,269.17 595.55,268.20 595.90,267.40 596.25,267.92 596.60,269.42 596.95,269.93 597.30,269.41 597.65,267.88 598.00,267.42 598.35,268.42 598.70,270.03 599.05,270.48 599.40,268.96 599.75,267.56 600.10,267.30 600.45,268.87 600.80,270.42 601.15,270.34 601.50,268.66 601.85,267.27 602.20,267.48 602.55,269.67 602.90,270.85 603.25,270.40 603.60,268.38 603.95,267.19 604.30,268.11 604.65,270.11 605.00,271.09 605.35,269.96 605.70,267.95 606.05,267.44 606.40,268.82 606.75,270.78 607.10,271.17 607.45,269.56 607.80,267.81 608.15,268.02 608.50,269.32 608.85,270.88 609.20,270.94 609.55,269.35 609.90,268.10 610.25,268.66 610.60,270.03 610.95,270.96 611.30,270.55 611.65,269.19 612.00,268.72 612.35,269.15 612.70,270.55 613.05,271.02 613.40,270.62 613.75,269.36 614.10,269.15 614.45,269.73 614.80,270.89 615.15,271.42 615.50,270.54 615.85,269.63 616.20,269.40 616.55,270.38 616.90,271.62 617.25,271.36 617.60,270.38 617.95,269.67 618.30,269.87 618.65,271.20 619.00,272.13 619.35,271.92 619.70,270.66 620.05,269.75 620.40,270.62 620.75,272.20 621.10,272.96 621.45,272.42 621.80,270.93 622.15,270.07 622.50,271.59 622.85,273.44 623.20,274.14 623.55,272.90 623.90,271.16 624.25,271.00 624.60,273.04 624.95,274.97 625.30,275.34 625.65,273.61 626.00,272.01 626.35,272.57 626.70,274.94 627.05,276.90 627.40,276.38 627.75,274.52 628.10,273.51 628.45,274.72 628.80,277.42 629.15,279.12 629.50,278.27 629.85,276.49 630.20,276.25 630.55,278.12 630.90,280.83 631.25,281.88 631.60,281.27 631.95,279.98 632.30,280.44 632.65,283.02 633.00,285.42 633.35,286.65 633.70,285.91 634.05,285.86 634.40,287.19 634.75,290.19 635.10,292.75 635.45,294.07 635.80,294.46 636.15,295.41 636.50,298.37 636.85,302.36 637.20,306.30 637.25,306.71 637.30,306.91 637.35,307.63 637.40,307.93 637.45,308.29 637.50,308.78 637.55,309.18 637.60,309.44 637.65,309.94 637.70,310.59 637.75,310.99 637.80,311.49 637.85,311.92 637.90,312.49 637.95,313.26 638.00,313.77 638.05,314.60 638.10,315.54 638.15,316.29 638.20,317.19 638.25,318.26 638.30,319.17 638.35,320.23 638.40,321.52 638.45,322.99 638.50,324.38 638.55,326.10 638.60,327.78 638.65,329.53 638.70,331.85 638.75,333.96 638.80,336.40 638.85,339.14 638.90,342.21 638.95,345.93 639.00,349.97 639.05,355.11 639.10,361.94 639.15,369.38 639.20,372.56 639.25,365.96 639.30,356.13 639.35,348.61 639.40,343.34 639.45,338.81 639.50,335.13 639.55,332.03 639.60,329.50 639.65,326.72 639.70,324.54 639.75,322.65 639.80,320.64 639.85,319.01 639.90,317.58 639.95,316.01 640.00,314.47 640.05,313.32 640.10,312.29 640.15,311.14 640.20,310.10 640.25,309.01 640.30,308.12 640.35,307.38 640.40,306.66 640.45,305.77 640.50,305.37 640.55,304.67 640.60,304.30 640.65,303.68 640.70,303.34 640.75,302.92 640.80,302.41 640.85,302.08 640.90,301.58 640.95,301.07 641.00,300.71 641.05,300.21 641.10,299.91 641.15,299.62 641.20,298.94 641.40,297.10 641.75,293.06 642.10,289.46 642.45,287.68 642.80,287.27 643.15,286.71 643.50,284.87 643.85,282.11 644.20,279.93 644.55,279.35 644.90,280.02 645.25,280.09 645.60,278.44 645.95,275.76 646.30,274.25 646.65,275.00 647.00,276.42 647.35,276.81 647.70,274.55 648.05,272.02 648.40,271.38 648.75,272.78 649.10,274.67 649.45,274.27 649.80,272.03 650.15,269.58 650.50,269.53 650.85,271.67 651.20,273.50 651.55,272.74 651.90,269.91 652.25,268.14 652.60,269.17 652.95,271.40 653.30,272.43 653.65,271.14 654.00,268.84 654.35,267.69 654.70,268.79 655.05,271.24 655.40,271.73 655.75,269.97 656.10,267.82 656.45,267.41 656.80,269.13 657.15,270.67 657.50,270.59 657.85,269.20 658.20,267.73 658.55,267.87 658.90,269.16 659.25,270.57 659.60,269.99 659.95,268.34 660.30,267.64 660.65,267.96 661.00,269.35 661.35,269.91 661.70,269.42 662.05,268.08 662.40,267.31 662.75,268.11 663.10,269.62 663.45,269.76 663.80,269.02 664.15,267.50 664.50,267.20 664.85,268.43 665.20,269.73 665.55,269.92 665.90,268.65 666.25,267.36 666.60,267.43 666.95,268.66 667.30,270.25 667.65,269.72 668.00,268.01 668.35,266.65 668.70,267.30 669.05,269.09 669.40,270.57 669.75,269.74 670.10,267.38 670.45,266.43 670.80,267.40 671.15,269.75 671.50,270.70 671.85,269.02 672.20,266.86 672.55,266.19 672.90,268.19 673.25,270.61 673.60,270.84 673.95,268.56 674.30,266.19 674.65,266.59 675.00,268.83 675.35,271.12 675.70,270.27 676.05,267.89 676.40,266.05 676.75,267.03 677.10,269.44 677.45,270.95 677.80,269.73 678.15,267.39 678.50,266.40 678.85,267.63 679.20,270.20 679.55,270.69 679.90,269.38 680.25,267.13 680.60,266.96 680.95,268.36 681.30,270.37 681.65,270.58 682.00,268.92 682.35,267.14 682.70,267.46 683.05,268.97 683.40,270.16 683.75,269.78" stroke="#6a58a8"/>
<path d="M385.20,255.62 385.55,255.86 385.90,256.06 386.25,255.99 386.60,255.80 386.95,255.78 387.30,255.96 387.65,256.24 388.00,256.31 388.35,256.24 388.70,256.10 389.05,256.12 389.40,256.35 389.75,256.55 390.10,256.61 390.45,256.54 390.80,256.42 391.15,256.52 391.50,256.75 391.85,256.94 392.20,256.92 392.55,256.82 392.90,256.75 393.25,256.89 393.60,257.12 393.95,257.29 394.30,257.25 394.65,257.13 395.00,257.13 395.35,257.28 395.70,257.58 396.05,257.68 396.40,257.58 396.75,257.43 397.10,257.49 397.45,257.71 397.80,258.03 398.15,258.13 398.50,257.95 398.85,257.74 399.20,257.87 399.55,258.18 399.90,258.52 400.25,258.51 400.60,258.24 400.95,258.06 401.30,258.25 401.65,258.74 402.00,259.02 402.35,258.88 402.70,258.56 403.05,258.44 403.40,258.78 403.75,259.28 404.10,259.47 404.45,259.24 404.80,258.93 405.15,258.87 405.50,259.35 405.85,259.82 406.20,259.91 406.55,259.56 406.90,259.27 407.25,259.44 407.60,259.93 407.95,260.34 408.30,260.26 408.65,259.99 409.00,259.78 409.35,260.03 409.70,260.50 410.05,260.78 410.40,260.68 410.75,260.41 411.10,260.32 411.45,260.59 411.80,261.01 412.15,261.22 412.50,261.03 412.85,260.87 413.20,260.88 413.55,261.17 413.90,261.50 414.25,261.63 414.60,261.44 414.95,261.32 415.30,261.43 415.65,261.76 416.00,262.01 416.35,262.05 416.70,261.89 417.05,261.77 417.40,261.95 417.75,262.34 418.10,262.55 418.45,262.49 418.80,262.29 419.15,262.19 419.50,262.54 419.85,262.92 420.20,263.11 420.55,262.97 420.90,262.70 421.25,262.66 421.60,263.08 421.95,263.57 422.30,263.71 422.65,263.32 423.00,263.06 423.35,263.20 423.70,263.74 424.05,264.23 424.40,264.15 424.75,263.78 425.10,263.48 425.45,263.77 425.80,264.40 426.15,264.87 426.50,264.67 426.85,264.10 427.20,263.89 427.55,264.35 427.90,265.14 428.25,265.41 428.60,265.02 428.95,264.57 429.30,264.51 429.65,265.07 430.00,265.75 430.35,265.84 430.70,265.39 431.05,264.98 431.40,265.14 431.75,265.78 432.10,266.31 432.45,266.29 432.80,265.76 433.15,265.53 433.50,265.72 433.85,266.35 434.20,266.78 434.55,266.57 434.90,266.16 435.25,266.08 435.60,266.38 435.95,266.94 436.30,267.07 436.65,266.94 437.00,266.55 437.35,266.50 437.70,266.88 438.05,267.37 438.40,267.43 438.75,267.22 439.10,266.95 439.45,266.98 439.80,267.39 440.15,267.85 440.50,267.81 440.85,267.50 441.20,267.36 441.55,267.47 441.90,267.93 442.25,268.29 442.60,268.21 442.95,267.79 443.30,267.68 443.65,268.03 444.00,268.57 444.35,268.85 444.70,268.50 445.05,268.08 445.40,267.98 445.75,268.45 446.10,269.05 446.45,269.28 446.80,268.79 447.15,268.20 447.50,268.27 447.85,268.99 448.20,269.58 448.55,269.57 448.90,268.90 449.25,268.40 449.60,268.61 449.95,269.43 450.30,269.92 450.65,269.54 451.00,268.84 451.35,268.38 451.70,268.80 452.05,269.66 452.40,269.99 452.75,269.41 453.10,268.70 453.45,268.37 453.80,269.02 454.15,269.76 454.50,269.84 454.85,269.27 455.20,268.59 455.55,268.59 455.90,269.22 456.25,269.74 456.60,269.62 456.95,269.01 457.30,268.49 457.65,268.67 458.00,269.35 458.35,269.64 458.70,269.37 459.05,268.79 459.40,268.48 459.75,268.79 460.10,269.34 460.45,269.57 460.80,269.23 461.15,268.74 461.50,268.63 461.85,268.85 462.20,269.38 462.55,269.46 462.90,269.03 463.25,268.63 463.60,268.57 463.95,268.99 464.30,269.39 464.65,269.27 465.00,268.82 465.35,268.44 465.70,268.49 466.05,269.06 466.40,269.36 466.75,269.09 467.10,268.49 467.45,268.23 467.80,268.55 468.15,269.03 468.50,269.36 468.85,268.96 469.20,268.25 469.55,267.97 469.90,268.47 470.25,269.21 470.60,269.33 470.95,268.49 471.30,267.71 471.65,267.76 472.00,268.45 472.35,269.14 472.70,269.05 473.05,268.20 473.40,267.39 473.75,267.59 474.10,268.45 474.45,269.13 474.80,268.74 475.15,267.66 475.50,267.17 475.85,267.55 476.20,268.54 476.55,268.96 476.90,268.36 477.25,267.36 477.60,267.10 477.95,267.78 478.30,268.69 478.65,268.78 479.00,267.95 479.35,267.20 479.70,267.14 480.05,267.90 480.40,268.62 480.75,268.62 481.10,267.70 481.45,267.17 481.80,267.43 482.15,268.19 482.50,268.59 482.85,268.28 483.20,267.70 483.55,267.34 483.90,267.66 484.25,268.37 484.60,268.60 484.95,268.15 485.30,267.64 485.65,267.44 486.00,267.95 486.35,268.41 486.70,268.54 487.05,268.20 487.40,267.65 487.75,267.61 488.10,268.14 488.45,268.65 488.80,268.69 489.15,268.10 489.50,267.67 489.85,267.74 490.20,268.47 490.55,268.85 490.90,268.72 491.25,268.08 491.60,267.63 491.95,268.05 492.30,268.78 492.65,269.33 493.00,268.76 493.35,267.95 493.70,267.57 494.05,268.35 494.40,269.24 494.75,269.48 495.10,268.80 495.45,267.87 495.80,267.77 496.15,268.69 496.50,269.78 496.85,269.79 497.20,268.68 497.55,267.72 497.90,268.12 498.25,269.18 498.60,270.14 498.95,269.85 499.30,268.69 499.65,267.98 500.00,268.58 500.35,269.91 500.70,270.54 501.05,269.83 501.40,268.77 501.75,268.41 502.10,269.27 502.45,270.39 502.80,270.71 503.15,270.01 503.50,269.13 503.85,269.03 504.20,270.16 504.55,271.09 504.90,271.14 505.25,270.25 505.60,269.73 505.95,269.98 506.30,271.00 506.65,271.77 507.00,271.64 507.35,270.98 507.70,270.83 508.05,271.25 508.40,272.26 508.75,272.89 509.10,272.68 509.45,272.23 509.80,272.36 510.15,272.96 510.50,273.93 510.85,274.52 511.20,274.33 511.55,274.16 511.90,274.57 512.25,275.72 512.60,276.70 512.95,277.28 513.30,277.34 513.65,277.42 514.00,278.35 514.35,279.81 514.70,281.26 515.05,282.08 515.40,282.28 515.75,282.78 516.10,284.39 516.45,286.91 516.80,288.95 517.15,290.02 517.50,290.95 517.85,292.46 518.20,295.71 518.55,299.52 518.90,303.12 519.00,304.04 519.05,304.49 519.10,304.87 519.15,305.24 519.20,305.53 519.25,305.93 519.30,306.38 519.35,306.89 519.40,307.27 519.45,307.74 519.50,308.33 519.55,308.95 519.60,309.47 519.65,310.18 519.70,310.89 519.75,311.62 519.80,312.52 519.85,313.24 519.90,314.34 519.95,315.25 520.00,316.41 520.05,317.76 520.10,318.85 520.15,320.24 520.20,321.75 520.25,323.22 520.30,324.96 520.35,326.82 520.40,328.67 520.45,330.65 520.50,332.71 520.55,335.09 520.60,337.85 520.65,340.70 520.70,344.05 520.75,347.86 520.80,352.43 520.85,358.13 520.90,365.59 520.95,374.28 521.00,378.08 521.05,374.01 521.10,365.09 521.15,357.51 521.20,351.54 521.25,346.88 521.30,342.93 521.35,339.55 521.40,336.52 521.45,333.88 521.50,331.38 521.55,329.30 521.60,327.26 521.65,325.55 521.70,323.95 521.75,322.39 521.80,320.99 521.85,319.61 521.90,318.60 521.95,317.53 522.00,316.57 522.05,315.65 522.10,314.67 522.15,313.92 522.20,313.38 522.25,312.77 522.30,312.06 522.35,311.47 522.40,311.03 522.45,310.43 522.50,309.84 522.55,309.51 522.60,308.84 522.65,308.34 522.70,307.80 522.75,307.34 522.80,306.80 522.85,306.22 522.90,305.73 522.95,305.05 523.00,304.50 523.10,303.21 523.45,298.72 523.80,295.11 524.15,293.36 524.50,292.57 524.85,291.47 525.20,289.00 525.55,286.18 525.90,284.39 526.25,284.03 526.60,284.04 526.95,283.31 527.30,281.46 527.65,279.54 528.00,278.62 528.35,278.97 528.70,279.21 529.05,278.46 529.40,277.08 529.75,275.83 530.10,275.45 530.45,275.82 530.80,276.23 531.15,275.60 531.50,274.33 531.85,273.41 532.20,273.57 532.55,274.13 532.90,274.17 533.25,273.69 533.60,272.66 533.95,272.09 534.30,272.32 534.65,272.90 535.00,273.08 535.35,272.39 535.70,271.48 536.05,271.28 536.40,271.78 536.75,272.31 537.10,272.18 537.45,271.48 537.80,270.66 538.15,270.51 538.50,271.28 538.85,272.01 539.20,271.79 539.55,270.59 539.90,269.77 540.25,270.12 540.60,271.32 540.95,271.83 541.30,271.21 541.65,269.98 542.00,269.29 542.35,270.16 542.70,271.44 543.05,271.74 543.40,270.74 543.75,269.25 544.10,268.89 544.45,270.26 544.80,271.58 545.15,271.57 545.50,270.14 545.85,268.71 546.20,268.79 546.55,270.30 546.90,271.55 547.25,271.10 547.60,269.54 547.95,268.37 548.30,269.03 548.65,270.56 549.00,271.41 549.35,270.63 549.70,269.03 550.05,268.50 550.40,269.22 550.75,270.62 551.10,270.93 551.45,270.02 551.80,268.81 552.15,268.65 552.50,269.70 552.85,270.58 553.20,270.56 553.55,269.57 553.90,268.65 554.25,268.94 554.60,269.70 554.95,270.52 555.30,270.24 555.65,269.19 556.00,268.70 556.35,268.99 556.70,269.96 557.05,270.40 557.40,269.96 557.75,269.09 558.10,268.60 558.45,269.22 558.80,270.05 559.15,270.33 559.50,269.54 559.85,268.58 560.20,268.42 560.55,269.20 560.90,270.19 561.25,270.08 561.60,269.35 561.95,268.41 562.30,268.32 562.65,269.26 563.00,270.33 563.35,269.94 563.70,268.83 564.05,267.70 564.40,268.16 564.75,269.50 565.10,270.31 565.45,269.67 565.80,268.28 566.15,267.41 566.50,268.27 566.85,269.84 567.20,270.54 567.55,269.27 567.90,267.65 568.25,267.26 568.60,268.52 568.95,270.04 569.30,270.23 569.65,268.72 570.00,267.17 570.35,267.21 570.70,268.82 571.05,270.23 571.40,269.84 571.75,268.13 572.10,266.88 572.45,267.32 572.80,268.99 573.15,269.94 573.50,269.07 573.85,267.50 574.20,266.90 574.55,267.69 574.90,269.11 575.25,269.51 575.60,268.57 575.95,267.35 576.30,266.94 576.65,267.87 577.00,268.97 577.35,269.12 577.70,268.16 578.05,267.21 578.40,267.12 578.75,268.02 579.10,269.01 579.45,268.67 579.80,267.67 580.15,266.97 580.50,267.36 580.85,268.34 581.20,268.92 581.55,268.41 581.90,267.26 582.25,266.91 582.60,267.26 582.95,268.28 583.30,268.73 583.65,268.11 584.00,267.04 584.35,266.66 584.70,267.63 585.05,268.76 585.40,268.70 585.75,267.78 586.10,266.72 586.45,266.71 586.80,268.01 587.15,269.03 587.50,268.78 587.85,267.46 588.20,266.27 588.55,266.69 588.90,268.43 589.25,269.42 589.60,268.64 589.95,266.96 590.30,266.20 590.65,267.03 591.00,268.92 591.35,269.66 591.70,268.47 592.05,266.50 592.40,265.98 592.75,267.70 593.10,269.51 593.45,269.92 593.80,268.00 594.15,266.52 594.50,266.47 594.85,268.21 595.20,269.88 595.55,269.69 595.90,267.79 596.25,266.53 596.60,267.01 596.95,268.77 597.30,270.04 597.65,269.28 598.00,267.53 598.35,266.74 598.70,267.57 599.05,269.15 599.40,269.74 599.75,269.05 600.10,267.56 600.45,267.36 600.80,268.23 601.15,269.60 601.50,269.64 601.85,268.76 602.20,267.63 602.55,267.94 602.90,268.82 603.25,269.84 603.60,269.60 603.95,268.86 604.30,268.13 604.65,268.27 605.00,269.48 605.35,270.18 605.70,269.85 606.05,268.66 606.40,268.26 606.75,268.81 607.10,270.00 607.45,270.57 607.80,270.09 608.15,269.04 608.50,268.67 608.85,269.54 609.20,270.93 609.55,271.43 609.90,270.29 610.25,269.13 610.60,269.43 610.95,270.74 611.30,272.23 611.65,272.51 612.00,270.98 612.35,269.72 612.70,270.38 613.05,272.43 613.40,274.11 613.75,273.63 614.10,271.72 614.45,271.06 614.80,272.36 615.15,274.81 615.50,276.26 615.85,275.37 616.20,273.68 616.55,273.41 616.90,275.55 617.25,278.51 617.60,279.48 617.95,278.41 618.30,277.22 618.65,278.19 619.00,281.04 619.35,283.92 619.70,284.91 620.05,284.26 620.40,284.19 620.75,286.33 621.10,290.39 621.45,293.52 621.80,295.30 622.15,296.25 622.50,298.52 622.60,299.32 622.65,299.94 622.70,300.73 622.75,301.46 622.80,302.31 622.85,302.86 622.90,303.75 622.95,304.82 623.00,305.57 623.05,306.34 623.10,307.52 623.15,308.42 623.20,309.37 623.25,310.32 623.30,311.36 623.35,312.14 623.40,313.22 623.45,314.03 623.50,315.06 623.55,315.90 623.60,316.90 623.65,317.86 623.70,319.12 623.75,319.95 623.80,321.06 623.85,322.39 623.90,323.72 623.95,325.02 624.00,326.23 624.05,327.76 624.10,329.84 624.15,331.77 624.20,333.98 624.25,336.70 624.30,339.54 624.35,343.10 624.40,347.56 624.45,353.43 624.50,360.52 624.55,369.25 624.60,373.15 624.65,369.34 624.70,360.72 624.75,353.49 624.80,347.98 624.85,343.58 624.90,340.11 624.95,337.29 625.00,334.48 625.05,332.29 625.10,330.41 625.15,328.62 625.20,326.72 625.25,325.20 625.30,324.09 625.35,322.77 625.40,321.28 625.45,320.21 625.50,318.84 625.55,317.86 625.60,316.66 625.65,315.82 625.70,314.50 625.75,313.66 625.80,312.55 625.85,311.52 625.90,310.58 625.95,309.64 626.00,308.61 626.05,307.83 626.10,306.89 626.15,306.03 626.20,304.95 626.25,304.34 626.30,303.34 626.35,302.65 626.40,302.23 626.45,301.36 626.50,300.72 626.55,300.37 626.60,299.85 626.70,298.90 627.05,296.84 627.40,295.20 627.75,292.56 628.10,289.57 628.45,286.76 628.80,285.46 629.15,284.97 629.50,284.23 629.85,282.85 630.20,280.54 630.55,278.74 630.90,278.40 631.25,278.93 631.60,278.77 631.95,277.27 632.30,275.03 632.65,273.93 633.00,274.36 633.35,275.39 633.70,275.20 634.05,273.81 634.40,271.69 634.75,271.26 635.10,272.27 635.45,273.78 635.80,273.34 636.15,271.28 636.50,269.36 636.85,269.58 637.20,271.57 637.55,272.80 637.90,271.89 638.25,269.45 638.60,268.19 638.95,268.89 639.30,271.11 639.65,272.34 640.00,270.91 640.35,268.26 640.70,267.30 641.05,268.92 641.40,271.04 641.75,271.66 642.10,269.60 642.45,267.38 642.80,267.01 643.15,268.93 643.50,271.06 643.85,270.69 644.20,268.80 644.55,266.91 644.90,267.22 645.25,269.12 645.60,270.71 645.95,269.83 646.30,268.04 646.65,266.81 647.00,267.58 647.35,269.27 647.70,269.90 648.05,269.12 648.40,267.45 648.75,266.98 649.10,267.96 649.45,269.15 649.80,269.61 650.15,268.29 650.50,267.19 650.85,267.14 651.20,267.94 651.55,269.31 651.90,269.14 652.25,267.85 652.60,267.07 652.95,266.98 653.30,268.21 653.65,268.96 654.00,268.84 654.35,267.32 654.70,266.39 655.05,267.12 655.40,268.70 655.75,269.36 656.10,268.39 656.45,267.12 656.80,266.20 657.15,267.28 657.50,268.91 657.85,269.56 658.20,267.98 658.55,266.47 658.90,266.05 659.25,267.75 659.60,269.53 659.95,269.68 660.30,267.65 660.65,265.74 661.00,265.85 661.35,268.44 661.70,270.12 662.05,269.52 662.40,266.85 662.75,265.22 663.10,266.53 663.45,268.79 663.80,270.10 664.15,268.92 664.50,266.27 664.85,265.17 665.20,266.75 665.55,269.55 665.90,270.04 666.25,268.43 666.60,265.97 666.95,265.44 667.30,267.55 667.65,269.70 668.00,269.71 668.35,267.67 668.70,266.03 669.05,266.15 669.40,268.01 669.75,269.85 670.10,269.31 670.45,267.16 670.80,265.92 671.15,266.84 671.50,268.76 671.85,269.41 672.20,268.53 672.55,267.11 672.90,266.26 673.25,267.35 673.60,268.72 673.95,269.34 674.30,268.26 674.65,266.83 675.00,266.64 675.35,267.68 675.70,268.86 676.05,268.99 676.40,268.12 676.75,266.81 677.10,266.88 677.45,268.14 677.80,269.42 678.15,269.21 678.50,267.57 678.85,266.73 679.20,267.15 679.55,268.90 679.90,269.59 680.25,269.15 680.60,267.16 680.95,266.20 681.30,267.43 681.65,269.62 682.00,270.14 682.35,268.59 682.70,266.59 683.05,266.06 683.40,267.92 683.75,270.29" stroke="#5b85f2"/>
<path d="M385.20,254.71 385.55,255.07 385.90,255.29 386.25,255.25 386.60,255.01 386.95,254.92 387.30,255.11 387.65,255.44 388.00,255.63 388.35,255.50 388.70,255.30 389.05,255.26 389.40,255.48 389.75,255.81 390.10,255.91 390.45,255.75 390.80,255.59 391.15,255.65 391.50,255.89 391.85,256.16 392.20,256.20 392.55,256.04 392.90,255.91 393.25,256.05 393.60,256.30 393.95,256.52 394.30,256.50 394.65,256.36 395.00,256.33 395.35,256.49 395.70,256.73 396.05,256.86 396.40,256.82 396.75,256.71 397.10,256.70 397.45,256.92 397.80,257.17 398.15,257.27 398.50,257.15 398.85,257.07 399.20,257.12 399.55,257.37 399.90,257.63 400.25,257.68 400.60,257.51 400.95,257.37 401.30,257.51 401.65,257.84 402.00,258.11 402.35,258.10 402.70,257.84 403.05,257.74 403.40,257.97 403.75,258.39 404.10,258.60 404.45,258.48 404.80,258.18 405.15,258.15 405.50,258.46 405.85,258.91 406.20,259.11 406.55,258.85 406.90,258.57 407.25,258.54 407.60,259.07 407.95,259.52 408.30,259.62 408.65,259.21 409.00,258.92 409.35,259.06 409.70,259.61 410.05,260.03 410.40,259.99 410.75,259.56 411.10,259.38 411.45,259.70 411.80,260.20 412.15,260.55 412.50,260.39 412.85,260.03 413.20,259.93 413.55,260.32 413.90,260.76 414.25,260.94 414.60,260.77 414.95,260.49 415.30,260.50 415.65,260.93 416.00,261.30 416.35,261.35 416.70,261.16 417.05,260.96 417.40,261.06 417.75,261.49 418.10,261.80 418.45,261.74 418.80,261.53 419.15,261.43 419.50,261.65 419.85,262.05 420.20,262.25 420.55,262.16 420.90,261.98 421.25,261.98 421.60,262.25 421.95,262.61 422.30,262.75 422.65,262.63 423.00,262.42 423.35,262.43 423.70,262.86 424.05,263.21 424.40,263.34 424.75,263.07 425.10,262.81 425.45,263.00 425.80,263.42 426.15,263.92 426.50,263.85 426.85,263.49 427.20,263.29 427.55,263.54 427.90,264.15 428.25,264.53 428.60,264.32 428.95,263.91 429.30,263.72 429.65,264.14 430.00,264.89 430.35,265.08 430.70,264.78 431.05,264.21 431.40,264.25 431.75,264.84 432.10,265.52 432.45,265.65 432.80,265.07 433.15,264.62 433.50,264.77 433.85,265.50 434.20,266.07 434.55,265.98 434.90,265.43 435.25,265.02 435.60,265.44 435.95,266.07 436.30,266.48 436.65,266.27 437.00,265.70 437.35,265.54 437.70,265.99 438.05,266.64 438.40,266.86 438.75,266.53 439.10,266.11 439.45,266.03 439.80,266.58 440.15,267.08 440.50,267.15 440.85,266.77 441.20,266.52 441.55,266.64 441.90,267.15 442.25,267.52 442.60,267.51 442.95,267.18 443.30,267.00 443.65,267.14 444.00,267.64 444.35,267.97 444.70,267.80 445.05,267.52 445.40,267.36 445.75,267.67 446.10,268.09 446.45,268.35 446.80,268.04 447.15,267.75 447.50,267.62 447.85,268.07 448.20,268.64 448.55,268.62 448.90,268.28 449.25,267.84 449.60,267.93 449.95,268.41 450.30,269.00 450.65,268.81 451.00,268.25 451.35,267.76 451.70,268.05 452.05,268.78 452.40,269.10 452.75,268.79 453.10,268.08 453.45,267.61 453.80,268.08 454.15,268.98 454.50,269.28 454.85,268.62 455.20,267.86 455.55,267.61 455.90,268.32 456.25,269.07 456.60,269.14 456.95,268.35 457.30,267.60 457.65,267.70 458.00,268.49 458.35,269.17 458.70,269.01 459.05,268.19 459.40,267.53 459.75,267.89 460.10,268.65 460.45,269.10 460.80,268.68 461.15,267.93 461.50,267.55 461.85,268.03 462.20,268.72 462.55,268.88 462.90,268.40 463.25,267.75 463.60,267.72 463.95,268.10 464.30,268.61 464.65,268.63 465.00,268.27 465.35,267.77 465.70,267.74 466.05,268.20 466.40,268.69 466.75,268.52 467.10,267.99 467.45,267.63 467.80,267.80 468.15,268.31 468.50,268.55 468.85,268.36 469.20,267.80 469.55,267.51 469.90,267.71 470.25,268.25 470.60,268.45 470.95,268.09 471.30,267.49 471.65,267.26 472.00,267.72 472.35,268.34 472.70,268.29 473.05,267.74 473.40,267.02 473.75,267.08 474.10,267.72 474.45,268.37 474.80,268.20 475.15,267.33 475.50,266.68 475.85,266.97 476.20,267.90 476.55,268.52 476.90,267.99 477.25,267.08 477.60,266.58 477.95,267.18 478.30,268.20 478.65,268.54 479.00,267.77 479.35,266.79 479.70,266.56 480.05,267.39 480.40,268.47 480.75,268.63 481.10,267.70 481.45,266.89 481.80,266.88 482.15,267.87 482.50,268.72 482.85,268.65 483.20,267.75 483.55,267.04 483.90,267.44 484.25,268.34 484.60,269.00 484.95,268.61 485.30,267.78 485.65,267.46 486.00,268.00 486.35,268.93 486.70,269.27 487.05,268.74 487.40,268.24 487.75,268.16 488.10,268.75 488.45,269.48 488.80,269.62 489.15,269.29 489.50,268.76 489.85,269.08 490.20,269.64 490.55,270.31 490.90,270.34 491.25,270.10 491.60,269.78 491.95,270.11 492.30,270.96 492.65,271.69 493.00,271.57 493.35,271.24 493.70,271.37 494.05,271.90 494.40,273.06 494.75,273.74 495.10,273.61 495.45,273.37 495.80,273.60 496.15,274.76 496.50,276.15 496.85,276.98 497.20,276.93 497.55,276.81 497.90,277.68 498.25,279.39 498.60,281.34 498.95,282.22 499.30,282.44 499.65,283.08 500.00,284.65 500.35,287.46 500.70,289.98 501.05,291.56 501.40,292.48 501.75,294.47 502.10,297.84 502.40,302.01 502.45,302.54 502.50,303.24 502.55,303.96 502.60,304.63 502.65,305.25 502.70,305.94 502.75,306.68 502.80,307.19 502.85,307.91 502.90,308.48 502.95,309.12 503.00,309.66 503.05,310.38 503.10,310.93 503.15,311.73 503.20,312.36 503.25,312.99 503.30,313.75 503.35,314.50 503.40,315.46 503.45,316.26 503.50,317.25 503.55,318.44 503.60,319.61 503.65,320.80 503.70,322.11 503.75,323.71 503.80,325.43 503.85,327.28 503.90,329.28 503.95,331.63 504.00,334.21 504.05,337.13 504.10,340.43 504.15,344.40 504.20,349.16 504.25,355.24 504.30,362.98 504.35,372.65 504.40,377.33 504.45,372.98 504.50,363.61 504.55,356.29 504.60,350.55 504.65,346.08 504.70,342.39 504.75,339.15 504.80,336.27 504.85,333.82 504.90,331.69 504.95,329.58 505.00,327.63 505.05,325.72 505.10,324.10 505.15,322.55 505.20,320.94 505.25,319.55 505.30,318.21 505.35,316.78 505.40,315.46 505.45,314.31 505.50,313.20 505.55,312.25 505.60,311.17 505.65,310.22 505.70,309.32 505.75,308.57 505.80,307.88 505.85,307.01 505.90,306.49 505.95,305.79 506.00,305.29 506.05,304.72 506.10,304.33 506.15,303.94 506.20,303.46 506.25,303.06 506.30,302.62 506.35,302.34 506.40,301.94 506.65,300.20 507.00,297.02 507.35,293.50 507.70,290.29 508.05,288.58 508.40,288.04 508.75,286.95 509.10,285.12 509.45,282.85 509.80,281.28 510.15,280.56 510.50,280.47 510.85,279.96 511.20,278.54 511.55,276.99 511.90,276.14 512.25,276.02 512.60,276.33 512.95,275.88 513.30,274.77 513.65,273.69 514.00,273.18 514.35,273.48 514.70,273.71 515.05,273.33 515.40,272.35 515.75,271.68 516.10,271.52 516.45,272.00 516.80,272.32 517.15,271.90 517.50,271.03 517.85,270.46 518.20,270.61 518.55,271.29 518.90,271.61 519.25,270.92 519.60,269.96 519.95,269.43 520.30,270.02 520.65,270.93 521.00,271.04 521.35,270.28 521.70,269.25 522.05,269.00 522.40,270.03 522.75,270.85 523.10,270.86 523.45,269.57 523.80,268.67 524.15,268.93 524.50,270.08 524.85,270.98 525.20,270.60 525.55,269.03 525.90,268.18 526.25,268.88 526.60,270.25 526.95,270.90 527.30,270.23 527.65,268.64 528.00,268.14 528.35,269.13 528.70,270.59 529.05,270.81 529.40,269.68 529.75,268.32 530.10,268.41 530.45,269.49 530.80,270.61 531.15,270.38 531.50,269.34 531.85,268.38 532.20,268.62 532.55,269.75 532.90,270.43 533.25,269.92 533.60,268.95 533.95,268.40 534.30,268.73 534.65,269.79 535.00,270.15 535.35,269.55 535.70,268.71 536.05,268.34 536.40,268.94 536.75,269.68 537.10,269.86 537.45,269.19 537.80,268.48 538.15,268.52 538.50,269.12 538.85,269.71 539.20,269.66 539.55,268.95 539.90,268.28 540.25,268.41 540.60,269.25 540.95,269.81 541.30,269.69 541.65,268.71 542.00,268.07 542.35,268.40 542.70,269.38 543.05,269.98 543.40,269.47 543.75,268.22 544.10,267.83 544.45,268.67 544.80,269.86 545.15,269.96 545.50,269.09 545.85,267.97 546.20,267.57 546.55,268.80 546.90,270.00 547.25,269.95 547.60,268.75 547.95,267.45 548.30,267.76 548.65,269.12 549.00,270.30 549.35,269.74 549.70,268.30 550.05,267.26 550.40,267.89 550.75,269.63 551.10,270.34 551.45,269.29 551.80,267.66 552.15,267.21 552.50,268.10 552.85,269.81 553.20,270.18 553.55,268.88 553.90,267.52 554.25,267.38 554.60,268.64 554.95,269.88 555.30,269.81 555.65,268.36 556.00,267.50 556.35,267.58 556.70,268.88 557.05,269.61 557.40,269.42 557.75,268.16 558.10,267.37 558.45,268.02 558.80,268.97 559.15,269.49 559.50,268.89 559.85,267.87 560.20,267.64 560.55,268.02 560.90,269.05 561.25,269.13 561.60,268.63 561.95,267.80 562.30,267.63 562.65,268.36 563.00,269.08 563.35,269.10 563.70,268.30 564.05,267.31 564.40,267.49 564.75,268.36 565.10,269.07 565.45,268.72 565.80,267.90 566.15,267.17 566.50,267.38 566.85,268.67 567.20,269.17 567.55,268.51 567.90,267.15 568.25,266.79 568.60,267.47 568.95,268.85 569.30,269.19 569.65,268.27 570.00,266.58 570.35,266.22 570.70,267.59 571.05,269.02 571.40,269.00 571.75,267.48 572.10,266.00 572.45,266.25 572.80,268.01 573.15,269.14 573.50,268.66 573.85,266.89 574.20,265.77 574.55,266.25 574.90,268.17 575.25,269.23 575.60,268.15 575.95,266.46 576.30,265.68 576.65,266.57 577.00,268.53 577.35,268.77 577.70,267.65 578.05,265.99 578.40,265.69 578.75,266.91 579.10,268.50 579.45,268.53 579.80,267.08 580.15,265.96 580.50,266.06 580.85,267.42 581.20,268.39 581.55,267.91 581.90,266.83 582.25,265.99 582.60,266.39 582.95,267.60 583.30,267.98 583.65,267.40 584.00,266.61 584.35,265.94 584.70,266.74 585.05,267.55 585.40,268.06 585.75,267.17 586.10,266.19 586.45,266.21 586.80,267.02 587.15,267.88 587.50,267.80 587.85,266.96 588.20,266.26 588.55,266.11 588.90,267.19 589.25,268.02 589.60,267.81 589.95,266.92 590.30,265.89 590.65,266.54 591.00,267.83 591.35,268.57 591.70,268.05 592.05,266.59 592.40,265.84 592.75,266.73 593.10,268.23 593.45,268.95 593.80,267.83 594.15,266.10 594.50,265.90 594.85,267.16 595.20,268.95 595.55,269.12 595.90,267.61 596.25,265.92 596.60,266.23 596.95,267.99 597.30,269.55 597.65,269.10 598.00,267.19 598.35,266.01 598.70,266.60 599.05,268.64 599.40,269.82 599.75,269.04 600.10,267.22 600.45,266.20 600.80,267.66 601.15,269.44 601.50,270.16 601.85,268.84 602.20,267.27 602.55,267.14 602.90,268.58 603.25,270.23 603.60,270.20 603.95,268.94 604.30,267.89 604.65,268.17 605.00,269.51 605.35,270.84 605.70,270.59 606.05,269.55 606.40,268.86 606.75,269.34 607.10,270.86 607.45,271.72 607.80,271.35 608.15,270.35 608.50,270.35 608.85,271.20 609.20,272.59 609.55,273.29 609.90,272.89 610.25,272.12 610.60,272.50 610.95,273.61 611.30,275.26 611.65,275.90 612.00,275.56 612.35,275.13 612.70,276.00 613.05,277.78 613.40,279.78 613.75,280.41 614.10,280.19 614.45,280.33 614.80,281.81 615.15,284.99 615.50,287.60 615.85,288.62 616.20,288.63 616.55,290.09 616.90,293.28 617.25,298.20 617.60,302.21 617.65,302.56 617.70,303.19 617.75,303.46 617.80,303.65 617.85,304.10 617.90,304.57 617.95,304.74 618.00,305.21 618.05,305.49 618.10,306.03 618.15,306.43 618.20,306.77 618.25,307.25 618.30,307.82 618.35,308.62 618.40,309.22 618.45,310.02 618.50,310.89 618.55,311.87 618.60,312.69 618.65,314.04 618.70,315.20 618.75,316.67 618.80,317.90 618.85,319.51 618.90,321.40 618.95,322.94 619.00,324.91 619.05,327.13 619.10,329.42 619.15,331.98 619.20,334.97 619.25,337.95 619.30,341.43 619.35,345.50 619.40,350.05 619.45,355.99 619.50,363.78 619.55,373.27 619.60,377.98 619.65,373.37 619.70,363.73 619.75,355.91 619.80,349.72 619.85,345.02 619.90,340.89 619.95,337.34 620.00,334.30 620.05,331.62 620.10,328.87 620.15,326.86 620.20,324.61 620.25,322.48 620.30,320.73 620.35,319.16 620.40,317.46 620.45,316.06 620.50,314.78 620.55,313.75 620.60,312.54 620.65,311.58 620.70,310.65 620.75,309.99 620.80,309.15 620.85,308.61 620.90,308.23 620.95,307.62 621.00,307.31 621.05,306.76 621.10,306.49 621.15,305.91 621.20,305.79 621.25,305.29 621.30,304.93 621.35,304.72 621.40,304.26 621.45,303.97 621.50,303.47 621.55,302.96 621.60,302.34 621.80,299.94 622.15,294.91 622.50,290.52 622.85,288.92 623.20,289.06 623.55,288.63 623.90,285.96 624.25,282.44 624.60,280.07 624.95,280.05 625.30,281.02 625.65,280.76 626.00,278.51 626.35,275.93 626.70,274.87 627.05,275.47 627.40,276.53 627.75,276.14 628.10,274.14 628.45,272.26 628.80,271.84 629.15,272.87 629.50,273.64 629.85,273.00 630.20,271.45 630.55,270.22 630.90,270.24 631.25,271.14 631.60,271.93 631.95,271.24 632.30,269.70 632.65,268.75 633.00,269.28 633.35,270.39 633.70,270.50 634.05,269.74 634.40,268.39 634.75,267.92 635.10,268.97 635.45,270.01 635.80,269.92 636.15,268.92 636.50,267.41 636.85,267.58 637.20,268.45 637.55,269.76 637.90,269.63 638.25,267.92 638.60,266.70 638.95,267.06 639.30,268.83 639.65,269.79 640.00,269.30 640.35,267.25 640.70,266.17 641.05,267.15 641.40,269.12 641.75,270.12 642.10,268.60 642.45,266.39 642.80,265.77 643.15,267.21 643.50,269.50 643.85,269.90 644.20,267.84 644.55,265.70 644.90,265.69 645.25,267.46 645.60,269.45 645.95,269.44 646.30,266.99 646.65,265.18 647.00,265.87 647.35,268.03 647.70,269.63 648.05,268.73 648.40,266.39 648.75,265.32 649.10,266.32 649.45,268.13 649.80,269.06 650.15,267.96 650.50,265.75 650.85,265.43 651.20,266.55 651.55,268.44 651.90,268.48 652.25,267.26 652.60,265.61 652.95,265.85 653.30,267.09 653.65,268.34 654.00,268.00 654.35,266.63 654.70,265.87 655.05,266.07 655.40,267.44 655.75,268.34 656.10,267.85 656.45,266.60 656.80,265.79 657.15,266.33 657.50,267.42 657.85,268.10 658.20,267.30 658.55,266.16 658.90,265.69 659.25,266.59 659.60,268.03 659.95,268.43 660.30,267.18 660.65,265.48 661.00,265.68 661.35,266.90 661.70,268.50 662.05,268.21 662.40,266.83 662.75,265.14 663.10,265.41 663.45,267.45 663.80,269.04 664.15,268.07 664.50,266.25 664.85,264.54 665.20,265.60 665.55,267.94 665.90,269.11 666.25,267.94 666.60,265.36 666.95,264.53 667.30,266.21 667.65,268.80 668.00,269.18 668.35,267.39 668.70,264.87 669.05,264.86 669.40,267.11 669.75,269.03 670.10,269.10 670.45,266.73 670.80,264.49 671.15,265.11 671.50,267.75 671.85,269.29 672.20,268.52 672.55,266.13 672.90,264.93 673.25,265.98 673.60,267.93 673.95,269.07 674.30,267.89 674.65,265.83 675.00,265.15 675.35,266.71 675.70,268.26 676.05,268.76 676.40,267.56 676.75,265.96 677.10,265.57 677.45,267.00 677.80,268.32 678.15,268.41 678.50,267.03 678.85,266.01 679.20,266.15 679.55,267.58 679.90,268.64 680.25,267.97 680.60,266.85 680.95,266.22 681.30,266.49 681.65,268.21 682.00,268.86 682.35,268.04 682.70,266.70 683.05,266.02 683.40,267.03 683.75,268.58" stroke="#f24a55"/>
</g>
<rect x="385.2" y="237.0" width="298.60" height="161.20" fill="none" stroke="#8a8a8a" stroke-width="0.8"/><path d="M412.98,398.2 v-2.2 M412.98,237.0 v2.2 M447.70,398.2 v-2.2 M447.70,237.0 v2.2 M482.42,398.2 v-2.2 M482.42,237.0 v2.2 M517.14,398.2 v-2.2 M517.14,237.0 v2.2 M551.86,398.2 v-2.2 M551.86,237.0 v2.2 M586.58,398.2 v-2.2 M586.58,237.0 v2.2 M621.30,398.2 v-2.2 M621.30,237.0 v2.2 M656.02,398.2 v-2.2 M656.02,237.0 v2.2 M385.2,254.91 h2.2 M683.8,254.91 h-2.2 M385.2,272.82 h2.2 M683.8,272.82 h-2.2 M385.2,290.73 h2.2 M683.8,290.73 h-2.2 M385.2,308.64 h2.2 M683.8,308.64 h-2.2 M385.2,326.56 h2.2 M683.8,326.56 h-2.2 M385.2,344.47 h2.2 M683.8,344.47 h-2.2 M385.2,362.38 h2.2 M683.8,362.38 h-2.2 M385.2,380.29 h2.2 M683.8,380.29 h-2.2 " stroke="#8a8a8a" stroke-width="0.8" fill="none"/>
<text x="382.3" y="239.10" font-size="7.5" fill="#3a3a3a" text-anchor="end" stroke="#3a3a3a" stroke-width="0.2">10</text>
<text x="382.3" y="257.01" font-size="7.5" fill="#3a3a3a" text-anchor="end" stroke="#3a3a3a" stroke-width="0.2">0</text>
<text x="382.3" y="274.92" font-size="7.5" fill="#3a3a3a" text-anchor="end" stroke="#3a3a3a" stroke-width="0.2">−10</text>
<text x="382.3" y="292.83" font-size="7.5" fill="#3a3a3a" text-anchor="end" stroke="#3a3a3a" stroke-width="0.2">−20</text>
<text x="382.3" y="310.74" font-size="7.5" fill="#3a3a3a" text-anchor="end" stroke="#3a3a3a" stroke-width="0.2">−30</text>
<text x="382.3" y="328.66" font-size="7.5" fill="#3a3a3a" text-anchor="end" stroke="#3a3a3a" stroke-width="0.2">−40</text>
<text x="382.3" y="346.57" font-size="7.5" fill="#3a3a3a" text-anchor="end" stroke="#3a3a3a" stroke-width="0.2">−50</text>
<text x="382.3" y="364.48" font-size="7.5" fill="#3a3a3a" text-anchor="end" stroke="#3a3a3a" stroke-width="0.2">−60</text>
<text x="382.3" y="382.39" font-size="7.5" fill="#3a3a3a" text-anchor="end" stroke="#3a3a3a" stroke-width="0.2">−70</text>
<text x="382.3" y="400.30" font-size="7.5" fill="#3a3a3a" text-anchor="end" stroke="#3a3a3a" stroke-width="0.2">−80</text>
<text x="447.70" y="407.1" font-size="7.5" fill="#3a3a3a" text-anchor="middle" stroke="#3a3a3a" stroke-width="0.2">5</text>
<text x="517.14" y="407.1" font-size="7.5" fill="#3a3a3a" text-anchor="middle" stroke="#3a3a3a" stroke-width="0.2">10</text>
<text x="586.58" y="407.1" font-size="7.5" fill="#3a3a3a" text-anchor="middle" stroke="#3a3a3a" stroke-width="0.2">15</text>
<text x="656.02" y="407.1" font-size="7.5" fill="#3a3a3a" text-anchor="middle" stroke="#3a3a3a" stroke-width="0.2">20</text>
<text x="498.0" y="418" font-size="9.6" textLength="71.0" lengthAdjust="spacingAndGlyphs" fill="#111" stroke="#111" stroke-width="0.2">Frequency (GHz)</text>
<text transform="translate(363.2,317.2) rotate(-90)" font-size="9.2" text-anchor="middle" fill="#111" stroke="#111" stroke-width="0.2">S21 (dB)</text>
<text x="538" y="252.9" font-size="9.25" text-anchor="middle" fill="#111" stroke="#111" stroke-width="0.2">Dual-band notch filter</text>
<text x="350.9" y="237.5" class="b" font-size="14" stroke="#000" stroke-width="0.4">d</text>
<line x1="556.4" y1="274.3" x2="556.4" y2="374.0" stroke="#000" stroke-width="1.15" stroke-dasharray="2.3,1.05"/><path d="M556.4,270.8 L558.6999999999999,275.1 L556.4,274.1 L554.1,275.1 Z M556.4,377.5 L558.6999999999999,373.2 L556.4,374.2 L554.1,373.2 Z" fill="#000"/>
<text x="558.1" y="383.5" font-size="9.1" fill="#111" stroke="#111" stroke-width="0.2">60 dB</text>
<text x="502.2" y="385" font-size="9.6" fill="#f24a55" stroke="#f24a55" stroke-width="0.2">f<tspan font-size="6.8" dy="2.3">1</tspan><tspan font-size="9" dy="-2.3"></tspan></text>
<text x="519.0" y="385" font-size="9.6" fill="#5b85f2" stroke="#5b85f2" stroke-width="0.2">f<tspan font-size="6.8" dy="2.3">1</tspan><tspan font-size="9" dy="-2.3">'</tspan></text>
<text x="532.9" y="385" font-size="9.6" fill="#6a58a8" stroke="#6a58a8" stroke-width="0.2">f<tspan font-size="6.8" dy="2.3">1</tspan><tspan font-size="9" dy="-2.3">''</tspan></text>
<text x="616.4" y="383.8" font-size="9.6" fill="#f24a55" stroke="#f24a55" stroke-width="0.2">f<tspan font-size="6.8" dy="2.3">2</tspan><tspan font-size="9" dy="-2.3"></tspan></text>
<text x="624.8" y="383.8" font-size="9.6" fill="#5b85f2" stroke="#5b85f2" stroke-width="0.2">f<tspan font-size="6.8" dy="2.3">2</tspan><tspan font-size="9" dy="-2.3">'</tspan></text>
<text x="636.5" y="383.8" font-size="9.6" fill="#6a58a8" stroke="#6a58a8" stroke-width="0.2">f<tspan font-size="6.8" dy="2.3">2</tspan><tspan font-size="9" dy="-2.3">''</tspan></text>
</svg></body></html>
